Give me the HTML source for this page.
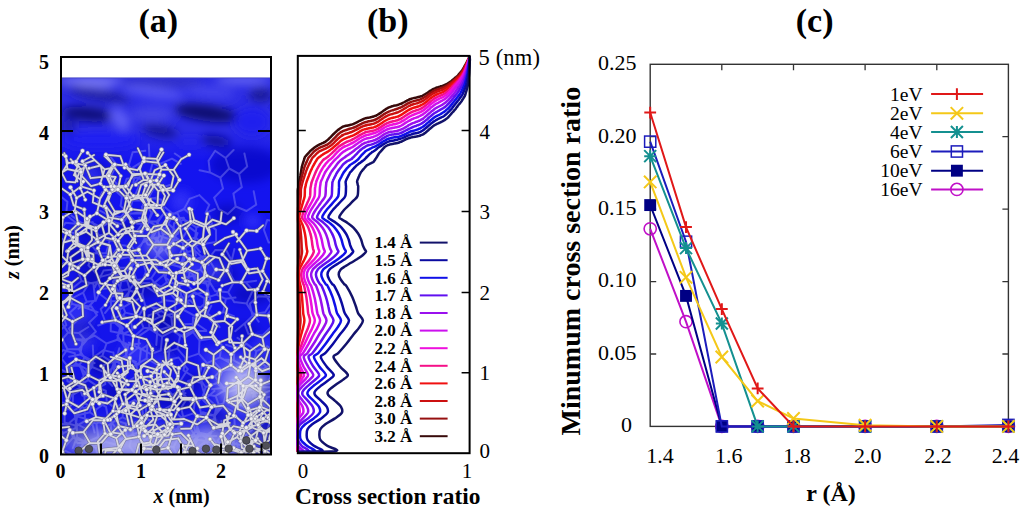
<!DOCTYPE html>
<html><head><meta charset="utf-8"><style>
html,body{margin:0;padding:0;background:#fff;}
svg{display:block;font-family:"Liberation Serif", serif;}
</style></head><body>
<svg width="1024" height="512" viewBox="0 0 1024 512" font-family='"Liberation Serif", serif'>
<rect width="1024" height="512" fill="#fff"/>
<text x="158.3" y="31.5" text-anchor="middle" font-size="34" font-weight="bold">(a)</text>
<text x="387.7" y="31.5" text-anchor="middle" font-size="34" font-weight="bold">(b)</text>
<text x="814.6" y="31.5" text-anchor="middle" font-size="34" font-weight="bold">(c)</text>
<path d="M650.2,354.0h6M1008.4,354.0h-6M650.2,281.6h6M1008.4,281.6h-6M650.2,209.1h6M1008.4,209.1h-6M650.2,136.7h6M1008.4,136.7h-6M721.8,426.4v-6M721.8,64.3v6M793.5,426.4v-6M793.5,64.3v6M865.1,426.4v-6M865.1,64.3v6M936.8,426.4v-6M936.8,64.3v6" stroke="#333" stroke-width="1.3" fill="none"/>
<text x="626.4" y="432.2" text-anchor="middle" font-size="22">0</text>
<text x="636.5" y="359.8" text-anchor="end" font-size="22">0.05</text>
<text x="636.5" y="287.4" text-anchor="end" font-size="22">0.10</text>
<text x="636.5" y="214.9" text-anchor="end" font-size="22">0.15</text>
<text x="636.5" y="142.5" text-anchor="end" font-size="22">0.20</text>
<text x="636.5" y="70.1" text-anchor="end" font-size="22">0.25</text>
<text x="660" y="462.5" text-anchor="middle" font-size="22">1.4</text>
<text x="728.7" y="462.5" text-anchor="middle" font-size="22">1.6</text>
<text x="797" y="462.5" text-anchor="middle" font-size="22">1.8</text>
<text x="867.8" y="462.5" text-anchor="middle" font-size="22">2.0</text>
<text x="938" y="462.5" text-anchor="middle" font-size="22">2.2</text>
<text x="1005.6" y="462.5" text-anchor="middle" font-size="22">2.4</text>
<text x="831" y="501" text-anchor="middle" font-size="24" font-weight="bold">r (&#197;)</text>
<text transform="translate(579.5,261.2) rotate(-90)" x="0" y="0" text-anchor="middle" font-size="28" font-weight="bold">Minumum cross section ratio</text>
<rect x="650.2" y="64.3" width="358.2" height="362.1" fill="none" stroke="#333" stroke-width="1.4"/>
<g>
<polyline points="650.2,228.8 686.0,321.7 721.8,426.4 757.7,426.4 793.5,426.4 865.1,426.4 936.8,426.4 1008.4,426.4" stroke="#c010c8" stroke-width="2" fill="none"/>
<circle cx="650.2" cy="228.83824" r="6.1" stroke="#c010c8" stroke-width="1.6" fill="none"/>
<circle cx="686.0200000000001" cy="321.68068" r="6.1" stroke="#c010c8" stroke-width="1.6" fill="none"/>
<circle cx="721.8400000000001" cy="426.4" r="6.1" stroke="#c010c8" stroke-width="1.6" fill="none"/>
<circle cx="757.6600000000001" cy="426.4" r="6.1" stroke="#c010c8" stroke-width="1.6" fill="none"/>
<circle cx="793.48" cy="426.4" r="6.1" stroke="#c010c8" stroke-width="1.6" fill="none"/>
<circle cx="865.12" cy="426.4" r="6.1" stroke="#c010c8" stroke-width="1.6" fill="none"/>
<circle cx="936.7600000000001" cy="426.4" r="6.1" stroke="#c010c8" stroke-width="1.6" fill="none"/>
<circle cx="1008.4" cy="426.4" r="6.1" stroke="#c010c8" stroke-width="1.6" fill="none"/>
<polyline points="650.2,205.1 686.0,295.9 721.8,426.4 757.7,426.4 793.5,426.4 865.1,426.4 936.8,426.4 1008.4,426.4" stroke="#000084" stroke-width="2" fill="none"/>
<rect x="644.25" y="199.13448000000002" width="11.9" height="11.9" fill="#000084"/>
<rect x="680.07" y="289.94916" width="11.9" height="11.9" fill="#000084"/>
<rect x="715.8900000000001" y="420.45" width="11.9" height="11.9" fill="#000084"/>
<rect x="751.71" y="420.45" width="11.9" height="11.9" fill="#000084"/>
<rect x="787.53" y="420.45" width="11.9" height="11.9" fill="#000084"/>
<rect x="859.17" y="420.45" width="11.9" height="11.9" fill="#000084"/>
<rect x="930.8100000000001" y="420.45" width="11.9" height="11.9" fill="#000084"/>
<rect x="1002.4499999999999" y="420.45" width="11.9" height="11.9" fill="#000084"/>
<polyline points="650.2,141.6 686.0,241.7 721.8,426.4 757.7,426.4 793.5,426.4 865.1,426.4 936.8,426.4 1008.4,425.0" stroke="#1c1cbc" stroke-width="2" fill="none"/>
<rect x="644.6" y="136.04456000000002" width="11.2" height="11.2" stroke="#1c1cbc" stroke-width="1.5" fill="none"/>
<rect x="680.4200000000001" y="236.129" width="11.2" height="11.2" stroke="#1c1cbc" stroke-width="1.5" fill="none"/>
<rect x="716.2400000000001" y="420.79999999999995" width="11.2" height="11.2" stroke="#1c1cbc" stroke-width="1.5" fill="none"/>
<rect x="752.0600000000001" y="420.79999999999995" width="11.2" height="11.2" stroke="#1c1cbc" stroke-width="1.5" fill="none"/>
<rect x="787.88" y="420.79999999999995" width="11.2" height="11.2" stroke="#1c1cbc" stroke-width="1.5" fill="none"/>
<rect x="859.52" y="420.79999999999995" width="11.2" height="11.2" stroke="#1c1cbc" stroke-width="1.5" fill="none"/>
<rect x="931.1600000000001" y="420.79999999999995" width="11.2" height="11.2" stroke="#1c1cbc" stroke-width="1.5" fill="none"/>
<rect x="1002.8" y="419.35159999999996" width="11.2" height="11.2" stroke="#1c1cbc" stroke-width="1.5" fill="none"/>
<polyline points="650.2,156.1 686.0,248.1 721.8,323.6 757.7,426.4 793.5,426.4 865.1,426.4 936.8,426.4 1008.4,426.4" stroke="#149090" stroke-width="2" fill="none"/>
<path d="M644.2,156.12856h12.0M650.2,150.12856v12.0M644.2,150.12856l12.0,12.0M644.2,162.12856l12.0,-12.0" stroke="#149090" stroke-width="2" fill="none"/>
<path d="M680.0200000000001,248.10196h12.0M686.0200000000001,242.10196v12.0M680.0200000000001,242.10196l12.0,12.0M680.0200000000001,254.10196l12.0,-12.0" stroke="#149090" stroke-width="2" fill="none"/>
<path d="M715.8400000000001,323.5636h12.0M721.8400000000001,317.5636v12.0M715.8400000000001,317.5636l12.0,12.0M715.8400000000001,329.5636l12.0,-12.0" stroke="#149090" stroke-width="2" fill="none"/>
<path d="M751.6600000000001,426.4h12.0M757.6600000000001,420.4v12.0M751.6600000000001,420.4l12.0,12.0M751.6600000000001,432.4l12.0,-12.0" stroke="#149090" stroke-width="2" fill="none"/>
<path d="M787.48,426.4h12.0M793.48,420.4v12.0M787.48,420.4l12.0,12.0M787.48,432.4l12.0,-12.0" stroke="#149090" stroke-width="2" fill="none"/>
<path d="M859.12,426.4h12.0M865.12,420.4v12.0M859.12,420.4l12.0,12.0M859.12,432.4l12.0,-12.0" stroke="#149090" stroke-width="2" fill="none"/>
<path d="M930.7600000000001,426.4h12.0M936.7600000000001,420.4v12.0M930.7600000000001,420.4l12.0,12.0M930.7600000000001,432.4l12.0,-12.0" stroke="#149090" stroke-width="2" fill="none"/>
<path d="M1002.4,426.4h12.0M1008.4,420.4v12.0M1002.4,420.4l12.0,12.0M1002.4,432.4l12.0,-12.0" stroke="#149090" stroke-width="2" fill="none"/>
<polyline points="650.2,181.9 686.0,277.4 721.8,357.0 757.7,401.1 793.5,418.4 865.1,425.2 936.8,426.4 1008.4,426.4" stroke="#f4c818" stroke-width="2" fill="none"/>
<path d="M644.0,175.71008l12.4,12.4M644.0,188.11007999999998l12.4,-12.4" stroke="#f4c818" stroke-width="2" fill="none"/>
<path d="M679.82,271.15964l12.4,12.4M679.82,283.55964l12.4,-12.4" stroke="#f4c818" stroke-width="2" fill="none"/>
<path d="M715.6400000000001,350.82164l12.4,12.4M715.6400000000001,363.22164l12.4,-12.4" stroke="#f4c818" stroke-width="2" fill="none"/>
<path d="M751.46,394.853l12.4,12.4M751.46,407.253l12.4,-12.4" stroke="#f4c818" stroke-width="2" fill="none"/>
<path d="M787.28,412.2338l12.4,12.4M787.28,424.63379999999995l12.4,-12.4" stroke="#f4c818" stroke-width="2" fill="none"/>
<path d="M858.92,419.04128l12.4,12.4M858.92,431.44127999999995l12.4,-12.4" stroke="#f4c818" stroke-width="2" fill="none"/>
<path d="M930.5600000000001,420.2l12.4,12.4M930.5600000000001,432.59999999999997l12.4,-12.4" stroke="#f4c818" stroke-width="2" fill="none"/>
<path d="M1002.1999999999999,420.2l12.4,12.4M1002.1999999999999,432.59999999999997l12.4,-12.4" stroke="#f4c818" stroke-width="2" fill="none"/>
<polyline points="650.2,112.5 686.0,227.1 721.8,309.1 757.7,388.5 793.5,426.4 865.1,426.4 936.8,426.4 1008.4,426.4" stroke="#e01818" stroke-width="2" fill="none"/>
<path d="M644.3000000000001,112.53172h11.8M650.2,106.63172v11.8" stroke="#e01818" stroke-width="2" fill="none"/>
<path d="M680.1200000000001,227.10016h11.8M686.0200000000001,221.20015999999998v11.8" stroke="#e01818" stroke-width="2" fill="none"/>
<path d="M715.9400000000002,309.07959999999997h11.8M721.8400000000001,303.1796v11.8" stroke="#e01818" stroke-width="2" fill="none"/>
<path d="M751.7600000000001,388.45192h11.8M757.6600000000001,382.55192v11.8" stroke="#e01818" stroke-width="2" fill="none"/>
<path d="M787.58,426.4h11.8M793.48,420.5v11.8" stroke="#e01818" stroke-width="2" fill="none"/>
<path d="M859.22,426.4h11.8M865.12,420.5v11.8" stroke="#e01818" stroke-width="2" fill="none"/>
<path d="M930.8600000000001,426.4h11.8M936.7600000000001,420.5v11.8" stroke="#e01818" stroke-width="2" fill="none"/>
<path d="M1002.5,426.4h11.8M1008.4,420.5v11.8" stroke="#e01818" stroke-width="2" fill="none"/>
</g>
<text x="922.5" y="100.8" text-anchor="end" font-size="19.5">1eV</text>
<path d="M931.1,94.1H983.1" stroke="#e01818" stroke-width="2"/>
<path d="M951.0,94.1h11.8M956.9,88.19999999999999v11.8" stroke="#e01818" stroke-width="2" fill="none"/>
<text x="922.5" y="120.0" text-anchor="end" font-size="19.5">2eV</text>
<path d="M931.1,113.3H983.1" stroke="#f4c818" stroke-width="2"/>
<path d="M950.6999999999999,107.1l12.4,12.4M950.6999999999999,119.5l12.4,-12.4" stroke="#f4c818" stroke-width="2" fill="none"/>
<text x="922.5" y="138.7" text-anchor="end" font-size="19.5">4eV</text>
<path d="M931.1,132.0H983.1" stroke="#149090" stroke-width="2"/>
<path d="M950.9,132.0h12.0M956.9,126.0v12.0M950.9,126.0l12.0,12.0M950.9,138.0l12.0,-12.0" stroke="#149090" stroke-width="2" fill="none"/>
<text x="922.5" y="158.2" text-anchor="end" font-size="19.5">6eV</text>
<path d="M931.1,151.5H983.1" stroke="#1c1cbc" stroke-width="2"/>
<rect x="951.3" y="145.9" width="11.2" height="11.2" stroke="#1c1cbc" stroke-width="1.5" fill="none"/>
<text x="922.5" y="177.4" text-anchor="end" font-size="19.5">10eV</text>
<path d="M931.1,170.7H983.1" stroke="#000084" stroke-width="2"/>
<rect x="950.9499999999999" y="164.75" width="11.9" height="11.9" fill="#000084"/>
<text x="922.5" y="196.1" text-anchor="end" font-size="19.5">16eV</text>
<path d="M931.1,189.4H983.1" stroke="#c010c8" stroke-width="2"/>
<circle cx="956.9" cy="189.4" r="6.1" stroke="#c010c8" stroke-width="1.6" fill="none"/>
<text x="479.5" y="458.3" font-size="21">0</text>
<text x="479.5" y="380.1" font-size="21">1</text>
<text x="479.5" y="299.8" font-size="21">2</text>
<text x="479.5" y="218.8" font-size="21">3</text>
<text x="479.5" y="139.3" font-size="21">4</text>
<text x="478.6" y="64.8" font-size="22.5" textLength="61.3" lengthAdjust="spacing">5 (nm)</text>
<text x="303" y="477.5" text-anchor="middle" font-size="21">0</text>
<text x="467" y="477.5" text-anchor="middle" font-size="21">1</text>
<text x="387.7" y="503.5" text-anchor="middle" font-size="23.4" font-weight="bold">Cross section ratio</text>
<text x="412.3" y="248.4" text-anchor="end" font-size="17" font-weight="bold">1.4 &#197;</text>
<path d="M419.8,242.6H447.6" stroke="#12126a" stroke-width="2"/>
<text x="412.3" y="266.0" text-anchor="end" font-size="17" font-weight="bold">1.5 &#197;</text>
<path d="M419.8,260.2H447.6" stroke="#0a0aa0" stroke-width="2"/>
<text x="412.3" y="283.6" text-anchor="end" font-size="17" font-weight="bold">1.6 &#197;</text>
<path d="M419.8,277.8H447.6" stroke="#1010e8" stroke-width="2"/>
<text x="412.3" y="301.2" text-anchor="end" font-size="17" font-weight="bold">1.7 &#197;</text>
<path d="M419.8,295.4H447.6" stroke="#6010f0" stroke-width="2"/>
<text x="412.3" y="318.8" text-anchor="end" font-size="17" font-weight="bold">1.8 &#197;</text>
<path d="M419.8,313.0H447.6" stroke="#9a10ee" stroke-width="2"/>
<text x="412.3" y="336.4" text-anchor="end" font-size="17" font-weight="bold">2.0 &#197;</text>
<path d="M419.8,330.6H447.6" stroke="#cc10ee" stroke-width="2"/>
<text x="412.3" y="354.0" text-anchor="end" font-size="17" font-weight="bold">2.2 &#197;</text>
<path d="M419.8,348.2H447.6" stroke="#ee10dd" stroke-width="2"/>
<text x="412.3" y="371.6" text-anchor="end" font-size="17" font-weight="bold">2.4 &#197;</text>
<path d="M419.8,365.8H447.6" stroke="#f51088" stroke-width="2"/>
<text x="412.3" y="389.2" text-anchor="end" font-size="17" font-weight="bold">2.6 &#197;</text>
<path d="M419.8,383.4H447.6" stroke="#f01010" stroke-width="2"/>
<text x="412.3" y="406.8" text-anchor="end" font-size="17" font-weight="bold">2.8 &#197;</text>
<path d="M419.8,401.0H447.6" stroke="#cc1010" stroke-width="2"/>
<text x="412.3" y="424.4" text-anchor="end" font-size="17" font-weight="bold">3.0 &#197;</text>
<path d="M419.8,418.6H447.6" stroke="#961010" stroke-width="2"/>
<text x="412.3" y="442.0" text-anchor="end" font-size="17" font-weight="bold">3.2 &#197;</text>
<path d="M419.8,436.2H447.6" stroke="#380a0a" stroke-width="2"/>
<g fill="none" stroke-width="2.5" stroke-linejoin="round">
<path d="M298.5,452.0C298.4,451.8 297.9,452.0 297.8,451.0C297.7,450.0 297.8,447.7 297.8,445.8C297.8,443.9 297.8,441.9 297.8,439.9C297.8,437.9 297.8,435.8 297.8,434.0C297.8,432.2 297.8,430.8 297.8,429.2C297.8,427.6 297.8,426.1 297.8,424.3C297.8,422.5 297.8,420.3 297.8,418.4C297.8,416.4 297.8,414.6 297.8,412.6C297.8,410.7 297.8,408.6 297.8,406.7C297.8,404.8 297.8,402.8 297.8,400.9C297.8,398.9 297.8,396.6 297.8,395.0C297.8,393.4 297.8,392.7 297.8,391.1C297.8,389.5 297.8,387.4 297.8,385.3C297.8,383.2 297.8,380.2 297.8,378.4C297.8,376.6 297.8,376.5 297.8,374.5C297.8,372.5 297.8,369.4 297.8,366.5C297.8,363.6 297.8,359.2 297.8,357.0C297.8,354.8 297.8,355.4 297.8,353.2C297.8,351.0 297.8,346.9 297.8,343.8C297.8,340.7 297.8,337.2 297.8,334.5C297.8,331.8 297.8,329.8 297.8,327.4C297.8,325.0 297.8,322.8 297.8,320.4C297.8,318.0 297.8,315.6 297.8,313.3C297.8,311.0 297.8,309.0 297.8,306.3C297.8,303.6 297.8,300.2 297.8,296.9C297.8,293.6 297.8,288.5 297.8,286.3C297.8,284.1 297.8,285.1 297.8,283.9C297.8,282.7 297.8,280.8 297.8,279.2C297.8,277.6 297.8,276.1 297.8,274.5C297.8,272.9 297.8,271.2 297.8,269.8C297.8,268.4 297.8,267.5 297.8,266.3C297.8,265.1 297.8,264.0 297.8,262.8C297.8,261.6 297.8,260.6 297.8,259.3C297.8,258.0 297.8,256.5 297.8,255.2C297.8,253.9 297.8,252.7 297.8,251.7C297.8,250.7 297.8,250.1 297.8,249.0C297.8,247.9 297.8,246.8 297.8,245.2C297.8,243.6 297.8,241.2 297.8,239.3C297.8,237.4 297.8,235.4 297.8,233.5C297.8,231.6 297.8,229.4 297.8,227.6C297.8,225.8 297.8,224.3 297.8,222.9C297.8,221.5 297.8,220.3 297.8,219.4C297.8,218.5 297.8,218.4 297.8,217.7C297.8,217.0 297.8,216.6 297.8,215.3C297.8,214.0 297.8,211.7 297.8,210.0C297.8,208.3 297.8,207.0 297.8,205.4C297.8,203.8 297.8,202.3 297.8,200.7C297.8,199.1 297.8,197.8 297.8,196.0C297.8,194.2 297.7,191.3 297.8,190.0C297.9,188.7 298.0,188.6 298.2,187.9C298.3,187.2 298.4,186.5 298.5,185.8C298.7,185.1 298.8,184.4 298.9,183.7C299.0,183.0 299.1,182.3 299.3,181.6C299.4,180.9 299.5,180.2 299.6,179.5C299.8,178.8 299.9,178.1 300.0,177.4C300.1,176.7 300.2,176.0 300.4,175.3C300.5,174.6 300.6,173.9 300.7,173.2C300.9,172.5 301.0,171.8 301.1,171.1C301.2,170.4 301.4,169.7 301.5,169.0C301.6,168.3 301.7,167.6 301.9,166.9C302.0,166.2 302.2,165.6 302.4,164.9C302.6,164.2 302.8,163.6 303.0,162.9C303.3,162.3 303.5,161.6 303.7,160.9C303.9,160.3 304.1,159.6 304.3,159.0C304.5,158.3 304.6,157.6 304.9,157.0C305.3,156.4 305.8,156.0 306.3,155.5C306.7,155.0 307.2,154.5 307.7,153.9C308.1,153.4 308.6,152.8 309.1,152.3C309.6,151.7 310.1,151.1 310.6,150.6C311.2,150.1 311.8,149.7 312.4,149.2C313.0,148.7 313.6,148.3 314.2,147.8C314.8,147.3 315.4,146.9 316.0,146.5C316.6,146.1 317.2,145.7 317.8,145.4C318.4,145.0 319.1,144.7 319.7,144.4C320.3,144.1 320.9,143.8 321.5,143.6C322.1,143.3 322.7,143.1 323.3,142.8C323.9,142.5 324.5,142.2 325.0,141.9C325.6,141.5 326.1,141.1 326.6,140.7C327.2,140.3 327.7,139.8 328.2,139.4C328.8,138.9 329.3,138.4 329.8,137.9C330.4,137.4 330.9,136.9 331.4,136.3C332.0,135.7 332.5,135.1 333.1,134.5C333.6,134.0 334.2,133.4 334.8,132.8C335.4,132.2 336.0,131.7 336.6,131.2C337.2,130.7 337.8,130.1 338.5,129.6C339.1,129.2 339.7,128.7 340.3,128.3C340.9,127.8 341.5,127.5 342.1,127.1C342.8,126.8 343.3,126.4 344.0,126.2C344.6,126.0 345.3,125.9 345.9,125.7C346.6,125.6 347.3,125.5 347.9,125.4C348.6,125.3 349.2,125.2 349.9,125.0C350.5,124.9 351.2,124.7 351.9,124.5C352.5,124.3 353.2,124.1 353.8,123.8C354.5,123.6 355.1,123.3 355.8,122.9C356.5,122.6 357.1,122.3 357.8,121.9C358.4,121.6 359.1,121.2 359.7,120.8C360.4,120.5 361.0,120.2 361.7,119.8C362.4,119.5 363.0,119.2 363.7,119.0C364.3,118.7 365.0,118.5 365.6,118.3C366.3,118.1 367.0,117.9 367.6,117.8C368.3,117.6 368.9,117.5 369.6,117.4C370.2,117.3 370.9,117.1 371.5,117.0C372.2,116.8 372.9,116.7 373.5,116.5C374.2,116.3 374.8,116.0 375.5,115.8C376.1,115.5 376.8,115.2 377.5,114.8C378.1,114.4 378.8,114.0 379.4,113.6C380.1,113.2 380.7,112.7 381.4,112.3C382.0,111.9 382.7,111.4 383.3,110.9C384.0,110.5 384.6,110.0 385.2,109.6C385.9,109.1 386.5,108.7 387.1,108.4C387.8,108.0 388.4,107.7 389.0,107.4C389.7,107.1 390.3,106.9 390.9,106.7C391.6,106.4 392.2,106.3 392.8,106.1C393.4,105.9 394.1,105.7 394.7,105.6C395.4,105.4 396.0,105.3 396.7,105.2C397.3,105.0 398.0,104.9 398.6,104.6C399.3,104.4 400.0,104.2 400.6,103.9C401.3,103.7 401.9,103.3 402.6,103.0C403.2,102.7 403.9,102.3 404.5,102.0C405.2,101.6 405.9,101.2 406.5,100.9C407.2,100.5 407.8,100.2 408.5,99.9C409.1,99.6 409.8,99.3 410.5,99.0C411.1,98.8 411.8,98.6 412.4,98.4C413.1,98.2 413.7,98.1 414.4,97.9C415.1,97.8 415.7,97.6 416.4,97.5C417.0,97.4 417.7,97.2 418.3,97.1C419.0,96.9 419.6,96.7 420.3,96.5C421.0,96.3 421.6,96.1 422.3,95.8C422.9,95.5 423.6,95.1 424.2,94.7C424.9,94.4 425.5,94.0 426.2,93.5C426.9,93.1 427.5,92.7 428.2,92.2C428.8,91.8 429.5,91.3 430.1,90.9C430.8,90.5 431.5,90.1 432.1,89.7C432.8,89.4 433.4,89.0 434.1,88.7C434.7,88.4 435.3,88.1 436.0,87.8C436.6,87.6 437.2,87.4 437.9,87.2C438.5,87.0 439.1,86.8 439.8,86.6C440.4,86.4 441.0,86.3 441.7,86.1C442.3,85.9 442.9,85.8 443.6,85.5C444.2,85.3 444.8,85.0 445.4,84.7C446.0,84.4 446.7,84.1 447.3,83.7C447.9,83.3 448.5,82.9 449.1,82.5C449.8,82.1 450.4,81.7 451.0,81.3C451.6,80.8 452.1,80.3 452.7,79.9C453.3,79.4 453.8,78.9 454.4,78.5C454.9,78.0 455.5,77.6 456.1,77.1C456.6,76.7 457.1,76.3 457.6,75.8C458.1,75.3 458.5,74.7 459.0,74.2C459.4,73.7 459.9,73.1 460.3,72.6C460.8,72.1 461.3,71.6 461.7,71.0C462.1,70.4 462.5,69.8 462.8,69.2C463.2,68.6 463.5,68.0 463.9,67.4C464.2,66.8 464.6,66.1 465.0,65.5C465.3,64.9 465.7,64.3 466.0,63.7C466.3,63.1 466.7,62.4 467.0,61.8C467.3,61.2 467.6,60.6 468.0,59.9C468.3,59.3 468.7,58.7 468.9,58.0C469.2,57.4 469.4,56.3 469.5,56.0" stroke="#380a0a"/>
<path d="M298.5,452.0C298.4,451.8 297.9,452.0 297.8,451.0C297.7,450.0 297.8,447.7 297.8,445.8C297.8,443.9 297.8,441.9 297.8,439.9C297.8,437.9 297.8,435.8 297.8,434.0C297.8,432.2 297.8,430.8 297.8,429.2C297.8,427.6 297.8,426.1 297.8,424.3C297.8,422.5 297.8,420.3 297.8,418.4C297.8,416.4 297.8,414.6 297.8,412.6C297.8,410.7 297.8,408.6 297.8,406.7C297.8,404.8 297.8,402.8 297.8,400.9C297.8,398.9 297.8,396.6 297.8,395.0C297.8,393.4 297.8,392.7 297.8,391.1C297.8,389.5 297.8,387.4 297.8,385.3C297.8,383.2 297.8,380.2 297.8,378.4C297.8,376.6 297.9,376.5 297.9,374.5C297.9,372.5 297.8,369.4 297.8,366.5C297.8,363.6 297.8,359.2 297.8,357.0C297.8,354.8 297.8,355.4 297.8,353.2C297.8,351.0 297.9,346.9 297.9,343.8C297.9,340.7 298.0,337.2 298.1,334.5C298.1,331.8 298.2,329.8 298.3,327.4C298.4,325.0 298.5,322.8 298.5,320.4C298.5,318.0 298.4,315.6 298.3,313.3C298.3,311.0 298.3,309.0 298.3,306.3C298.2,303.6 298.2,300.2 298.2,296.9C298.1,293.6 298.1,288.5 298.0,286.3C298.0,284.1 298.0,285.1 298.0,283.9C298.0,282.7 298.0,280.8 297.9,279.2C297.9,277.6 297.9,276.1 297.9,274.5C297.9,272.9 297.9,271.2 298.0,269.8C298.0,268.4 298.0,267.5 298.1,266.3C298.2,265.1 298.2,264.0 298.3,262.8C298.4,261.6 298.6,260.6 298.7,259.3C298.8,258.0 299.0,256.5 299.1,255.2C299.2,253.9 299.3,252.7 299.3,251.7C299.3,250.7 299.2,250.1 299.2,249.0C299.2,247.9 299.1,246.8 299.1,245.2C299.0,243.6 299.0,241.2 299.0,239.3C298.9,237.4 298.8,235.4 298.8,233.5C298.7,231.6 298.6,229.4 298.5,227.6C298.4,225.8 298.3,224.3 298.2,222.9C298.1,221.5 298.1,220.3 298.0,219.4C298.0,218.5 298.0,218.4 298.0,217.7C298.0,217.0 298.0,216.6 298.0,215.3C298.0,214.0 298.0,211.7 298.1,210.0C298.1,208.3 298.2,207.0 298.3,205.4C298.3,203.8 298.4,202.3 298.5,200.7C298.6,199.1 298.7,197.8 298.7,196.0C298.8,194.2 298.7,191.1 298.8,189.7C298.8,188.3 299.1,188.3 299.2,187.6C299.3,187.0 299.5,186.3 299.6,185.6C299.8,184.9 299.9,184.2 300.0,183.5C300.2,182.8 300.4,182.2 300.5,181.5C300.7,180.8 300.9,180.1 301.1,179.4C301.2,178.8 301.4,178.1 301.6,177.4C301.8,176.7 302.0,176.0 302.1,175.3C302.3,174.7 302.5,174.0 302.7,173.3C302.8,172.6 303.0,171.9 303.2,171.3C303.4,170.6 303.6,169.9 303.8,169.3C304.0,168.6 304.1,167.9 304.4,167.3C304.6,166.6 304.9,166.0 305.1,165.4C305.4,164.7 305.7,164.1 305.9,163.5C306.2,162.8 306.5,162.2 306.8,161.6C307.0,160.9 307.3,160.3 307.6,159.7C307.9,159.1 308.1,158.4 308.4,157.8C308.8,157.2 309.4,156.7 309.9,156.1C310.4,155.6 310.9,155.0 311.5,154.4C312.0,153.9 312.5,153.2 313.0,152.7C313.5,152.1 314.0,151.5 314.6,151.0C315.2,150.5 315.8,150.1 316.4,149.7C317.1,149.3 317.7,148.9 318.3,148.5C318.9,148.2 319.5,147.8 320.1,147.5C320.8,147.2 321.4,147.0 322.0,146.7C322.6,146.5 323.3,146.2 323.9,146.0C324.5,145.7 325.2,145.5 325.8,145.2C326.4,144.9 327.1,144.6 327.7,144.3C328.3,143.9 328.9,143.5 329.5,143.0C330.1,142.5 330.6,142.0 331.2,141.4C331.8,140.9 332.4,140.3 332.9,139.7C333.5,139.1 334.1,138.5 334.7,137.9C335.3,137.3 335.9,136.7 336.4,136.1C337.0,135.5 337.6,134.8 338.2,134.3C338.8,133.8 339.4,133.2 340.0,132.8C340.6,132.3 341.3,132.0 342.0,131.6C342.6,131.3 343.3,131.0 343.9,130.7C344.6,130.5 345.2,130.2 345.9,130.0C346.5,129.8 347.2,129.6 347.8,129.4C348.5,129.2 349.0,128.9 349.6,128.7C350.3,128.6 350.9,128.5 351.6,128.3C352.2,128.1 352.9,127.9 353.5,127.6C354.2,127.4 354.8,127.1 355.5,126.8C356.1,126.5 356.7,126.2 357.4,125.8C358.0,125.5 358.7,125.1 359.3,124.8C360.0,124.4 360.6,124.1 361.3,123.8C361.9,123.5 362.6,123.2 363.2,122.9C363.9,122.6 364.5,122.4 365.1,122.2C365.8,122.0 366.4,121.9 367.1,121.7C367.7,121.5 368.4,121.4 369.0,121.3C369.7,121.2 370.3,121.1 370.9,120.9C371.6,120.8 372.2,120.6 372.9,120.4C373.5,120.3 374.2,120.1 374.8,119.8C375.5,119.6 376.1,119.3 376.7,118.9C377.4,118.6 378.0,118.2 378.7,117.8C379.3,117.4 379.9,117.0 380.6,116.6C381.2,116.1 381.9,115.7 382.5,115.2C383.1,114.8 383.8,114.3 384.4,113.9C385.1,113.5 385.7,113.2 386.3,112.8C387.0,112.5 387.6,112.2 388.3,111.9C388.9,111.6 389.5,111.3 390.1,111.1C390.7,110.8 391.3,110.6 392.0,110.4C392.6,110.2 393.2,110.0 393.8,109.9C394.4,109.7 395.0,109.5 395.7,109.3C396.3,109.1 396.9,108.9 397.5,108.7C398.1,108.5 398.7,108.2 399.3,107.9C400.0,107.7 400.6,107.4 401.3,107.1C401.9,106.8 402.5,106.5 403.2,106.1C403.8,105.8 404.4,105.4 405.1,105.0C405.7,104.7 406.3,104.3 407.0,103.9C407.6,103.6 408.3,103.3 408.9,102.9C409.5,102.6 410.2,102.4 410.8,102.1C411.4,101.8 412.0,101.6 412.7,101.4C413.3,101.2 413.9,101.1 414.6,100.9C415.2,100.7 415.8,100.6 416.5,100.4C417.1,100.3 417.7,100.1 418.4,100.0C419.0,99.8 419.6,99.6 420.3,99.4C420.9,99.1 421.5,98.8 422.1,98.5C422.8,98.2 423.4,97.9 424.0,97.5C424.6,97.1 425.3,96.7 425.9,96.3C426.5,95.8 427.1,95.4 427.8,94.9C428.4,94.5 429.0,94.0 429.6,93.6C430.3,93.1 430.9,92.7 431.5,92.3C432.1,91.9 432.7,91.5 433.4,91.2C434.0,90.8 434.6,90.5 435.2,90.3C435.8,90.0 436.5,89.8 437.1,89.6C437.7,89.4 438.3,89.1 438.9,88.9C439.5,88.7 440.0,88.5 440.6,88.3C441.2,88.1 441.8,87.9 442.4,87.7C443.0,87.5 443.5,87.2 444.1,87.0C444.7,86.7 445.3,86.5 445.9,86.1C446.5,85.8 447.0,85.4 447.6,85.0C448.2,84.6 448.7,84.2 449.3,83.8C449.9,83.3 450.5,82.9 451.0,82.5C451.6,82.0 452.2,81.6 452.7,81.2C453.3,80.7 453.8,80.2 454.3,79.8C454.8,79.3 455.3,78.8 455.8,78.4C456.3,78.0 456.8,77.5 457.3,77.1C457.8,76.6 458.3,76.2 458.8,75.7C459.2,75.2 459.6,74.7 460.0,74.1C460.4,73.6 460.8,73.1 461.2,72.5C461.7,72.0 462.1,71.5 462.5,70.9C462.8,70.3 463.2,69.7 463.5,69.1C463.8,68.5 464.1,67.9 464.5,67.3C464.8,66.7 465.1,66.0 465.4,65.4C465.7,64.8 466.1,64.2 466.4,63.6C466.7,63.0 467.0,62.4 467.3,61.7C467.6,61.1 467.9,60.5 468.1,59.9C468.4,59.3 468.8,58.7 469.0,58.0C469.2,57.4 469.4,56.3 469.5,56.0" stroke="#961010"/>
<path d="M298.5,452.0C298.4,451.8 297.9,452.0 297.8,451.0C297.7,450.0 297.8,447.7 297.8,445.8C297.8,443.9 297.8,441.9 297.8,439.9C297.8,437.9 297.8,435.8 297.8,434.0C297.8,432.2 297.8,430.8 297.8,429.2C297.8,427.6 297.8,426.1 297.8,424.3C297.8,422.5 297.8,420.3 297.8,418.4C297.8,416.4 297.8,414.6 297.8,412.6C297.8,410.7 297.8,408.6 297.8,406.7C297.8,404.8 297.8,402.8 297.8,400.9C297.8,398.9 297.8,396.6 297.8,395.0C297.8,393.4 297.8,392.7 297.8,391.1C297.8,389.5 297.8,387.4 297.8,385.3C297.8,383.2 297.9,380.2 297.9,378.4C297.9,376.6 298.0,376.5 298.0,374.5C298.0,372.5 297.9,369.4 297.8,366.5C297.8,363.6 297.8,359.2 297.8,357.0C297.8,354.8 297.8,355.4 297.8,353.2C297.9,351.0 298.0,346.9 298.1,343.8C298.3,340.7 298.7,337.2 299.0,334.5C299.3,331.8 299.6,329.8 299.9,327.4C300.1,325.0 300.5,322.8 300.5,320.4C300.5,318.0 300.1,315.6 300.0,313.3C299.8,311.0 299.8,309.0 299.7,306.3C299.6,303.6 299.5,300.2 299.4,296.9C299.2,293.6 298.9,288.5 298.8,286.3C298.7,284.1 298.6,285.1 298.5,283.9C298.4,282.7 298.3,280.8 298.3,279.2C298.2,277.6 298.1,276.1 298.2,274.5C298.2,272.9 298.2,271.2 298.3,269.8C298.5,268.4 298.7,267.5 298.9,266.3C299.1,265.1 299.5,264.0 299.8,262.8C300.0,261.6 300.4,260.6 300.7,259.3C301.0,258.0 301.3,256.5 301.5,255.2C301.8,253.9 302.0,252.7 302.0,251.7C302.1,250.7 301.9,250.1 301.8,249.0C301.7,247.9 301.6,246.8 301.6,245.2C301.5,243.6 301.4,241.2 301.3,239.3C301.2,237.4 301.0,235.4 300.8,233.5C300.7,231.6 300.4,229.4 300.2,227.6C299.9,225.8 299.6,224.3 299.3,222.9C299.1,221.5 298.7,220.3 298.6,219.4C298.4,218.5 298.4,218.4 298.3,217.7C298.3,217.0 298.3,216.6 298.4,215.3C298.5,214.0 298.7,211.7 298.8,210.0C299.0,208.3 299.3,207.0 299.5,205.4C299.7,203.8 299.9,202.3 300.2,200.7C300.4,199.1 300.6,197.9 300.8,196.0C300.9,194.1 300.8,190.8 300.9,189.4C301.0,188.0 301.2,188.1 301.3,187.4C301.5,186.7 301.6,186.0 301.8,185.4C301.9,184.7 302.0,184.0 302.2,183.4C302.4,182.7 302.6,182.0 302.8,181.3C303.0,180.7 303.2,180.0 303.4,179.4C303.6,178.7 303.9,178.0 304.1,177.4C304.3,176.7 304.5,176.0 304.7,175.4C304.9,174.7 305.1,174.0 305.4,173.4C305.6,172.7 305.8,172.0 306.0,171.4C306.3,170.7 306.5,170.1 306.8,169.5C307.0,168.9 307.2,168.2 307.5,167.6C307.8,167.0 308.1,166.3 308.4,165.7C308.7,165.1 309.0,164.5 309.3,163.8C309.7,163.2 310.0,162.5 310.3,161.9C310.6,161.3 311.0,160.7 311.3,160.0C311.6,159.4 311.9,158.7 312.3,158.1C312.7,157.5 313.3,157.0 313.9,156.4C314.4,155.9 315.0,155.3 315.5,154.8C316.0,154.2 316.6,153.7 317.1,153.2C317.7,152.7 318.2,152.2 318.8,151.8C319.3,151.4 320.0,151.1 320.6,150.8C321.2,150.5 321.9,150.2 322.5,149.9C323.1,149.7 323.7,149.4 324.3,149.1C325.0,148.8 325.6,148.6 326.2,148.2C326.9,147.9 327.5,147.6 328.1,147.2C328.8,146.9 329.4,146.5 330.1,146.0C330.7,145.6 331.4,145.2 332.0,144.6C332.7,144.1 333.3,143.5 333.9,142.9C334.5,142.3 335.0,141.7 335.6,141.0C336.2,140.4 336.9,139.8 337.5,139.3C338.1,138.7 338.7,138.2 339.3,137.6C339.9,137.1 340.5,136.6 341.1,136.2C341.7,135.7 342.3,135.3 343.0,135.0C343.6,134.6 344.2,134.3 344.9,134.1C345.5,133.8 346.2,133.6 346.9,133.5C347.6,133.3 348.2,133.1 348.9,132.9C349.6,132.7 350.2,132.5 350.9,132.2C351.6,132.0 352.3,131.7 352.9,131.4C353.6,131.1 354.1,130.7 354.8,130.4C355.4,130.1 356.0,129.8 356.7,129.5C357.3,129.1 357.9,128.8 358.6,128.5C359.2,128.1 359.8,127.8 360.5,127.4C361.1,127.1 361.7,126.8 362.4,126.5C363.0,126.3 363.7,126.0 364.3,125.8C364.9,125.6 365.6,125.4 366.2,125.2C366.8,125.1 367.5,124.9 368.1,124.8C368.7,124.7 369.4,124.6 370.0,124.5C370.7,124.4 371.3,124.2 371.9,124.1C372.6,123.9 373.2,123.8 373.8,123.6C374.5,123.4 375.1,123.1 375.7,122.8C376.4,122.6 377.0,122.2 377.6,121.9C378.3,121.5 378.9,121.1 379.5,120.7C380.2,120.3 380.8,119.9 381.4,119.4C382.1,119.0 382.7,118.6 383.3,118.1C383.9,117.7 384.6,117.3 385.2,116.9C385.8,116.5 386.4,116.2 387.1,115.8C387.7,115.5 388.3,115.3 388.9,115.0C389.6,114.8 390.2,114.6 390.8,114.4C391.4,114.2 392.1,114.1 392.7,113.9C393.3,113.8 393.9,113.6 394.5,113.4C395.1,113.2 395.7,113.0 396.3,112.8C396.9,112.6 397.5,112.4 398.1,112.2C398.7,111.9 399.3,111.6 399.9,111.3C400.5,111.0 401.1,110.7 401.7,110.3C402.3,110.0 402.9,109.6 403.5,109.2C404.1,108.8 404.8,108.4 405.4,108.1C406.0,107.7 406.6,107.3 407.2,107.0C407.9,106.6 408.5,106.3 409.1,106.0C409.7,105.7 410.3,105.4 410.9,105.1C411.6,104.9 412.2,104.7 412.8,104.5C413.4,104.2 414.0,104.1 414.6,103.9C415.2,103.7 415.8,103.6 416.5,103.4C417.1,103.2 417.7,103.0 418.3,102.9C418.9,102.7 419.5,102.5 420.1,102.2C420.7,102.0 421.3,101.7 421.9,101.4C422.5,101.1 423.2,100.7 423.8,100.4C424.4,100.0 425.0,99.6 425.6,99.1C426.1,98.7 426.7,98.2 427.3,97.8C427.9,97.3 428.5,96.8 429.1,96.4C429.7,95.9 430.3,95.4 430.9,95.0C431.5,94.6 432.1,94.2 432.7,93.8C433.3,93.4 433.9,93.1 434.5,92.8C435.1,92.5 435.7,92.2 436.3,92.0C436.8,91.7 437.4,91.5 438.0,91.3C438.6,91.1 439.2,90.9 439.8,90.7C440.3,90.5 440.9,90.3 441.5,90.1C442.0,89.9 442.6,89.6 443.1,89.4C443.6,89.1 444.2,88.8 444.7,88.5C445.3,88.2 445.8,87.9 446.3,87.5C446.9,87.2 447.4,86.8 448.0,86.4C448.5,86.0 449.0,85.6 449.6,85.1C450.1,84.7 450.6,84.2 451.2,83.7C451.7,83.3 452.2,82.8 452.7,82.4C453.3,82.0 453.8,81.6 454.3,81.1C454.8,80.7 455.2,80.2 455.7,79.7C456.2,79.3 456.6,78.8 457.1,78.4C457.6,77.9 458.0,77.5 458.5,77.1C458.9,76.6 459.4,76.2 459.8,75.7C460.2,75.2 460.6,74.6 460.9,74.1C461.3,73.5 461.7,73.0 462.1,72.4C462.4,71.9 462.8,71.4 463.2,70.8C463.5,70.2 463.8,69.6 464.1,69.0C464.4,68.4 464.7,67.8 465.0,67.2C465.3,66.6 465.6,66.0 465.8,65.4C466.1,64.7 466.4,64.1 466.7,63.5C467.0,62.9 467.2,62.3 467.5,61.7C467.8,61.1 468.1,60.4 468.3,59.8C468.6,59.2 468.9,58.6 469.1,58.0C469.3,57.3 469.4,56.3 469.5,56.0" stroke="#cc1010"/>
<path d="M298.5,452.0C298.4,451.8 297.9,452.0 297.8,451.0C297.7,450.0 297.8,447.7 297.8,445.8C297.8,443.9 297.8,441.9 297.8,439.9C297.8,437.9 297.8,435.8 297.8,434.0C297.8,432.2 297.8,430.8 297.8,429.2C297.8,427.6 297.8,426.1 297.8,424.3C297.8,422.5 297.8,420.3 297.8,418.4C297.8,416.4 297.8,414.6 297.8,412.6C297.8,410.7 297.8,408.6 297.8,406.7C297.8,404.8 297.8,402.8 297.8,400.9C297.8,398.9 297.8,396.6 297.8,395.0C297.8,393.4 297.8,392.7 297.8,391.1C297.8,389.5 297.8,387.4 297.8,385.3C297.8,383.2 297.9,380.2 298.0,378.4C298.1,376.6 298.5,376.5 298.4,374.5C298.4,372.5 297.9,369.4 297.8,366.5C297.7,363.6 297.8,359.2 297.8,357.0C297.8,354.8 297.7,355.4 297.8,353.2C298.0,351.0 298.3,346.9 298.9,343.8C299.4,340.7 300.5,337.2 301.2,334.5C301.9,331.8 302.6,329.8 303.1,327.4C303.7,325.0 304.4,322.8 304.4,320.4C304.5,318.0 303.5,315.6 303.2,313.3C303.0,311.0 303.0,309.0 302.7,306.3C302.5,303.6 302.3,300.2 302.0,296.9C301.6,293.6 301.0,288.5 300.6,286.3C300.3,284.1 300.2,285.1 299.9,283.9C299.7,282.7 299.3,280.8 299.1,279.2C298.9,277.6 298.7,276.1 298.8,274.5C298.8,272.9 299.0,271.2 299.3,269.8C299.7,268.4 300.3,267.5 300.8,266.3C301.4,265.1 302.1,264.0 302.7,262.8C303.3,261.6 303.9,260.6 304.5,259.3C305.1,258.0 305.8,256.5 306.3,255.2C306.7,253.9 307.2,252.7 307.3,251.7C307.4,250.7 307.0,250.1 306.8,249.0C306.7,247.9 306.5,246.8 306.3,245.2C306.1,243.6 306.0,241.2 305.8,239.3C305.5,237.4 305.3,235.4 304.9,233.5C304.5,231.6 304.0,229.4 303.5,227.6C303.0,225.8 302.3,224.3 301.7,222.9C301.2,221.5 300.4,220.3 300.0,219.4C299.6,218.5 299.4,218.4 299.3,217.7C299.2,217.0 299.3,216.6 299.5,215.3C299.7,214.0 300.2,211.7 300.7,210.0C301.1,208.3 301.6,207.0 302.1,205.4C302.5,203.8 303.0,202.3 303.5,200.7C303.9,199.1 304.5,197.9 304.7,196.0C304.9,194.1 304.8,190.6 304.9,189.1C305.0,187.6 305.2,187.8 305.4,187.1C305.5,186.5 305.6,185.8 305.8,185.1C305.9,184.5 306.0,183.8 306.2,183.2C306.4,182.5 306.6,181.9 306.8,181.2C307.0,180.6 307.3,179.9 307.5,179.3C307.8,178.6 308.0,178.0 308.3,177.3C308.5,176.7 308.8,176.0 309.0,175.4C309.2,174.7 309.5,174.1 309.7,173.4C310.0,172.8 310.2,172.1 310.5,171.5C310.8,170.9 311.1,170.3 311.4,169.6C311.7,169.0 311.9,168.4 312.2,167.8C312.5,167.1 312.9,166.5 313.2,165.9C313.6,165.2 313.9,164.6 314.3,164.0C314.6,163.3 315.0,162.7 315.3,162.1C315.7,161.5 316.1,160.9 316.5,160.3C316.8,159.7 317.1,159.1 317.6,158.5C318.1,158.0 318.7,157.6 319.2,157.1C319.8,156.7 320.4,156.3 320.9,155.9C321.5,155.5 322.0,155.1 322.6,154.7C323.1,154.4 323.6,154.0 324.2,153.6C324.8,153.3 325.4,153.0 326.0,152.7C326.6,152.4 327.3,152.0 327.9,151.6C328.5,151.3 329.1,150.8 329.7,150.4C330.3,149.9 330.9,149.4 331.5,148.9C332.2,148.4 332.8,147.9 333.4,147.3C334.1,146.8 334.7,146.2 335.4,145.7C336.0,145.1 336.7,144.5 337.3,144.0C338.0,143.5 338.6,142.9 339.2,142.4C339.8,141.8 340.4,141.3 341.0,140.8C341.6,140.4 342.2,140.0 342.8,139.6C343.5,139.3 344.1,139.0 344.7,138.7C345.4,138.4 346.0,138.1 346.6,137.9C347.2,137.6 347.8,137.3 348.5,137.1C349.1,136.9 349.8,136.6 350.4,136.4C351.1,136.1 351.8,135.9 352.5,135.7C353.2,135.4 353.9,135.1 354.5,134.7C355.2,134.4 355.9,134.0 356.6,133.6C357.3,133.2 358.0,132.7 358.6,132.3C359.3,131.9 359.8,131.5 360.4,131.1C361.0,130.8 361.7,130.5 362.3,130.2C362.9,129.9 363.5,129.6 364.2,129.4C364.8,129.2 365.4,129.0 366.0,128.9C366.7,128.7 367.3,128.6 367.9,128.5C368.5,128.3 369.2,128.3 369.8,128.1C370.4,128.0 371.1,127.9 371.7,127.8C372.3,127.7 372.9,127.5 373.6,127.4C374.2,127.2 374.8,127.0 375.4,126.7C376.1,126.5 376.7,126.2 377.3,125.8C377.9,125.5 378.5,125.1 379.2,124.7C379.8,124.3 380.4,123.9 381.0,123.5C381.7,123.1 382.3,122.6 382.9,122.2C383.5,121.8 384.1,121.4 384.8,121.0C385.4,120.7 386.0,120.3 386.6,120.0C387.2,119.7 387.8,119.4 388.5,119.1C389.1,118.9 389.7,118.6 390.3,118.4C390.9,118.2 391.5,118.1 392.1,117.9C392.7,117.8 393.3,117.7 393.9,117.5C394.5,117.4 395.1,117.3 395.8,117.1C396.4,117.0 397.0,116.8 397.6,116.6C398.2,116.4 398.7,116.1 399.3,115.8C399.9,115.5 400.5,115.2 401.1,114.9C401.7,114.5 402.3,114.2 402.9,113.8C403.5,113.4 404.1,113.0 404.6,112.6C405.2,112.2 405.8,111.8 406.4,111.4C407.0,111.0 407.6,110.6 408.2,110.2C408.8,109.9 409.4,109.5 410.0,109.3C410.6,109.0 411.2,108.7 411.8,108.5C412.4,108.2 413.0,108.0 413.6,107.8C414.2,107.6 414.8,107.5 415.4,107.3C416.0,107.1 416.5,107.0 417.1,106.8C417.7,106.6 418.3,106.4 418.9,106.2C419.5,105.9 420.1,105.7 420.6,105.4C421.2,105.1 421.8,104.8 422.4,104.5C423.0,104.2 423.6,103.8 424.2,103.4C424.7,103.0 425.3,102.6 425.9,102.1C426.5,101.7 427.1,101.2 427.7,100.7C428.2,100.3 428.8,99.8 429.4,99.3C429.9,98.8 430.5,98.4 431.0,97.9C431.6,97.5 432.2,97.1 432.7,96.7C433.3,96.3 433.9,95.9 434.4,95.6C435.0,95.3 435.6,95.0 436.1,94.7C436.7,94.5 437.3,94.2 437.8,94.0C438.4,93.8 438.9,93.6 439.5,93.4C440.0,93.1 440.6,93.0 441.1,92.7C441.7,92.5 442.2,92.3 442.7,92.1C443.3,91.8 443.8,91.6 444.3,91.2C444.9,90.9 445.3,90.6 445.8,90.2C446.3,89.9 446.8,89.5 447.3,89.1C447.8,88.7 448.3,88.3 448.8,87.9C449.3,87.4 449.8,87.0 450.3,86.5C450.8,86.1 451.3,85.6 451.7,85.1C452.2,84.6 452.7,84.1 453.2,83.7C453.7,83.2 454.2,82.8 454.6,82.4C455.1,81.9 455.6,81.5 456.0,81.1C456.4,80.7 456.9,80.2 457.3,79.7C457.7,79.3 458.1,78.8 458.5,78.4C458.9,77.9 459.4,77.5 459.8,77.1C460.2,76.6 460.6,76.1 460.9,75.6C461.3,75.1 461.6,74.6 462.0,74.0C462.3,73.5 462.6,72.9 463.0,72.4C463.3,71.8 463.6,71.2 463.9,70.7C464.2,70.1 464.5,69.5 464.8,68.9C465.0,68.3 465.3,67.7 465.5,67.1C465.8,66.5 466.1,65.9 466.3,65.3C466.6,64.7 466.8,64.1 467.1,63.5C467.3,62.8 467.6,62.2 467.8,61.6C468.0,61.0 468.3,60.4 468.5,59.8C468.7,59.2 469.0,58.6 469.2,57.9C469.3,57.3 469.4,56.3 469.5,56.0" stroke="#f01010"/>
<path d="M298.5,452.0C298.4,451.8 297.9,452.0 297.8,451.0C297.7,450.0 297.8,447.7 297.8,445.8C297.8,443.9 297.8,441.9 297.8,439.9C297.8,437.9 297.8,435.8 297.8,434.0C297.8,432.2 297.8,430.8 297.8,429.2C297.8,427.6 297.8,426.1 297.8,424.3C297.8,422.5 297.7,420.3 297.8,418.4C297.9,416.4 298.1,414.6 298.1,412.6C298.2,410.7 298.0,408.6 298.0,406.7C297.9,404.8 297.8,402.8 297.8,400.9C297.8,398.9 297.8,396.6 297.8,395.0C297.8,393.4 297.8,392.7 297.8,391.1C297.8,389.5 297.5,387.4 297.8,385.3C298.1,383.2 299.2,380.2 299.8,378.4C300.3,376.6 301.4,376.5 301.2,374.5C300.9,372.5 298.9,369.4 298.4,366.5C297.8,363.6 297.8,359.2 297.8,357.0C297.8,354.8 297.6,355.4 298.2,353.2C298.9,351.0 300.7,346.9 301.8,343.8C303.0,340.7 304.3,337.2 305.3,334.5C306.4,331.8 307.4,329.8 308.2,327.4C308.9,325.0 310.0,322.8 310.0,320.4C310.0,318.0 308.7,315.6 308.2,313.3C307.8,311.0 307.8,309.0 307.5,306.3C307.1,303.6 306.8,300.2 306.3,296.9C305.8,293.6 304.7,288.5 304.2,286.3C303.7,284.1 303.6,285.1 303.2,283.9C302.8,282.7 302.1,280.8 301.8,279.2C301.5,277.6 301.2,276.1 301.2,274.5C301.3,272.9 301.7,271.2 302.2,269.8C302.7,268.4 303.6,267.5 304.4,266.3C305.2,265.1 306.2,264.0 307.1,262.8C308.0,261.6 308.9,260.6 309.8,259.3C310.7,258.0 311.7,256.5 312.4,255.2C313.0,253.9 313.7,252.7 313.8,251.7C313.9,250.7 313.4,250.1 313.1,249.0C312.9,247.9 312.7,246.8 312.4,245.2C312.1,243.6 312.0,241.2 311.6,239.3C311.3,237.4 310.9,235.4 310.3,233.5C309.8,231.6 309.0,229.4 308.3,227.6C307.5,225.8 306.6,224.3 305.7,222.9C304.9,221.5 303.7,220.3 303.1,219.4C302.5,218.5 302.2,218.4 302.1,217.7C302.0,217.0 302.0,216.6 302.4,215.3C302.7,214.0 303.5,211.7 304.1,210.0C304.8,208.3 305.5,207.0 306.2,205.4C306.9,203.8 307.6,202.3 308.3,200.7C308.9,199.1 309.7,198.0 310.1,196.0C310.4,194.0 310.3,190.3 310.4,188.8C310.5,187.3 310.6,187.5 310.7,186.9C310.9,186.2 311.0,185.6 311.1,184.9C311.2,184.3 311.3,183.6 311.5,183.0C311.6,182.4 311.8,181.7 312.1,181.1C312.3,180.4 312.6,179.8 312.8,179.2C313.1,178.5 313.3,177.9 313.6,177.3C313.8,176.6 314.1,176.0 314.3,175.4C314.6,174.7 314.8,174.1 315.1,173.5C315.3,172.8 315.6,172.2 315.9,171.6C316.2,171.0 316.5,170.4 316.8,169.7C317.1,169.1 317.4,168.5 317.8,167.9C318.1,167.3 318.4,166.7 318.8,166.1C319.2,165.5 319.5,164.9 319.9,164.4C320.3,163.8 320.6,163.2 321.0,162.7C321.4,162.2 321.8,161.7 322.2,161.2C322.6,160.7 322.9,160.2 323.4,159.8C323.9,159.3 324.5,159.0 325.0,158.7C325.6,158.3 326.2,157.9 326.7,157.6C327.3,157.2 327.8,156.8 328.4,156.4C328.9,155.9 329.4,155.4 330.0,154.9C330.5,154.4 331.1,153.9 331.7,153.4C332.3,152.9 332.9,152.3 333.5,151.7C334.1,151.1 334.6,150.5 335.2,150.0C335.8,149.4 336.4,148.8 337.0,148.2C337.6,147.7 338.2,147.1 338.8,146.6C339.4,146.1 340.1,145.7 340.7,145.3C341.4,144.8 342.0,144.5 342.6,144.1C343.2,143.8 343.8,143.4 344.4,143.1C345.0,142.8 345.6,142.4 346.2,142.1C346.8,141.8 347.5,141.6 348.1,141.4C348.7,141.1 349.3,140.9 350.0,140.6C350.6,140.4 351.2,140.1 351.8,139.8C352.5,139.5 353.1,139.1 353.7,138.8C354.4,138.4 355.0,138.0 355.7,137.6C356.3,137.3 357.0,136.9 357.7,136.5C358.4,136.1 359.0,135.6 359.7,135.2C360.4,134.8 361.1,134.4 361.7,134.1C362.4,133.7 363.1,133.4 363.8,133.1C364.4,132.8 364.9,132.5 365.5,132.3C366.1,132.1 366.8,131.9 367.4,131.8C368.0,131.7 368.6,131.5 369.2,131.4C369.8,131.3 370.4,131.2 371.1,131.1C371.7,131.0 372.3,130.9 372.9,130.7C373.5,130.6 374.1,130.4 374.8,130.2C375.4,130.0 376.0,129.7 376.6,129.4C377.2,129.2 377.8,128.8 378.5,128.5C379.1,128.1 379.7,127.8 380.3,127.4C380.9,127.0 381.5,126.5 382.1,126.1C382.8,125.7 383.4,125.3 384.0,124.9C384.6,124.5 385.2,124.2 385.8,123.8C386.4,123.5 387.0,123.2 387.6,122.9C388.2,122.7 388.9,122.4 389.5,122.2C390.1,122.0 390.7,121.9 391.3,121.7C391.9,121.6 392.5,121.5 393.1,121.3C393.7,121.2 394.3,121.0 394.9,120.9C395.5,120.7 396.1,120.6 396.7,120.4C397.2,120.3 397.8,120.1 398.4,119.8C399.0,119.6 399.6,119.4 400.2,119.1C400.8,118.8 401.4,118.5 402.0,118.2C402.6,117.8 403.1,117.4 403.7,117.0C404.3,116.6 404.9,116.2 405.4,115.8C406.0,115.4 406.6,115.0 407.2,114.7C407.7,114.3 408.3,113.9 408.9,113.6C409.5,113.2 410.1,112.9 410.6,112.6C411.2,112.3 411.8,112.0 412.3,111.7C412.9,111.5 413.5,111.3 414.1,111.1C414.7,110.9 415.2,110.7 415.8,110.5C416.4,110.4 417.0,110.2 417.6,110.0C418.2,109.8 418.7,109.6 419.3,109.4C419.9,109.2 420.5,108.9 421.0,108.6C421.6,108.3 422.2,108.0 422.7,107.6C423.3,107.3 423.9,106.9 424.4,106.4C425.0,106.0 425.5,105.6 426.1,105.1C426.7,104.7 427.2,104.2 427.8,103.7C428.4,103.3 428.9,102.8 429.5,102.3C430.0,101.8 430.6,101.4 431.2,100.9C431.7,100.5 432.2,100.1 432.8,99.7C433.3,99.3 433.8,98.9 434.4,98.5C434.9,98.2 435.5,97.9 436.0,97.6C436.5,97.3 437.1,97.0 437.6,96.8C438.1,96.6 438.7,96.3 439.2,96.1C439.8,95.9 440.3,95.7 440.8,95.5C441.3,95.2 441.8,95.0 442.4,94.8C442.9,94.5 443.4,94.3 443.9,94.0C444.4,93.7 444.9,93.4 445.4,93.1C445.9,92.7 446.5,92.4 446.9,92.0C447.4,91.6 447.9,91.1 448.3,90.7C448.8,90.3 449.2,89.8 449.7,89.3C450.1,88.9 450.6,88.4 451.0,87.9C451.5,87.5 451.9,87.0 452.4,86.5C452.8,86.0 453.3,85.5 453.7,85.1C454.2,84.6 454.6,84.1 455.0,83.7C455.5,83.3 455.9,82.8 456.3,82.4C456.7,82.0 457.2,81.6 457.6,81.2C457.9,80.7 458.3,80.3 458.7,79.8C459.1,79.4 459.4,78.9 459.8,78.5C460.2,78.0 460.6,77.6 460.9,77.1C461.3,76.6 461.6,76.1 462.0,75.6C462.3,75.1 462.6,74.5 462.9,74.0C463.2,73.4 463.5,72.8 463.8,72.3C464.1,71.7 464.4,71.1 464.6,70.6C464.9,70.0 465.1,69.4 465.4,68.8C465.6,68.2 465.8,67.6 466.1,67.0C466.3,66.4 466.5,65.8 466.7,65.2C467.0,64.6 467.2,64.0 467.4,63.4C467.6,62.8 467.8,62.2 468.1,61.6C468.3,61.0 468.5,60.3 468.7,59.7C468.9,59.1 469.1,58.5 469.2,57.9C469.4,57.3 469.5,56.3 469.5,56.0" stroke="#f51088"/>
<path d="M298.5,452.0C298.4,451.8 298.0,452.0 297.9,451.0C297.7,450.0 297.8,447.7 297.8,445.8C297.8,443.9 297.8,441.9 297.8,439.9C297.8,437.9 297.8,435.8 297.8,434.0C297.8,432.2 297.8,430.8 297.8,429.2C297.8,427.6 297.8,426.1 297.8,424.3C297.8,422.5 297.5,420.3 297.8,418.4C298.1,416.4 299.5,414.6 299.7,412.6C299.9,410.7 299.5,408.6 299.2,406.7C298.9,404.8 298.1,402.8 297.8,400.9C297.6,398.9 297.8,396.6 297.8,395.0C297.8,393.4 297.8,392.7 297.8,391.1C297.8,389.5 297.1,387.4 297.9,385.3C298.6,383.2 301.2,380.2 302.2,378.4C303.3,376.6 304.4,376.5 304.0,374.5C303.7,372.5 301.2,369.4 300.2,366.5C299.1,363.6 298.0,359.2 297.9,357.0C297.9,354.8 298.7,355.4 299.8,353.2C300.9,351.0 303.2,346.9 304.7,343.8C306.2,340.7 307.7,337.2 309.0,334.5C310.3,331.8 311.6,329.8 312.5,327.4C313.5,325.0 314.8,322.8 314.8,320.4C314.9,318.0 313.1,315.6 312.6,313.3C312.0,311.0 312.0,309.0 311.6,306.3C311.2,303.6 310.8,300.2 310.1,296.9C309.4,293.6 308.1,288.5 307.4,286.3C306.8,284.1 306.6,285.1 306.1,283.9C305.6,282.7 304.8,280.8 304.4,279.2C304.0,277.6 303.6,276.1 303.6,274.5C303.7,272.9 304.2,271.2 304.8,269.8C305.5,268.4 306.6,267.5 307.6,266.3C308.6,265.1 309.8,264.0 310.9,262.8C312.1,261.6 313.2,260.6 314.3,259.3C315.4,258.0 316.7,256.5 317.5,255.2C318.3,253.9 319.1,252.7 319.3,251.7C319.5,250.7 318.8,250.1 318.5,249.0C318.2,247.9 317.9,246.8 317.6,245.2C317.2,243.6 317.0,241.2 316.6,239.3C316.1,237.4 315.7,235.4 315.0,233.5C314.3,231.6 313.3,229.4 312.4,227.6C311.4,225.8 310.3,224.3 309.2,222.9C308.1,221.5 306.7,220.3 305.9,219.4C305.2,218.5 304.8,218.4 304.7,217.7C304.5,217.0 304.6,216.6 305.0,215.3C305.4,214.0 306.4,211.7 307.2,210.0C308.0,208.3 308.9,207.0 309.8,205.4C310.7,203.8 311.6,202.3 312.4,200.7C313.2,199.1 314.2,198.0 314.6,196.0C315.1,194.0 314.9,190.1 315.0,188.6C315.1,187.0 315.2,187.3 315.3,186.7C315.4,186.0 315.5,185.4 315.6,184.8C315.8,184.1 315.8,183.5 316.0,182.8C316.1,182.2 316.3,181.6 316.5,181.0C316.8,180.3 317.1,179.7 317.3,179.1C317.6,178.5 317.8,177.9 318.1,177.2C318.4,176.6 318.6,176.0 318.9,175.4C319.2,174.7 319.4,174.1 319.7,173.5C320.0,172.9 320.2,172.3 320.5,171.7C320.9,171.1 321.2,170.5 321.5,170.0C321.9,169.4 322.2,168.8 322.5,168.3C322.9,167.7 323.2,167.2 323.6,166.6C324.0,166.1 324.4,165.6 324.8,165.1C325.1,164.6 325.5,164.0 325.9,163.5C326.3,163.1 326.7,162.6 327.2,162.2C327.6,161.7 328.0,161.2 328.5,160.8C328.9,160.3 329.5,159.9 330.1,159.5C330.7,159.0 331.2,158.6 331.8,158.1C332.4,157.5 332.9,157.0 333.5,156.4C334.0,155.8 334.5,155.2 335.0,154.6C335.5,154.0 336.1,153.4 336.7,152.8C337.3,152.2 337.8,151.6 338.4,151.1C338.9,150.6 339.5,150.0 340.1,149.5C340.6,149.1 341.2,148.6 341.8,148.2C342.4,147.8 342.9,147.4 343.5,147.1C344.1,146.7 344.8,146.5 345.4,146.2C346.0,146.0 346.7,145.8 347.3,145.5C347.9,145.3 348.5,145.0 349.1,144.7C349.7,144.4 350.2,144.0 350.8,143.7C351.4,143.4 352.1,143.1 352.7,142.8C353.3,142.5 353.9,142.1 354.6,141.8C355.2,141.4 355.8,141.0 356.5,140.5C357.1,140.1 357.7,139.7 358.3,139.2C359.0,138.8 359.6,138.4 360.3,138.0C360.9,137.6 361.6,137.2 362.3,136.9C363.0,136.6 363.6,136.2 364.3,136.0C365.0,135.7 365.6,135.5 366.3,135.3C367.0,135.0 367.7,134.9 368.3,134.7C368.9,134.5 369.5,134.3 370.1,134.2C370.7,134.0 371.3,134.0 371.9,133.8C372.5,133.7 373.1,133.5 373.7,133.3C374.3,133.1 374.9,132.9 375.5,132.7C376.1,132.5 376.7,132.2 377.3,131.9C377.9,131.6 378.6,131.2 379.2,130.9C379.8,130.5 380.4,130.1 381.0,129.8C381.6,129.4 382.2,129.0 382.8,128.6C383.4,128.2 384.0,127.9 384.6,127.5C385.2,127.2 385.9,126.8 386.5,126.5C387.1,126.2 387.7,125.9 388.3,125.7C388.9,125.5 389.5,125.3 390.1,125.1C390.7,124.9 391.3,124.8 391.9,124.7C392.5,124.5 393.1,124.4 393.7,124.3C394.3,124.2 394.9,124.2 395.5,124.0C396.0,123.9 396.6,123.7 397.2,123.5C397.8,123.4 398.4,123.1 399.0,122.9C399.5,122.7 400.1,122.4 400.7,122.1C401.3,121.8 401.9,121.5 402.4,121.1C403.0,120.8 403.6,120.4 404.2,120.1C404.8,119.7 405.3,119.3 405.9,119.0C406.5,118.6 407.0,118.2 407.6,117.8C408.2,117.4 408.7,117.1 409.3,116.7C409.9,116.4 410.4,116.1 411.0,115.8C411.6,115.5 412.1,115.3 412.7,115.0C413.3,114.8 413.8,114.6 414.4,114.3C414.9,114.1 415.5,113.9 416.0,113.7C416.6,113.5 417.2,113.3 417.7,113.1C418.3,112.9 418.9,112.7 419.4,112.4C420.0,112.2 420.6,112.0 421.1,111.7C421.7,111.4 422.3,111.1 422.8,110.7C423.4,110.4 424.0,110.0 424.5,109.5C425.1,109.1 425.6,108.7 426.1,108.2C426.7,107.7 427.2,107.3 427.8,106.8C428.3,106.3 428.9,105.8 429.4,105.3C429.9,104.9 430.5,104.4 431.0,104.0C431.6,103.5 432.1,103.1 432.7,102.7C433.2,102.3 433.7,101.9 434.3,101.6C434.8,101.2 435.3,100.9 435.8,100.6C436.3,100.3 436.8,100.0 437.4,99.7C437.9,99.4 438.4,99.2 438.9,98.9C439.4,98.7 439.9,98.5 440.4,98.2C440.9,98.0 441.5,97.8 442.0,97.5C442.5,97.3 443.0,97.0 443.5,96.7C444.0,96.5 444.4,96.1 444.9,95.8C445.4,95.5 445.9,95.2 446.4,94.8C446.9,94.4 447.4,94.1 447.8,93.6C448.3,93.2 448.8,92.8 449.2,92.3C449.7,91.9 450.1,91.4 450.5,90.9C450.9,90.4 451.3,89.9 451.8,89.4C452.2,88.9 452.6,88.5 453.0,88.0C453.4,87.5 453.8,87.0 454.2,86.5C454.6,86.1 455.1,85.6 455.5,85.1C455.9,84.7 456.3,84.2 456.7,83.8C457.1,83.4 457.5,83.0 457.8,82.5C458.2,82.1 458.6,81.7 458.9,81.3C459.3,80.9 459.6,80.4 459.9,79.9C460.3,79.5 460.6,79.0 460.9,78.5C461.3,78.1 461.6,77.6 461.9,77.1C462.3,76.6 462.6,76.1 462.9,75.6C463.2,75.1 463.4,74.5 463.7,73.9C464.0,73.4 464.2,72.8 464.5,72.2C464.7,71.6 465.0,71.1 465.2,70.5C465.5,69.9 465.7,69.3 465.9,68.7C466.1,68.1 466.3,67.5 466.5,66.9C466.7,66.3 466.9,65.7 467.1,65.1C467.3,64.5 467.5,63.9 467.7,63.3C467.9,62.7 468.1,62.1 468.3,61.5C468.5,60.9 468.7,60.3 468.8,59.7C469.0,59.1 469.2,58.5 469.3,57.9C469.4,57.3 469.5,56.3 469.5,56.0" stroke="#ee10dd"/>
<path d="M298.5,452.0C298.7,451.8 299.6,452.0 299.5,451.0C299.4,450.0 298.1,447.7 297.8,445.8C297.5,443.9 297.8,441.9 297.8,439.9C297.8,437.9 297.8,435.8 297.8,434.0C297.8,432.2 297.8,430.8 297.8,429.2C297.8,427.6 297.6,426.1 297.8,424.3C298.0,422.5 298.0,420.3 298.9,418.4C299.8,416.4 302.6,414.6 303.2,412.6C303.8,410.7 303.3,408.6 302.6,406.7C301.8,404.8 299.7,402.8 298.9,400.9C298.1,398.9 298.0,396.6 297.8,395.0C297.6,393.4 297.5,392.7 297.8,391.1C298.1,389.5 298.2,387.4 299.5,385.3C300.9,383.2 304.6,380.2 306.0,378.4C307.4,376.6 308.4,376.5 308.0,374.5C307.6,372.5 304.9,369.4 303.5,366.5C302.2,363.6 300.0,359.2 299.9,357.0C299.8,354.8 301.5,355.4 303.0,353.2C304.4,351.0 306.8,346.9 308.6,343.8C310.3,340.7 312.0,337.2 313.5,334.5C315.0,331.8 316.4,329.8 317.5,327.4C318.6,325.0 320.1,322.8 320.1,320.4C320.0,318.0 318.1,315.6 317.4,313.3C316.8,311.0 316.7,309.0 316.2,306.3C315.7,303.6 315.3,300.2 314.4,296.9C313.6,293.6 312.1,288.5 311.3,286.3C310.6,284.1 310.4,285.1 309.8,283.9C309.2,282.7 308.3,280.8 307.8,279.2C307.3,277.6 306.8,276.1 306.9,274.5C307.0,272.9 307.5,271.2 308.3,269.8C309.0,268.4 310.2,267.5 311.4,266.3C312.5,265.1 313.9,264.0 315.2,262.8C316.5,261.6 317.8,260.6 319.0,259.3C320.3,258.0 321.7,256.5 322.7,255.2C323.6,253.9 324.6,252.7 324.8,251.7C325.0,250.7 324.2,250.1 323.8,249.0C323.5,247.9 323.1,246.8 322.8,245.2C322.4,243.6 322.1,241.2 321.6,239.3C321.1,237.4 320.6,235.4 319.8,233.5C319.0,231.6 317.9,229.4 316.8,227.6C315.7,225.8 314.4,224.3 313.2,222.9C311.9,221.5 310.3,220.3 309.5,219.4C308.6,218.5 308.2,218.4 308.0,217.7C307.8,217.0 307.9,216.6 308.4,215.3C308.9,214.0 310.0,211.7 310.9,210.0C311.8,208.3 312.9,207.0 313.9,205.4C314.9,203.8 315.9,202.3 316.8,200.7C317.8,199.1 318.9,198.1 319.4,196.0C319.9,193.9 319.7,189.9 319.9,188.3C320.0,186.7 320.0,187.0 320.1,186.4C320.2,185.8 320.3,185.2 320.4,184.5C320.5,183.9 320.5,183.3 320.6,182.7C320.8,182.1 321.0,181.4 321.2,180.8C321.5,180.2 321.8,179.6 322.1,179.0C322.3,178.4 322.6,177.8 322.9,177.2C323.2,176.6 323.4,176.0 323.7,175.4C324.0,174.8 324.3,174.2 324.5,173.6C324.8,173.0 325.1,172.4 325.5,171.8C325.8,171.3 326.2,170.8 326.5,170.2C326.9,169.7 327.2,169.2 327.6,168.7C328.0,168.2 328.4,167.7 328.8,167.1C329.2,166.6 329.6,166.1 330.0,165.6C330.4,165.1 330.7,164.5 331.2,164.0C331.6,163.5 332.1,163.0 332.5,162.5C333.0,162.0 333.4,161.4 333.9,160.9C334.4,160.3 335.0,159.8 335.6,159.3C336.1,158.7 336.7,158.2 337.3,157.6C337.9,157.0 338.4,156.5 339.0,155.9C339.5,155.3 339.9,154.7 340.5,154.2C341.0,153.7 341.6,153.3 342.1,152.8C342.6,152.4 343.2,152.0 343.7,151.6C344.3,151.3 344.8,150.9 345.4,150.6C345.9,150.2 346.4,149.9 347.0,149.6C347.6,149.3 348.1,149.0 348.7,148.8C349.3,148.5 349.9,148.3 350.6,148.0C351.2,147.7 351.8,147.4 352.4,147.1C353.0,146.7 353.6,146.3 354.2,145.9C354.8,145.5 355.3,145.0 355.9,144.6C356.5,144.1 357.1,143.7 357.8,143.3C358.4,142.9 359.0,142.4 359.7,142.0C360.3,141.6 360.9,141.2 361.6,140.8C362.2,140.4 362.8,140.0 363.5,139.7C364.1,139.4 364.8,139.1 365.4,138.9C366.1,138.7 366.8,138.5 367.4,138.3C368.1,138.2 368.8,138.0 369.4,137.9C370.1,137.7 370.8,137.6 371.4,137.4C372.1,137.2 372.8,137.1 373.4,136.8C374.1,136.6 374.6,136.3 375.2,136.1C375.8,135.8 376.4,135.6 377.0,135.3C377.6,135.0 378.1,134.6 378.7,134.3C379.3,133.9 379.9,133.5 380.5,133.2C381.1,132.8 381.7,132.4 382.3,132.0C382.9,131.7 383.5,131.3 384.1,130.9C384.7,130.6 385.3,130.3 385.9,130.0C386.5,129.7 387.1,129.4 387.7,129.2C388.3,129.0 388.9,128.8 389.5,128.6C390.1,128.5 390.7,128.3 391.3,128.2C391.9,128.1 392.5,127.9 393.1,127.8C393.7,127.7 394.2,127.6 394.8,127.5C395.4,127.4 396.0,127.3 396.6,127.2C397.2,127.1 397.8,126.9 398.4,126.7C399.0,126.6 399.6,126.4 400.1,126.1C400.7,125.9 401.3,125.6 401.9,125.2C402.4,124.9 403.0,124.6 403.5,124.2C404.1,123.9 404.7,123.5 405.2,123.1C405.8,122.7 406.4,122.4 406.9,122.0C407.5,121.7 408.1,121.3 408.6,121.0C409.2,120.7 409.8,120.4 410.3,120.1C410.9,119.8 411.4,119.5 412.0,119.2C412.5,119.0 413.1,118.7 413.6,118.5C414.2,118.3 414.7,118.1 415.3,117.9C415.8,117.7 416.4,117.5 416.9,117.3C417.5,117.1 418.1,116.9 418.6,116.6C419.1,116.4 419.7,116.1 420.2,115.8C420.8,115.5 421.3,115.2 421.9,114.9C422.4,114.6 423.0,114.3 423.5,113.9C424.1,113.5 424.6,113.1 425.2,112.7C425.7,112.2 426.3,111.8 426.8,111.3C427.4,110.9 427.9,110.4 428.4,109.9C429.0,109.5 429.5,108.9 430.0,108.5C430.5,108.0 431.0,107.5 431.5,107.1C432.1,106.7 432.6,106.3 433.1,105.9C433.6,105.5 434.1,105.1 434.7,104.8C435.2,104.4 435.7,104.1 436.2,103.8C436.7,103.5 437.3,103.3 437.8,103.0C438.3,102.8 438.7,102.5 439.2,102.2C439.7,102.0 440.2,101.7 440.7,101.4C441.2,101.2 441.7,100.9 442.1,100.7C442.6,100.4 443.1,100.1 443.6,99.8C444.1,99.5 444.6,99.2 445.0,98.9C445.5,98.6 446.0,98.2 446.5,97.8C446.9,97.4 447.4,97.0 447.8,96.6C448.3,96.2 448.7,95.8 449.2,95.3C449.6,94.9 450.1,94.4 450.5,94.0C451.0,93.5 451.4,93.0 451.8,92.5C452.3,92.0 452.6,91.5 453.0,91.0C453.4,90.5 453.7,90.0 454.1,89.5C454.5,89.1 454.8,88.6 455.2,88.1C455.6,87.6 456.0,87.2 456.3,86.7C456.7,86.3 457.1,85.8 457.4,85.4C457.8,84.9 458.2,84.5 458.5,84.1C458.9,83.6 459.2,83.2 459.5,82.8C459.9,82.4 460.2,82.0 460.5,81.5C460.8,81.1 461.1,80.6 461.4,80.1C461.7,79.6 461.9,79.1 462.2,78.6C462.5,78.1 462.8,77.7 463.1,77.1C463.4,76.6 463.6,76.1 463.9,75.6C464.2,75.0 464.4,74.4 464.6,73.9C464.8,73.3 465.1,72.7 465.3,72.1C465.5,71.5 465.7,71.0 465.9,70.4C466.1,69.8 466.3,69.2 466.5,68.6C466.7,68.0 466.8,67.4 467.0,66.8C467.2,66.2 467.4,65.6 467.5,65.0C467.7,64.4 467.9,63.8 468.0,63.2C468.2,62.7 468.4,62.0 468.5,61.4C468.7,60.8 468.9,60.2 469.0,59.7C469.2,59.1 469.3,58.5 469.4,57.9C469.5,57.3 469.5,56.3 469.5,56.0" stroke="#cc10ee"/>
<path d="M298.5,452.0C299.4,451.8 303.7,452.0 303.6,451.0C303.5,450.0 299.0,447.7 298.0,445.8C297.0,443.9 297.8,441.9 297.8,439.9C297.8,437.9 297.8,435.8 297.8,434.0C297.8,432.2 297.8,430.8 297.8,429.2C297.8,427.6 297.0,426.1 297.8,424.3C298.7,422.5 301.2,420.3 302.9,418.4C304.6,416.4 307.1,414.6 307.9,412.6C308.6,410.7 308.0,408.6 307.1,406.7C306.3,404.8 304.3,402.8 302.9,400.9C301.4,398.9 299.2,396.6 298.5,395.0C297.7,393.4 297.7,392.7 298.6,391.1C299.4,389.5 301.5,387.4 303.5,385.3C305.6,383.2 309.3,380.2 310.9,378.4C312.5,376.6 313.6,376.5 313.2,374.5C312.7,372.5 309.5,369.4 308.0,366.5C306.4,363.6 303.8,359.2 303.7,357.0C303.6,354.8 305.6,355.4 307.3,353.2C308.9,351.0 311.6,346.9 313.6,343.8C315.6,340.7 317.4,337.2 319.1,334.5C320.8,331.8 322.4,329.8 323.6,327.4C324.8,325.0 326.5,322.8 326.5,320.4C326.5,318.0 324.2,315.6 323.4,313.3C322.7,311.0 322.6,309.0 322.0,306.3C321.4,303.6 320.9,300.2 319.9,296.9C318.9,293.6 317.2,288.5 316.3,286.3C315.4,284.1 315.2,285.1 314.5,283.9C313.8,282.7 312.8,280.8 312.2,279.2C311.6,277.6 311.0,276.1 311.1,274.5C311.2,272.9 311.8,271.2 312.6,269.8C313.5,268.4 314.8,267.5 316.1,266.3C317.5,265.1 319.0,264.0 320.5,262.8C321.9,261.6 323.4,260.6 324.9,259.3C326.3,258.0 327.9,256.5 329.0,255.2C330.1,253.9 331.2,252.7 331.4,251.7C331.6,250.7 330.7,250.1 330.3,249.0C329.9,247.9 329.5,246.8 329.1,245.2C328.7,243.6 328.4,241.2 327.8,239.3C327.2,237.4 326.6,235.4 325.7,233.5C324.8,231.6 323.6,229.4 322.3,227.6C321.1,225.8 319.6,224.3 318.2,222.9C316.8,221.5 314.9,220.3 313.9,219.4C312.9,218.5 312.5,218.4 312.3,217.7C312.0,217.0 312.1,216.6 312.7,215.3C313.2,214.0 314.5,211.7 315.6,210.0C316.6,208.3 317.8,207.0 318.9,205.4C320.1,203.8 321.3,202.3 322.3,200.7C323.4,199.1 324.7,198.1 325.3,196.0C325.9,193.9 325.7,189.6 325.8,188.0C325.9,186.3 325.9,186.8 326.0,186.2C326.0,185.5 326.1,184.9 326.2,184.3C326.2,183.7 326.2,183.1 326.4,182.5C326.5,181.9 326.7,181.3 327.0,180.7C327.2,180.1 327.5,179.5 327.8,178.9C328.1,178.3 328.4,177.7 328.7,177.2C329.0,176.6 329.2,176.0 329.5,175.4C329.8,174.8 330.1,174.2 330.4,173.6C330.7,173.0 331.0,172.5 331.4,171.9C331.7,171.4 332.1,170.9 332.5,170.4C332.9,169.9 333.3,169.3 333.7,168.8C334.1,168.3 334.5,167.7 334.9,167.2C335.3,166.6 335.7,166.0 336.1,165.5C336.5,164.9 336.9,164.3 337.4,163.7C337.8,163.2 338.3,162.7 338.8,162.1C339.3,161.6 339.8,161.1 340.3,160.6C340.8,160.1 341.4,159.7 342.0,159.2C342.5,158.8 343.1,158.4 343.7,158.0C344.3,157.6 344.8,157.3 345.4,156.9C345.9,156.5 346.3,156.1 346.8,155.7C347.3,155.4 347.8,155.1 348.4,154.7C348.9,154.4 349.4,154.1 349.9,153.7C350.4,153.4 350.9,153.0 351.5,152.6C352.0,152.2 352.5,151.8 353.0,151.4C353.5,151.0 354.1,150.5 354.7,150.1C355.2,149.7 355.8,149.3 356.4,148.8C357.0,148.4 357.6,148.0 358.2,147.5C358.8,147.0 359.4,146.5 360.0,146.0C360.6,145.6 361.1,145.0 361.7,144.6C362.3,144.2 362.9,143.9 363.6,143.6C364.2,143.3 364.8,143.0 365.5,142.8C366.1,142.5 366.7,142.3 367.4,142.1C368.0,141.9 368.6,141.7 369.3,141.6C369.9,141.4 370.6,141.3 371.2,141.1C371.9,140.9 372.5,140.8 373.2,140.6C373.9,140.4 374.5,140.2 375.2,139.9C375.8,139.6 376.5,139.3 377.2,139.0C377.8,138.6 378.5,138.2 379.1,137.8C379.8,137.4 380.3,136.9 380.9,136.5C381.5,136.1 382.0,135.7 382.6,135.4C383.2,135.0 383.8,134.6 384.3,134.2C384.9,133.9 385.5,133.6 386.1,133.3C386.7,133.0 387.3,132.8 387.9,132.5C388.5,132.3 389.0,132.2 389.6,132.0C390.2,131.9 390.8,131.8 391.4,131.7C392.0,131.6 392.6,131.5 393.2,131.5C393.8,131.4 394.3,131.4 394.9,131.3C395.5,131.2 396.1,131.1 396.7,131.0C397.3,130.8 397.8,130.7 398.4,130.5C399.0,130.3 399.6,130.1 400.1,129.9C400.7,129.7 401.3,129.4 401.9,129.1C402.4,128.9 403.0,128.6 403.6,128.3C404.2,128.0 404.8,127.6 405.3,127.3C405.9,127.0 406.5,126.6 407.0,126.3C407.6,125.9 408.1,125.6 408.6,125.2C409.2,124.9 409.7,124.6 410.3,124.3C410.8,124.0 411.4,123.8 411.9,123.5C412.5,123.3 413.0,123.1 413.6,122.9C414.1,122.7 414.7,122.5 415.2,122.3C415.8,122.1 416.3,121.9 416.8,121.7C417.4,121.5 417.9,121.3 418.4,121.0C419.0,120.8 419.5,120.6 420.1,120.3C420.6,120.0 421.1,119.8 421.7,119.4C422.2,119.1 422.8,118.8 423.3,118.4C423.8,118.0 424.3,117.6 424.9,117.1C425.4,116.7 425.9,116.3 426.4,115.8C427.0,115.4 427.5,114.9 428.0,114.4C428.6,114.0 429.1,113.5 429.6,113.1C430.2,112.6 430.7,112.2 431.2,111.7C431.7,111.3 432.3,110.9 432.8,110.5C433.3,110.1 433.8,109.7 434.3,109.3C434.7,109.0 435.2,108.6 435.7,108.3C436.2,108.0 436.7,107.7 437.2,107.4C437.7,107.1 438.2,106.9 438.7,106.6C439.2,106.4 439.7,106.1 440.2,105.9C440.7,105.6 441.2,105.4 441.7,105.2C442.1,104.9 442.6,104.6 443.0,104.3C443.5,104.0 443.9,103.6 444.4,103.3C444.8,103.0 445.3,102.6 445.8,102.2C446.2,101.9 446.7,101.5 447.1,101.1C447.6,100.7 448.0,100.3 448.5,99.9C448.9,99.4 449.4,99.0 449.8,98.5C450.2,98.0 450.6,97.6 451.0,97.1C451.4,96.6 451.9,96.1 452.3,95.6C452.7,95.2 453.1,94.7 453.5,94.2C453.9,93.7 454.4,93.2 454.7,92.8C455.1,92.3 455.4,91.8 455.7,91.3C456.1,90.8 456.4,90.3 456.7,89.9C457.0,89.4 457.4,88.9 457.7,88.5C458.0,88.0 458.3,87.6 458.6,87.1C459.0,86.7 459.3,86.3 459.6,85.8C459.9,85.4 460.2,85.0 460.6,84.5C460.9,84.1 461.2,83.6 461.4,83.2C461.7,82.7 462.0,82.3 462.2,81.8C462.5,81.3 462.7,80.8 462.9,80.3C463.2,79.8 463.4,79.3 463.7,78.8C463.9,78.2 464.1,77.7 464.4,77.2C464.6,76.6 464.8,76.1 465.0,75.5C465.3,75.0 465.4,74.4 465.6,73.8C465.8,73.2 466.0,72.6 466.2,72.0C466.4,71.4 466.6,70.8 466.7,70.2C466.9,69.7 467.0,69.1 467.2,68.5C467.3,67.9 467.4,67.3 467.6,66.7C467.7,66.1 467.9,65.5 468.0,64.9C468.1,64.3 468.3,63.8 468.4,63.2C468.6,62.6 468.7,62.0 468.8,61.4C468.9,60.8 469.1,60.2 469.2,59.6C469.3,59.0 469.4,58.4 469.5,57.8C469.5,57.2 469.5,56.3 469.5,56.0" stroke="#9a10ee"/>
<path d="M298.5,452.0C300.2,451.8 308.2,452.0 308.8,451.0C309.3,450.0 303.5,447.7 301.7,445.8C299.9,443.9 298.5,441.9 297.8,439.9C297.2,437.9 297.8,435.8 297.8,434.0C297.8,432.2 297.4,430.8 297.8,429.2C298.2,427.6 298.5,426.1 300.2,424.3C301.9,422.5 305.7,420.3 308.0,418.4C310.2,416.4 312.7,414.6 313.5,412.6C314.3,410.7 313.6,408.6 312.7,406.7C311.8,404.8 309.6,402.8 308.0,400.9C306.3,398.9 303.6,396.6 302.7,395.0C301.9,393.4 301.9,392.7 302.9,391.1C303.8,389.5 306.3,387.4 308.5,385.3C310.8,383.2 314.9,380.2 316.7,378.4C318.4,376.6 319.7,376.5 319.1,374.5C318.6,372.5 315.1,369.4 313.3,366.5C311.5,363.6 308.6,359.2 308.5,357.0C308.3,354.8 310.6,355.4 312.4,353.2C314.2,351.0 317.2,346.9 319.3,343.8C321.5,340.7 323.6,337.2 325.4,334.5C327.2,331.8 329.0,329.8 330.3,327.4C331.7,325.0 333.5,322.8 333.5,320.4C333.4,318.0 330.8,315.6 330.0,313.3C329.1,311.0 329.0,309.0 328.3,306.3C327.7,303.6 327.0,300.2 325.9,296.9C324.8,293.6 322.8,288.5 321.8,286.3C320.8,284.1 320.6,285.1 319.8,283.9C319.0,282.7 317.8,280.8 317.2,279.2C316.5,277.6 315.9,276.1 315.9,274.5C316.0,272.9 316.6,271.2 317.6,269.8C318.5,268.4 320.0,267.5 321.5,266.3C322.9,265.1 324.6,264.0 326.2,262.8C327.9,261.6 329.5,260.6 331.1,259.3C332.7,258.0 334.5,256.5 335.7,255.2C336.9,253.9 338.1,252.7 338.4,251.7C338.6,250.7 337.6,250.1 337.2,249.0C336.7,247.9 336.3,246.8 335.8,245.2C335.3,243.6 335.0,241.2 334.4,239.3C333.7,237.4 333.1,235.4 332.0,233.5C331.0,231.6 329.7,229.4 328.3,227.6C326.9,225.8 325.2,224.3 323.6,222.9C322.1,221.5 320.0,220.3 318.9,219.4C317.8,218.5 317.3,218.4 317.1,217.7C316.9,217.0 316.9,216.6 317.6,215.3C318.2,214.0 319.6,211.7 320.8,210.0C321.9,208.3 323.3,207.0 324.5,205.4C325.8,203.8 327.1,202.3 328.3,200.7C329.5,199.1 330.9,198.2 331.6,196.0C332.2,193.8 332.0,189.4 332.1,187.7C332.2,186.0 332.2,186.5 332.2,185.9C332.3,185.3 332.3,184.7 332.3,184.1C332.4,183.5 332.3,182.9 332.4,182.3C332.6,181.7 332.8,181.1 333.0,180.6C333.2,180.0 333.6,179.4 333.9,178.8C334.1,178.3 334.4,177.7 334.7,177.1C335.0,176.5 335.3,176.0 335.6,175.4C335.9,174.8 336.1,174.2 336.4,173.7C336.8,173.1 337.1,172.5 337.4,172.0C337.8,171.5 338.2,170.9 338.6,170.4C339.0,169.8 339.4,169.3 339.8,168.7C340.2,168.2 340.6,167.6 341.1,167.1C341.5,166.6 341.9,166.0 342.3,165.5C342.7,165.0 343.1,164.4 343.6,163.9C344.1,163.5 344.6,163.1 345.1,162.7C345.6,162.3 346.1,161.9 346.6,161.6C347.1,161.3 347.7,161.0 348.3,160.7C348.8,160.4 349.4,160.1 350.0,159.8C350.5,159.5 351.1,159.3 351.6,158.9C352.1,158.5 352.5,158.0 353.0,157.6C353.5,157.1 354.0,156.7 354.4,156.2C354.9,155.7 355.4,155.2 355.9,154.7C356.4,154.2 356.9,153.7 357.3,153.2C357.8,152.7 358.3,152.1 358.8,151.6C359.3,151.1 359.8,150.6 360.3,150.1C360.9,149.7 361.5,149.2 362.1,148.8C362.6,148.4 363.2,148.0 363.8,147.7C364.4,147.3 364.9,146.9 365.5,146.6C366.0,146.2 366.6,145.9 367.1,145.6C367.7,145.4 368.4,145.2 369.0,145.0C369.6,144.9 370.2,144.8 370.9,144.6C371.5,144.4 372.1,144.3 372.7,144.1C373.4,143.9 374.0,143.6 374.6,143.4C375.2,143.1 375.9,142.8 376.5,142.5C377.2,142.2 377.8,141.8 378.5,141.4C379.1,141.1 379.8,140.6 380.4,140.2C381.0,139.8 381.7,139.3 382.3,138.9C383.0,138.5 383.7,138.0 384.3,137.6C384.9,137.3 385.4,136.9 386.0,136.6C386.6,136.3 387.1,136.0 387.7,135.7C388.3,135.5 388.8,135.3 389.4,135.1C390.0,134.9 390.5,134.8 391.1,134.7C391.7,134.6 392.3,134.6 392.8,134.5C393.4,134.4 394.0,134.4 394.6,134.3C395.2,134.3 395.7,134.2 396.3,134.1C396.9,134.1 397.5,134.0 398.1,133.8C398.6,133.7 399.2,133.6 399.8,133.4C400.4,133.2 400.9,133.0 401.5,132.7C402.1,132.5 402.6,132.2 403.2,131.9C403.8,131.6 404.3,131.3 404.9,131.0C405.5,130.6 406.0,130.3 406.6,130.0C407.2,129.7 407.7,129.4 408.3,129.2C408.9,128.9 409.5,128.6 410.0,128.4C410.6,128.1 411.1,127.9 411.6,127.6C412.2,127.4 412.7,127.2 413.2,126.9C413.8,126.7 414.3,126.5 414.8,126.3C415.4,126.1 415.9,126.0 416.4,125.8C417.0,125.6 417.5,125.4 418.0,125.2C418.6,125.0 419.1,124.8 419.6,124.5C420.2,124.3 420.7,124.0 421.2,123.7C421.7,123.4 422.3,123.1 422.8,122.7C423.3,122.4 423.8,122.0 424.4,121.6C424.9,121.2 425.4,120.8 425.9,120.3C426.5,119.9 427.0,119.4 427.5,119.0C428.0,118.5 428.5,118.0 429.0,117.5C429.5,117.1 430.1,116.6 430.6,116.2C431.1,115.7 431.6,115.3 432.1,114.9C432.6,114.5 433.1,114.1 433.6,113.8C434.2,113.4 434.7,113.1 435.2,112.8C435.7,112.5 436.2,112.2 436.7,111.9C437.2,111.6 437.6,111.3 438.1,111.0C438.6,110.7 439.0,110.5 439.5,110.2C440.0,110.0 440.5,109.7 440.9,109.4C441.4,109.2 441.9,108.9 442.3,108.7C442.8,108.4 443.3,108.1 443.8,107.8C444.2,107.5 444.7,107.2 445.2,106.9C445.6,106.5 446.0,106.1 446.5,105.7C446.9,105.3 447.3,104.9 447.7,104.5C448.2,104.0 448.6,103.6 449.0,103.1C449.4,102.7 449.9,102.2 450.3,101.7C450.7,101.3 451.1,100.8 451.6,100.3C452.0,99.8 452.4,99.4 452.8,98.9C453.2,98.4 453.5,97.9 453.9,97.4C454.3,96.9 454.7,96.4 455.1,96.0C455.4,95.5 455.8,95.1 456.2,94.6C456.6,94.1 457.0,93.7 457.3,93.2C457.7,92.8 457.9,92.3 458.2,91.8C458.5,91.4 458.8,90.9 459.1,90.4C459.3,90.0 459.6,89.5 459.9,89.1C460.2,88.6 460.5,88.2 460.7,87.7C461.0,87.3 461.3,86.8 461.6,86.4C461.8,85.9 462.1,85.5 462.4,85.0C462.7,84.5 462.9,84.1 463.1,83.6C463.4,83.1 463.6,82.6 463.8,82.1C464.0,81.5 464.2,81.0 464.4,80.5C464.6,79.9 464.7,79.4 464.9,78.8C465.1,78.3 465.3,77.8 465.5,77.2C465.7,76.6 465.9,76.1 466.1,75.5C466.2,74.9 466.4,74.3 466.6,73.7C466.7,73.1 466.9,72.5 467.0,71.9C467.1,71.3 467.3,70.7 467.4,70.1C467.5,69.5 467.7,69.0 467.8,68.4C467.9,67.8 468.0,67.2 468.1,66.6C468.2,66.0 468.3,65.4 468.4,64.9C468.5,64.3 468.6,63.7 468.8,63.1C468.9,62.5 469.0,61.9 469.1,61.3C469.2,60.7 469.3,60.1 469.4,59.6C469.5,59.0 469.5,58.4 469.5,57.8C469.6,57.2 469.5,56.3 469.5,56.0" stroke="#6010f0"/>
<path d="M298.5,452.0C301.2,451.8 313.2,452.0 314.6,451.0C316.0,450.0 309.2,447.7 306.9,445.8C304.6,443.9 302.0,441.9 300.9,439.9C299.7,437.9 300.0,435.8 300.0,434.0C300.0,432.2 300.0,430.8 300.9,429.2C301.8,427.6 303.1,426.1 305.2,424.3C307.3,422.5 311.3,420.3 313.7,418.4C316.2,416.4 318.9,414.6 319.8,412.6C320.7,410.7 319.9,408.6 318.9,406.7C317.9,404.8 315.6,402.8 313.7,400.9C311.9,398.9 308.9,396.6 307.9,395.0C307.0,393.4 307.0,392.7 308.1,391.1C309.1,389.5 311.7,387.4 314.2,385.3C316.7,383.2 321.2,380.2 323.1,378.4C325.0,376.6 326.4,376.5 325.8,374.5C325.2,372.5 321.3,369.4 319.3,366.5C317.3,363.6 314.1,359.2 313.9,357.0C313.7,354.8 316.2,355.4 318.2,353.2C320.1,351.0 323.3,346.9 325.7,343.8C328.0,340.7 330.3,337.2 332.3,334.5C334.2,331.8 336.1,329.8 337.6,327.4C339.1,325.0 341.1,322.8 341.0,320.4C340.9,318.0 338.1,315.6 337.1,313.3C336.2,311.0 336.0,309.0 335.3,306.3C334.5,303.6 333.7,300.2 332.5,296.9C331.3,293.6 329.0,288.5 327.8,286.3C326.7,284.1 326.5,285.1 325.6,283.9C324.8,282.7 323.4,280.8 322.7,279.2C322.0,277.6 321.2,276.1 321.3,274.5C321.3,272.9 322.0,271.2 323.0,269.8C324.0,268.4 325.7,267.5 327.3,266.3C328.9,265.1 330.8,264.0 332.5,262.8C334.3,261.6 336.1,260.6 337.8,259.3C339.5,258.0 341.6,256.5 342.9,255.2C344.2,253.9 345.6,252.7 345.8,251.7C346.1,250.7 345.0,250.1 344.5,249.0C344.0,247.9 343.5,246.8 343.0,245.2C342.5,243.6 342.1,241.2 341.4,239.3C340.7,237.4 340.0,235.4 338.9,233.5C337.7,231.6 336.3,229.4 334.7,227.6C333.2,225.8 331.3,224.3 329.6,222.9C327.9,221.5 325.6,220.3 324.4,219.4C323.2,218.5 322.7,218.4 322.4,217.7C322.2,217.0 322.3,216.6 322.9,215.3C323.6,214.0 325.2,211.7 326.5,210.0C327.7,208.3 329.2,207.0 330.6,205.4C332.0,203.8 333.4,202.3 334.7,200.7C336.0,199.1 337.6,198.2 338.3,196.0C339.0,193.8 338.8,189.1 339.0,187.4C339.1,185.7 339.0,186.3 339.0,185.7C339.0,185.1 339.0,184.5 339.0,183.9C339.0,183.3 338.9,182.7 339.0,182.1C339.1,181.6 339.2,181.0 339.5,180.4C339.7,179.9 340.0,179.3 340.3,178.7C340.6,178.2 340.9,177.6 341.2,177.1C341.5,176.5 341.7,176.0 342.0,175.4C342.3,174.8 342.6,174.3 342.9,173.7C343.2,173.2 343.5,172.6 343.9,172.1C344.3,171.6 344.7,171.1 345.1,170.6C345.5,170.1 345.9,169.6 346.3,169.1C346.7,168.6 347.2,168.1 347.6,167.7C348.0,167.2 348.4,166.7 348.9,166.3C349.3,165.9 349.7,165.4 350.1,165.0C350.6,164.6 351.2,164.3 351.7,164.0C352.2,163.7 352.7,163.3 353.2,163.0C353.7,162.6 354.3,162.3 354.9,161.9C355.4,161.5 356.0,161.2 356.5,160.7C357.1,160.3 357.6,159.9 358.1,159.4C358.6,158.9 359.0,158.3 359.4,157.8C359.8,157.3 360.3,156.7 360.7,156.2C361.2,155.7 361.6,155.2 362.1,154.7C362.5,154.2 363.0,153.7 363.4,153.3C363.9,152.8 364.3,152.3 364.8,151.9C365.2,151.5 365.7,151.1 366.2,150.8C366.7,150.4 367.3,150.2 367.9,149.9C368.4,149.6 368.9,149.4 369.5,149.1C370.0,148.8 370.6,148.6 371.1,148.3C371.6,148.0 372.1,147.6 372.7,147.4C373.3,147.1 373.9,146.9 374.5,146.7C375.1,146.4 375.7,146.2 376.3,145.9C377.0,145.6 377.6,145.2 378.2,144.8C378.8,144.5 379.4,144.1 380.0,143.6C380.6,143.2 381.3,142.8 381.9,142.4C382.5,142.0 383.1,141.5 383.8,141.2C384.4,140.8 385.0,140.4 385.7,140.1C386.3,139.7 386.9,139.4 387.5,139.1C388.2,138.9 388.8,138.7 389.4,138.5C390.0,138.3 390.5,138.1 391.1,138.0C391.7,137.8 392.2,137.7 392.8,137.6C393.3,137.5 393.9,137.4 394.4,137.3C395.0,137.3 395.6,137.2 396.1,137.1C396.7,137.0 397.3,137.0 397.8,136.9C398.4,136.8 399.0,136.6 399.5,136.5C400.1,136.3 400.7,136.1 401.3,135.9C401.8,135.7 402.4,135.5 403.0,135.2C403.5,135.0 404.1,134.7 404.7,134.5C405.2,134.2 405.8,133.9 406.4,133.6C406.9,133.3 407.5,133.0 408.0,132.7C408.6,132.4 409.1,132.2 409.7,131.9C410.2,131.7 410.8,131.5 411.4,131.3C411.9,131.1 412.5,131.0 413.0,130.8C413.6,130.7 414.1,130.6 414.7,130.4C415.2,130.3 415.8,130.1 416.3,129.9C416.8,129.7 417.3,129.5 417.8,129.3C418.3,129.1 418.9,128.9 419.4,128.7C419.9,128.4 420.4,128.2 420.9,127.9C421.5,127.6 422.0,127.3 422.5,127.0C423.0,126.6 423.5,126.3 424.0,125.9C424.6,125.5 425.1,125.1 425.6,124.7C426.1,124.2 426.6,123.8 427.1,123.3C427.6,122.9 428.1,122.4 428.7,122.0C429.2,121.5 429.7,121.1 430.2,120.7C430.7,120.2 431.2,119.8 431.7,119.4C432.2,119.0 432.7,118.6 433.2,118.2C433.7,117.8 434.2,117.5 434.7,117.1C435.2,116.8 435.7,116.5 436.2,116.2C436.7,116.0 437.2,115.7 437.7,115.5C438.2,115.2 438.7,115.0 439.2,114.8C439.6,114.5 440.1,114.3 440.6,114.1C441.0,113.8 441.5,113.5 441.9,113.2C442.4,112.9 442.8,112.6 443.3,112.3C443.7,112.0 444.2,111.7 444.6,111.4C445.1,111.1 445.5,110.7 446.0,110.3C446.4,110.0 446.9,109.6 447.3,109.2C447.8,108.8 448.3,108.4 448.7,108.0C449.1,107.5 449.5,107.0 449.9,106.6C450.3,106.1 450.7,105.6 451.1,105.1C451.5,104.6 451.9,104.1 452.3,103.6C452.7,103.2 453.1,102.7 453.4,102.2C453.8,101.7 454.3,101.2 454.6,100.8C455.0,100.3 455.4,99.8 455.8,99.4C456.1,98.9 456.5,98.4 456.8,98.0C457.2,97.5 457.5,97.1 457.9,96.6C458.2,96.2 458.6,95.8 458.9,95.3C459.2,94.9 459.6,94.5 459.9,94.0C460.2,93.6 460.5,93.1 460.7,92.6C460.9,92.2 461.2,91.7 461.4,91.2C461.6,90.8 461.9,90.3 462.1,89.8C462.4,89.4 462.6,88.9 462.8,88.4C463.1,87.9 463.3,87.5 463.5,87.0C463.8,86.5 464.0,86.0 464.2,85.5C464.5,85.0 464.7,84.5 464.9,83.9C465.0,83.4 465.2,82.8 465.3,82.3C465.5,81.7 465.6,81.2 465.8,80.6C465.9,80.0 466.1,79.5 466.2,78.9C466.4,78.3 466.5,77.8 466.7,77.2C466.8,76.6 467.0,76.0 467.1,75.4C467.2,74.8 467.4,74.2 467.5,73.6C467.6,73.0 467.7,72.4 467.8,71.8C467.9,71.2 468.0,70.6 468.1,70.0C468.2,69.4 468.3,68.8 468.4,68.3C468.4,67.7 468.5,67.1 468.6,66.5C468.7,65.9 468.8,65.4 468.8,64.8C468.9,64.2 469.0,63.6 469.1,63.0C469.2,62.4 469.2,61.9 469.3,61.3C469.4,60.7 469.5,60.1 469.5,59.5C469.6,58.9 469.6,58.4 469.6,57.8C469.6,57.2 469.5,56.3 469.5,56.0" stroke="#1010e8"/>
<path d="M298.5,452.0C302.4,451.8 319.6,452.0 322.1,451.0C324.7,450.0 316.4,447.7 313.9,445.8C311.5,443.9 308.8,441.9 307.6,439.9C306.4,437.9 306.7,435.8 306.7,434.0C306.7,432.2 306.7,430.8 307.6,429.2C308.5,427.6 309.9,426.1 312.2,424.3C314.4,422.5 318.6,420.3 321.2,418.4C323.8,416.4 326.7,414.6 327.6,412.6C328.5,410.7 327.8,408.6 326.7,406.7C325.6,404.8 323.1,402.8 321.2,400.9C319.2,398.9 316.0,396.6 315.0,395.0C314.0,393.4 314.0,392.7 315.1,391.1C316.2,389.5 318.9,387.4 321.5,385.3C324.2,383.2 328.8,380.2 330.8,378.4C332.8,376.6 334.3,376.5 333.6,374.5C332.9,372.5 328.7,369.4 326.6,366.5C324.5,363.6 321.0,359.2 320.8,357.0C320.6,354.8 323.2,355.4 325.2,353.2C327.3,351.0 330.6,346.9 333.1,343.8C335.5,340.7 337.8,337.2 339.9,334.5C342.0,331.8 343.9,329.8 345.5,327.4C347.0,325.0 349.1,322.8 349.0,320.4C348.8,318.0 345.8,315.6 344.8,313.3C343.7,311.0 343.5,309.0 342.7,306.3C341.8,303.6 341.0,300.2 339.6,296.9C338.3,293.6 335.8,288.5 334.6,286.3C333.3,284.1 333.1,285.1 332.2,283.9C331.3,282.7 329.9,280.8 329.1,279.2C328.3,277.6 327.5,276.1 327.5,274.5C327.5,272.9 328.2,271.2 329.3,269.8C330.3,268.4 332.1,267.5 333.7,266.3C335.4,265.1 337.4,264.0 339.2,262.8C341.0,261.6 342.9,260.6 344.8,259.3C346.6,258.0 348.7,256.5 350.2,255.2C351.6,253.9 352.9,252.7 353.2,251.7C353.5,250.7 352.3,250.1 351.8,249.0C351.3,247.9 350.8,246.8 350.2,245.2C349.7,243.6 349.3,241.2 348.6,239.3C347.8,237.4 347.1,235.4 345.9,233.5C344.7,231.6 343.1,229.4 341.5,227.6C339.9,225.8 337.9,224.3 336.1,222.9C334.3,221.5 331.9,220.3 330.6,219.4C329.4,218.5 328.8,218.4 328.5,217.7C328.2,217.0 328.3,216.6 329.0,215.3C329.8,214.0 331.4,211.7 332.8,210.0C334.1,208.3 335.7,207.0 337.1,205.4C338.6,203.8 340.1,202.3 341.5,200.7C342.9,199.1 344.6,198.3 345.3,196.0C346.1,193.7 345.9,188.9 346.0,187.2C346.1,185.4 345.9,186.0 345.9,185.4C345.8,184.9 345.8,184.3 345.8,183.7C345.7,183.1 345.6,182.6 345.6,182.0C345.7,181.4 345.9,180.9 346.1,180.3C346.3,179.8 346.6,179.2 346.9,178.7C347.2,178.1 347.4,177.6 347.7,177.0C348.0,176.5 348.3,175.9 348.5,175.4C348.8,174.9 349.1,174.3 349.4,173.8C349.7,173.2 350.0,172.7 350.3,172.2C350.7,171.7 351.2,171.3 351.6,170.9C352.0,170.4 352.4,170.0 352.8,169.5C353.2,169.1 353.6,168.6 354.0,168.2C354.4,167.7 354.9,167.3 355.3,166.8C355.7,166.4 356.1,165.9 356.6,165.5C357.0,165.0 357.6,164.7 358.1,164.3C358.6,163.9 359.1,163.5 359.6,163.1C360.2,162.7 360.7,162.3 361.2,161.9C361.8,161.5 362.3,161.2 362.8,160.8C363.4,160.4 363.9,160.1 364.4,159.6C364.8,159.2 365.2,158.7 365.6,158.3C366.0,157.8 366.4,157.4 366.8,157.0C367.2,156.6 367.6,156.2 368.0,155.8C368.4,155.4 368.8,155.0 369.2,154.6C369.6,154.2 370.0,153.8 370.4,153.5C370.8,153.1 371.3,152.7 371.7,152.4C372.2,152.1 372.8,151.8 373.3,151.5C373.8,151.2 374.3,150.8 374.8,150.5C375.3,150.1 375.9,149.7 376.4,149.3C376.9,148.9 377.3,148.4 377.9,147.9C378.4,147.5 379.0,147.2 379.6,146.8C380.2,146.4 380.8,146.0 381.4,145.6C382.0,145.2 382.6,144.8 383.2,144.4C383.8,144.0 384.4,143.6 385.0,143.3C385.6,142.9 386.2,142.6 386.8,142.3C387.4,142.0 388.0,141.8 388.6,141.6C389.2,141.4 389.8,141.2 390.4,141.0C391.0,140.9 391.6,140.8 392.2,140.7C392.8,140.6 393.4,140.5 394.0,140.4C394.6,140.3 395.1,140.2 395.6,140.1C396.2,140.0 396.7,139.9 397.3,139.7C397.8,139.6 398.4,139.4 398.9,139.2C399.5,139.1 400.0,138.9 400.6,138.7C401.1,138.5 401.7,138.3 402.3,138.1C402.8,137.9 403.4,137.6 404.0,137.4C404.5,137.1 405.1,136.9 405.6,136.6C406.2,136.4 406.8,136.1 407.3,135.9C407.9,135.6 408.5,135.4 409.0,135.2C409.6,135.0 410.1,134.8 410.7,134.6C411.2,134.4 411.8,134.2 412.3,134.0C412.8,133.9 413.4,133.7 413.9,133.6C414.5,133.5 415.0,133.4 415.6,133.3C416.1,133.1 416.7,133.0 417.2,132.9C417.8,132.8 418.3,132.7 418.8,132.5C419.4,132.4 419.9,132.1 420.4,131.9C420.9,131.6 421.4,131.3 421.9,131.0C422.4,130.7 422.9,130.4 423.4,130.0C423.9,129.6 424.4,129.2 424.9,128.8C425.4,128.4 426.0,128.0 426.5,127.6C427.0,127.2 427.5,126.7 428.0,126.3C428.5,125.8 429.0,125.4 429.5,124.9C430.0,124.5 430.5,124.1 431.0,123.6C431.5,123.2 432.0,122.8 432.5,122.5C433.0,122.1 433.5,121.7 434.0,121.4C434.5,121.1 435.0,120.8 435.5,120.5C436.0,120.2 436.4,119.9 436.9,119.6C437.4,119.3 437.9,119.1 438.4,118.9C438.8,118.6 439.3,118.4 439.8,118.2C440.3,117.9 440.8,117.7 441.2,117.5C441.7,117.3 442.2,117.1 442.7,116.8C443.1,116.6 443.6,116.3 444.1,116.0C444.5,115.7 444.9,115.3 445.3,114.9C445.8,114.6 446.2,114.2 446.6,113.8C447.1,113.4 447.5,113.0 447.9,112.6C448.4,112.2 448.8,111.7 449.2,111.3C449.6,110.9 450.1,110.4 450.5,110.0C450.9,109.5 451.4,109.1 451.8,108.6C452.2,108.1 452.5,107.6 452.9,107.1C453.3,106.6 453.7,106.1 454.0,105.6C454.4,105.1 454.8,104.6 455.1,104.2C455.5,103.7 455.9,103.2 456.3,102.8C456.6,102.3 457.0,101.9 457.4,101.5C457.7,101.0 458.1,100.6 458.4,100.1C458.8,99.7 459.1,99.2 459.4,98.8C459.7,98.4 460.0,97.9 460.3,97.5C460.7,97.1 461.0,96.6 461.3,96.2C461.6,95.8 462.0,95.4 462.2,94.9C462.5,94.5 462.7,94.0 462.9,93.5C463.1,93.0 463.3,92.5 463.5,92.0C463.7,91.5 463.9,91.0 464.1,90.5C464.3,90.0 464.5,89.5 464.7,89.0C464.9,88.5 465.1,88.0 465.3,87.5C465.5,86.9 465.7,86.4 465.9,85.8C466.1,85.3 466.2,84.7 466.4,84.2C466.5,83.6 466.6,83.0 466.7,82.5C466.8,81.9 466.9,81.3 467.0,80.7C467.1,80.1 467.3,79.5 467.4,78.9C467.5,78.3 467.6,77.7 467.7,77.2C467.8,76.6 467.9,76.0 468.0,75.4C468.1,74.8 468.2,74.2 468.3,73.6C468.4,73.0 468.5,72.4 468.5,71.8C468.6,71.1 468.7,70.5 468.7,69.9C468.8,69.3 468.8,68.8 468.9,68.2C469.0,67.6 469.0,67.0 469.1,66.4C469.1,65.9 469.2,65.3 469.2,64.7C469.3,64.1 469.3,63.5 469.4,63.0C469.4,62.4 469.5,61.8 469.5,61.2C469.6,60.6 469.7,60.1 469.7,59.5C469.7,58.9 469.7,58.3 469.7,57.7C469.6,57.2 469.5,56.3 469.5,56.0" stroke="#0a0aa0"/>
<path d="M298.5,452.0C304.8,451.8 331.2,452.0 336.0,451.0C340.8,450.0 329.8,447.7 327.2,445.8C324.6,443.9 321.7,441.9 320.4,439.9C319.1,437.9 319.4,435.8 319.4,434.0C319.4,432.2 319.4,430.8 320.4,429.2C321.4,427.6 322.9,426.1 325.3,424.3C327.7,422.5 332.2,420.3 335.0,418.4C337.8,416.4 340.9,414.6 341.9,412.6C342.9,410.7 342.0,408.6 340.9,406.7C339.8,404.8 337.1,402.8 335.0,400.9C332.9,398.9 329.3,396.6 328.2,395.0C327.1,393.4 327.1,392.7 328.2,391.1C329.3,389.5 332.2,387.4 335.0,385.3C337.8,383.2 342.7,380.2 344.8,378.4C346.9,376.6 348.5,376.5 347.7,374.5C346.9,372.5 342.4,369.4 340.0,366.5C337.6,363.6 333.8,359.2 333.5,357.0C333.2,354.8 336.1,355.4 338.2,353.2C340.3,351.0 343.8,346.9 346.4,343.8C348.9,340.7 351.4,337.2 353.5,334.5C355.6,331.8 357.7,329.8 359.3,327.4C360.9,325.0 363.1,322.8 362.9,320.4C362.7,318.0 359.4,315.6 358.2,313.3C357.0,311.0 356.8,309.0 355.8,306.3C354.8,303.6 353.8,300.2 352.3,296.9C350.8,293.6 348.0,288.5 346.6,286.3C345.2,284.1 345.0,285.1 344.0,283.9C343.0,282.7 341.4,280.8 340.5,279.2C339.6,277.6 338.7,276.1 338.7,274.5C338.7,272.9 339.4,271.2 340.5,269.8C341.6,268.4 343.4,267.5 345.2,266.3C346.9,265.1 349.1,264.0 351.0,262.8C352.9,261.6 354.9,260.6 356.9,259.3C358.8,258.0 361.2,256.5 362.7,255.2C364.2,253.9 365.7,252.7 366.0,251.7C366.3,250.7 365.0,250.1 364.5,249.0C364.0,247.9 363.4,246.8 362.8,245.2C362.2,243.6 361.8,241.2 361.0,239.3C360.2,237.4 359.4,235.4 358.1,233.5C356.8,231.6 355.1,229.4 353.4,227.6C351.6,225.8 349.6,224.3 347.6,222.9C345.7,221.5 343.1,220.3 341.7,219.4C340.3,218.5 339.7,218.4 339.4,217.7C339.1,217.0 339.2,216.6 340.0,215.3C340.8,214.0 342.6,211.7 344.0,210.0C345.4,208.3 347.1,207.0 348.7,205.4C350.3,203.8 351.9,202.3 353.4,200.7C354.9,199.1 356.7,198.3 357.5,196.0C358.3,193.7 358.1,188.7 358.2,186.9C358.3,185.1 358.0,185.8 357.8,185.2C357.7,184.6 357.6,184.1 357.5,183.5C357.4,182.9 357.2,182.4 357.1,181.8C357.1,181.3 357.2,180.7 357.4,180.2C357.5,179.6 357.8,179.1 358.1,178.6C358.3,178.1 358.5,177.5 358.7,177.0C359.0,176.5 359.2,175.9 359.4,175.4C359.6,174.9 359.8,174.3 360.1,173.8C360.3,173.3 360.6,172.8 360.9,172.3C361.2,171.8 361.7,171.4 362.0,171.0C362.4,170.5 362.8,170.0 363.1,169.6C363.5,169.1 363.9,168.7 364.3,168.2C364.6,167.8 365.0,167.3 365.4,166.9C365.7,166.5 366.1,166.0 366.5,165.6C366.9,165.3 367.5,165.1 367.9,164.8C368.4,164.5 368.9,164.3 369.4,164.0C369.9,163.8 370.3,163.6 370.8,163.3C371.3,163.1 371.8,162.9 372.2,162.6C372.7,162.4 373.2,162.2 373.6,161.8C374.0,161.4 374.2,160.9 374.5,160.5C374.9,160.0 375.2,159.5 375.5,159.0C375.8,158.6 376.1,158.1 376.5,157.5C376.8,157.0 377.1,156.5 377.4,156.0C377.7,155.5 378.0,154.9 378.4,154.4C378.7,153.9 379.1,153.3 379.5,152.8C379.9,152.3 380.4,151.8 380.8,151.4C381.2,150.9 381.7,150.4 382.1,149.9C382.5,149.4 383.0,148.9 383.4,148.4C383.9,147.9 384.3,147.4 384.7,147.0C385.2,146.6 385.8,146.3 386.3,146.0C386.8,145.7 387.4,145.4 387.9,145.2C388.4,145.0 389.0,144.8 389.5,144.6C390.0,144.5 390.6,144.3 391.1,144.2C391.6,144.1 392.2,144.0 392.7,143.9C393.3,143.8 393.8,143.7 394.3,143.6C394.9,143.5 395.4,143.4 395.9,143.3C396.5,143.2 397.0,143.1 397.5,143.0C398.1,142.8 398.6,142.7 399.1,142.5C399.7,142.3 400.2,142.1 400.7,141.9C401.3,141.6 401.8,141.4 402.4,141.1C402.9,140.9 403.4,140.6 404.0,140.3C404.5,140.0 405.0,139.7 405.6,139.5C406.1,139.2 406.7,139.0 407.3,138.8C407.8,138.6 408.4,138.3 408.9,138.1C409.5,138.0 410.0,137.8 410.6,137.6C411.1,137.5 411.7,137.3 412.2,137.2C412.8,137.1 413.3,137.1 413.9,137.0C414.4,136.9 415.0,136.8 415.5,136.7C416.0,136.6 416.6,136.5 417.1,136.4C417.6,136.2 418.2,136.1 418.7,136.0C419.2,135.8 419.8,135.7 420.3,135.5C420.9,135.3 421.4,135.1 421.9,134.9C422.5,134.7 423.0,134.4 423.5,134.1C424.0,133.8 424.5,133.4 425.0,133.0C425.5,132.7 426.0,132.2 426.5,131.8C427.0,131.4 427.5,130.9 428.0,130.5C428.5,130.0 429.0,129.6 429.4,129.2C429.9,128.7 430.4,128.3 430.9,127.9C431.4,127.5 431.9,127.1 432.4,126.7C432.9,126.3 433.4,126.0 433.8,125.6C434.3,125.3 434.8,125.0 435.3,124.7C435.8,124.4 436.3,124.2 436.8,123.9C437.3,123.7 437.8,123.5 438.2,123.3C438.7,123.1 439.2,122.9 439.7,122.7C440.2,122.5 440.6,122.2 441.1,122.0C441.6,121.7 442.0,121.5 442.5,121.3C442.9,121.0 443.4,120.8 443.9,120.5C444.3,120.2 444.8,119.9 445.3,119.6C445.7,119.3 446.2,119.0 446.6,118.6C447.1,118.3 447.5,117.9 448.0,117.5C448.4,117.1 448.8,116.6 449.2,116.2C449.6,115.7 450.0,115.3 450.4,114.8C450.8,114.3 451.2,113.9 451.6,113.4C452.0,112.9 452.5,112.5 452.9,112.0C453.3,111.5 453.7,111.1 454.1,110.6C454.5,110.2 454.9,109.7 455.3,109.3C455.7,108.8 456.0,108.3 456.3,107.9C456.7,107.4 457.0,106.9 457.4,106.5C457.7,106.0 458.1,105.6 458.4,105.1C458.7,104.7 459.1,104.3 459.4,103.9C459.8,103.4 460.1,103.0 460.5,102.6C460.8,102.2 461.1,101.8 461.4,101.4C461.7,100.9 462.0,100.5 462.3,100.0C462.6,99.6 462.8,99.1 463.1,98.7C463.4,98.2 463.7,97.8 464.0,97.3C464.3,96.9 464.6,96.5 464.8,96.0C465.1,95.5 465.2,95.0 465.4,94.4C465.5,93.9 465.7,93.4 465.8,92.8C466.0,92.3 466.2,91.7 466.3,91.2C466.5,90.7 466.6,90.1 466.8,89.6C466.9,89.0 467.1,88.5 467.2,87.9C467.4,87.3 467.6,86.7 467.7,86.1C467.8,85.6 468.0,85.0 468.1,84.4C468.2,83.8 468.2,83.1 468.3,82.5C468.3,81.9 468.4,81.3 468.5,80.7C468.5,80.1 468.6,79.5 468.6,78.9C468.7,78.3 468.8,77.7 468.8,77.1C468.9,76.5 469.0,75.9 469.0,75.3C469.1,74.7 469.2,74.1 469.2,73.5C469.3,72.9 469.3,72.3 469.3,71.6C469.4,71.0 469.4,70.4 469.4,69.8C469.4,69.2 469.5,68.6 469.5,68.1C469.5,67.5 469.5,66.9 469.6,66.3C469.6,65.8 469.6,65.2 469.6,64.6C469.7,64.0 469.7,63.5 469.7,62.9C469.7,62.3 469.8,61.7 469.8,61.2C469.8,60.6 469.9,60.0 469.9,59.4C469.9,58.9 469.8,58.3 469.7,57.7C469.7,57.1 469.5,56.3 469.5,56.0" stroke="#12126a"/>
</g>
<rect x="297.8" y="55.9" width="171.8" height="397.3" fill="none" stroke="#000" stroke-width="2"/>
<path d="M297.8,372.8h8M469.6,372.8h-8M297.8,292.5h8M469.6,292.5h-8M297.8,211.5h8M469.6,211.5h-8M297.8,130.5h8M469.6,130.5h-8" stroke="#000" stroke-width="1.6"/>
<defs><clipPath id="ca"><rect x="62" y="77.7" width="208" height="376"/></clipPath><filter id="bl" x="-50%" y="-50%" width="200%" height="200%"><feGaussianBlur stdDeviation="5"/></filter><filter id="bl2" x="-50%" y="-50%" width="200%" height="200%"><feGaussianBlur stdDeviation="9"/></filter><filter id="gb" x="-5%" y="-5%" width="110%" height="110%"><feGaussianBlur stdDeviation="0.7"/></filter></defs>
<g clip-path="url(#ca)">
<linearGradient id="tg" x1="0" y1="77.7" x2="0" y2="457" gradientUnits="userSpaceOnUse"><stop offset="0" stop-color="#2c2ce4"/><stop offset="0.14" stop-color="#2c2ce4"/><stop offset="0.22" stop-color="#1414f0"/><stop offset="1" stop-color="#1414e8"/></linearGradient><rect x="55" y="77.7" width="225" height="380" fill="url(#tg)"/>
<g filter="url(#bl)">
<ellipse cx="90" cy="81" rx="34" ry="4" fill="#8080f4" fill-opacity="1" transform="rotate(0 90 81)"/>
<ellipse cx="162" cy="82" rx="42" ry="4.5" fill="#3434c0" fill-opacity="0.9" transform="rotate(0 162 82)"/>
<ellipse cx="243" cy="80" rx="28" ry="4" fill="#6a6af4" fill-opacity="1" transform="rotate(0 243 80)"/>
<ellipse cx="96" cy="87" rx="18" ry="3" fill="#6060f0" fill-opacity="0.9" transform="rotate(0 96 87)"/>
<ellipse cx="99" cy="95" rx="32" ry="5" fill="#1e1e9c" fill-opacity="1" transform="rotate(10 99 95)"/>
<ellipse cx="153" cy="92" rx="32" ry="6" fill="#5454f2" fill-opacity="0.95" transform="rotate(8 153 92)"/>
<ellipse cx="210" cy="92" rx="26" ry="5" fill="#4848ee" fill-opacity="0.9" transform="rotate(5 210 92)"/>
<ellipse cx="261" cy="95" rx="12" ry="7" fill="#1a1a98" fill-opacity="1" transform="rotate(0 261 95)"/>
<ellipse cx="88" cy="114" rx="26" ry="7" fill="#101078" fill-opacity="1" transform="rotate(6 88 114)"/>
<ellipse cx="120" cy="119" rx="8" ry="13" fill="#5c5cf4" fill-opacity="1" transform="rotate(-35 120 119)"/>
<ellipse cx="152" cy="114" rx="22" ry="8" fill="#4646e6" fill-opacity="0.9" transform="rotate(0 152 114)"/>
<ellipse cx="206" cy="113" rx="32" ry="8" fill="#0c0c70" fill-opacity="1" transform="rotate(8 206 113)"/>
<ellipse cx="160" cy="131" rx="18" ry="5.5" fill="#161694" fill-opacity="1" transform="rotate(12 160 131)"/>
<ellipse cx="216" cy="141" rx="15" ry="5" fill="#10108e" fill-opacity="1" transform="rotate(10 216 141)"/>
<ellipse cx="252" cy="122" rx="18" ry="14" fill="#2020f0" fill-opacity="0.9" transform="rotate(0 252 122)"/>
<ellipse cx="100" cy="140" rx="40" ry="8" fill="#1c1cf4" fill-opacity="0.9" transform="rotate(0 100 140)"/>
<ellipse cx="68" cy="126" rx="8" ry="9" fill="#1c1ca8" fill-opacity="0.8" transform="rotate(0 68 126)"/>
<ellipse cx="190" cy="142" rx="14" ry="4" fill="#2a2af0" fill-opacity="0.6" transform="rotate(0 190 142)"/>
<ellipse cx="245" cy="165" rx="35" ry="18" fill="#0606b0" fill-opacity="0.5" transform="rotate(0 245 165)"/>
</g>
<g filter="url(#bl)">
<ellipse cx="156.1" cy="318.9" rx="19.1" ry="9.7" fill="#00008a" fill-opacity="0.38"/>
<ellipse cx="167.6" cy="326.5" rx="10.2" ry="10.1" fill="#00008a" fill-opacity="0.38"/>
<ellipse cx="193.0" cy="383.1" rx="9.1" ry="8.4" fill="#00008a" fill-opacity="0.38"/>
<ellipse cx="80.9" cy="387.7" rx="16.3" ry="6.3" fill="#00008a" fill-opacity="0.38"/>
<ellipse cx="266.3" cy="430.3" rx="15.8" ry="10.9" fill="#00008a" fill-opacity="0.38"/>
<ellipse cx="94.8" cy="169.1" rx="14.3" ry="6.5" fill="#00008a" fill-opacity="0.38"/>
<ellipse cx="101.6" cy="231.5" rx="8.4" ry="9.7" fill="#00008a" fill-opacity="0.38"/>
<ellipse cx="153.6" cy="396.7" rx="14.2" ry="11.1" fill="#00008a" fill-opacity="0.38"/>
<ellipse cx="166.0" cy="347.2" rx="13.5" ry="8.2" fill="#00008a" fill-opacity="0.38"/>
<ellipse cx="269.5" cy="438.8" rx="18.1" ry="11.7" fill="#00008a" fill-opacity="0.38"/>
<ellipse cx="127.6" cy="228.2" rx="11.5" ry="6.6" fill="#00008a" fill-opacity="0.38"/>
<ellipse cx="221.4" cy="275.1" rx="18.2" ry="9.1" fill="#00008a" fill-opacity="0.38"/>
<ellipse cx="261.3" cy="398.0" rx="8.0" ry="7.7" fill="#00008a" fill-opacity="0.38"/>
<ellipse cx="251.3" cy="294.2" rx="19.8" ry="9.2" fill="#00008a" fill-opacity="0.38"/>
<ellipse cx="77.2" cy="338.1" rx="17.3" ry="8.2" fill="#00008a" fill-opacity="0.38"/>
<ellipse cx="80.1" cy="256.5" rx="19.6" ry="12.1" fill="#00008a" fill-opacity="0.38"/>
<ellipse cx="86.5" cy="232.8" rx="9.2" ry="6.5" fill="#00008a" fill-opacity="0.38"/>
<ellipse cx="227.8" cy="213.9" rx="14.7" ry="9.6" fill="#00008a" fill-opacity="0.38"/>
<ellipse cx="101.7" cy="366.3" rx="9.6" ry="11.1" fill="#00008a" fill-opacity="0.38"/>
<ellipse cx="86.2" cy="280.7" rx="10.6" ry="8.2" fill="#00008a" fill-opacity="0.38"/>
<ellipse cx="264.0" cy="385.9" rx="11.6" ry="13.1" fill="#00008a" fill-opacity="0.38"/>
<ellipse cx="105.8" cy="273.4" rx="18.3" ry="11.1" fill="#00008a" fill-opacity="0.38"/>
<ellipse cx="82.9" cy="437.1" rx="10.6" ry="8.1" fill="#00008a" fill-opacity="0.38"/>
<ellipse cx="222.7" cy="255.5" rx="11.6" ry="6.6" fill="#00008a" fill-opacity="0.38"/>
<ellipse cx="80.7" cy="325.3" rx="10.9" ry="10.8" fill="#00008a" fill-opacity="0.38"/>
<ellipse cx="139.3" cy="289.6" rx="19.5" ry="9.9" fill="#00008a" fill-opacity="0.38"/>
<ellipse cx="181.5" cy="403.3" rx="10.2" ry="7.2" fill="#00008a" fill-opacity="0.38"/>
<ellipse cx="251.0" cy="389.9" rx="11.0" ry="7.5" fill="#00008a" fill-opacity="0.38"/>
<ellipse cx="215.8" cy="423.6" rx="10.4" ry="13.6" fill="#00008a" fill-opacity="0.38"/>
<ellipse cx="245.5" cy="331.0" rx="13.1" ry="6.8" fill="#00008a" fill-opacity="0.38"/>
<ellipse cx="70.0" cy="429.7" rx="10.9" ry="11.6" fill="#00008a" fill-opacity="0.38"/>
<ellipse cx="115.5" cy="391.5" rx="15.2" ry="8.3" fill="#00008a" fill-opacity="0.38"/>
<ellipse cx="98.5" cy="363.1" rx="8.8" ry="7.8" fill="#00008a" fill-opacity="0.38"/>
<ellipse cx="178.3" cy="399.4" rx="15.4" ry="8.2" fill="#00008a" fill-opacity="0.38"/>
<ellipse cx="252.8" cy="221.1" rx="8.1" ry="7.6" fill="#4848ff" fill-opacity="0.5"/>
<ellipse cx="154.7" cy="181.6" rx="9.4" ry="8.2" fill="#4848ff" fill-opacity="0.5"/>
<ellipse cx="181.0" cy="201.2" rx="10.9" ry="11.3" fill="#4848ff" fill-opacity="0.5"/>
<ellipse cx="265.9" cy="345.7" rx="13.5" ry="9.5" fill="#4848ff" fill-opacity="0.5"/>
<ellipse cx="91.2" cy="174.6" rx="8.1" ry="11.5" fill="#4848ff" fill-opacity="0.5"/>
<ellipse cx="207.8" cy="429.8" rx="8.2" ry="9.8" fill="#4848ff" fill-opacity="0.5"/>
<ellipse cx="162.3" cy="365.9" rx="10.6" ry="12.0" fill="#4848ff" fill-opacity="0.5"/>
<ellipse cx="77.7" cy="315.2" rx="13.9" ry="11.4" fill="#4848ff" fill-opacity="0.5"/>
<ellipse cx="215.3" cy="358.5" rx="14.3" ry="11.5" fill="#4848ff" fill-opacity="0.5"/>
<ellipse cx="135.2" cy="353.4" rx="15.2" ry="11.2" fill="#4848ff" fill-opacity="0.5"/>
<ellipse cx="148.8" cy="382.4" rx="14.9" ry="9.4" fill="#4848ff" fill-opacity="0.5"/>
<ellipse cx="192.0" cy="270.1" rx="12.7" ry="9.7" fill="#4848ff" fill-opacity="0.5"/>
<ellipse cx="78.7" cy="340.8" rx="15.9" ry="11.3" fill="#4848ff" fill-opacity="0.5"/>
<ellipse cx="213.5" cy="271.8" rx="13.9" ry="9.5" fill="#4848ff" fill-opacity="0.5"/>
</g>
<g filter="url(#bl2)">
<ellipse cx="245" cy="388" rx="22" ry="20" fill="#d8d8f4" fill-opacity="0.6"/>
<ellipse cx="160" cy="244" rx="12" ry="8" fill="#c8c8f0" fill-opacity="0.5"/>
<ellipse cx="120" cy="440" rx="60" ry="12" fill="#d8d8ea" fill-opacity="0.5"/>
<ellipse cx="220" cy="440" rx="50" ry="12" fill="#d8d8ea" fill-opacity="0.5"/>
<ellipse cx="150" cy="450" rx="70" ry="7" fill="#eeeef4" fill-opacity="0.6"/>
</g>
<path d="M240.0,448.8L243.6,436.2M200.1,471.0L209.5,479.8M217.5,441.0L226.4,449.6M209.5,479.8L221.6,479.9M240.0,448.8L246.5,456.0M228.0,467.6L242.1,466.0M200.1,471.0L204.9,462.6M220.2,460.5L228.0,467.6M221.6,479.9L228.0,467.6M217.5,441.0L223.7,431.8M223.7,431.8L237.5,429.0M220.2,460.5L226.4,449.6M237.5,429.0L243.6,436.2M242.1,466.0L246.5,456.0M226.4,449.6L240.0,448.8M243.6,436.2L252.4,429.7M221.6,479.9L221.0,489.0M204.9,462.6L194.5,465.4M246.5,456.0L259.2,456.9M223.7,431.8L221.4,420.9M133.1,279.0L143.9,286.9M129.6,303.6L141.6,297.4M162.2,301.8L165.2,289.5M119.0,293.1L129.6,303.6M150.4,305.7L162.2,301.8M143.9,286.9L154.7,282.8M154.7,282.8L165.2,289.5M119.0,293.1L121.3,281.3M141.6,297.4L143.9,286.9M121.3,281.3L133.1,279.0M129.6,303.6L119.6,309.6M154.7,282.8L164.0,274.8M55.5,221.7L55.0,233.9M75.9,222.7L66.1,215.0M55.5,221.7L47.4,214.3M58.9,195.0L46.9,198.9M67.4,201.8L58.9,195.0M75.9,222.7L74.5,236.7M74.5,236.7L65.7,241.4M67.4,201.8L66.1,215.0M65.7,241.4L55.0,233.9M66.1,215.0L55.5,221.7M75.9,222.7L86.1,225.2M47.4,214.3L36.7,210.2M286.4,348.6L276.0,352.3M256.4,351.1L253.9,363.3M267.1,346.3L256.4,351.1M253.9,363.3L242.9,365.3M305.4,352.1L294.5,355.1M280.8,371.8L271.9,363.4M276.0,352.3L267.1,346.3M271.9,363.4L261.6,370.5M261.6,370.5L253.9,363.3M311.2,368.7L302.1,374.8M313.0,357.4L305.4,352.1M292.1,366.6L280.8,371.8M234.7,347.6L233.7,360.3M294.5,355.1L286.4,348.6M294.5,355.1L292.1,366.6M313.0,357.4L311.2,368.7M247.0,344.1L234.7,347.6M242.9,365.3L233.7,360.3M256.4,351.1L247.0,344.1M242.9,365.3L232.8,369.1M305.4,352.1L314.9,348.4M313.0,357.4L324.0,358.0M234.7,347.6L226.0,344.7M233.7,360.3L223.7,359.5M247.0,344.1L237.5,337.9M275.9,464.8L268.9,454.8M285.8,419.4L269.8,420.7M263.3,410.5L249.4,413.7M311.3,413.4L304.6,402.7M288.6,440.1L274.1,443.4M288.9,464.0L295.9,451.9M249.4,413.7L241.6,404.6M263.3,410.5L266.9,397.3M285.8,419.4L291.0,405.5M291.0,405.5L281.6,395.0M274.1,443.4L266.7,434.4M266.7,434.4L269.8,420.7M295.9,451.9L288.6,440.1M307.8,448.3L313.7,437.1M293.4,428.3L285.8,419.4M268.9,454.8L274.1,443.4M259.8,389.2L245.8,389.9M305.7,425.6L311.3,413.4M305.7,425.6L293.4,428.3M307.8,448.3L295.9,451.9M288.9,464.0L275.9,464.8M288.6,440.1L293.4,428.3M281.6,395.0L266.9,397.3M269.8,420.7L263.3,410.5M241.6,404.6L245.8,389.9M304.6,402.7L291.0,405.5M268.9,454.8L264.1,467.3M241.6,404.6L231.0,398.3M196.7,323.7L201.2,311.2M201.2,311.2L190.0,300.2M156.8,293.4L168.8,291.9M178.9,303.2L190.0,300.2M160.1,316.7L172.7,313.7M183.7,324.2L172.7,313.7M160.1,316.7L150.4,305.1M183.7,324.2L196.7,323.7M178.9,303.2L168.8,291.9M196.7,323.7L206.1,330.2M156.8,293.4L145.4,286.1M160.1,316.7L150.0,321.8M102.0,192.4L97.5,201.6M102.0,192.4L113.2,188.7M120.6,205.9L129.0,214.1M97.5,201.6L106.5,211.3M113.2,188.7L121.9,196.5M129.0,214.1L141.9,212.1M135.1,195.1L143.6,200.2M160.4,188.1L157.3,197.4M143.6,200.2L141.9,212.1M139.8,184.5L135.1,195.1M121.9,196.5L135.1,195.1M139.8,184.5L151.1,181.2M121.9,196.5L120.6,205.9M143.6,200.2L157.3,197.4M151.1,181.2L160.4,188.1M141.9,212.1L147.2,219.2M160.4,188.1L170.6,184.7M181.5,262.3L184.4,252.7M194.4,250.2L204.3,259.1M200.4,269.6L204.3,259.1M181.5,262.3L189.7,272.4M175.1,285.0L187.3,284.7M184.4,252.7L194.4,250.2M206.8,291.5L210.1,280.2M187.3,284.7L195.7,294.2M165.4,277.5L175.1,285.0M195.7,294.2L206.8,291.5M189.7,272.4L200.4,269.6M200.4,269.6L210.1,280.2M165.4,277.5L169.0,264.3M187.3,284.7L189.7,272.4M169.0,264.3L181.5,262.3M175.1,285.0L167.3,292.7M169.0,264.3L158.6,260.6M58.4,232.2L65.6,222.8M65.6,222.8L78.4,223.9M78.4,223.9L89.8,221.7M89.8,221.7L101.0,227.1M101.0,227.1L111.5,221.3M111.5,221.3L123.1,224.9M134.2,422.9L122.6,417.3M145.8,417.7L134.2,422.9M153.8,435.1L154.9,425.0M141.9,441.3L132.3,435.0M110.4,433.7L111.5,422.8M122.6,417.3L123.8,405.6M162.7,444.1L153.8,435.1M140.5,453.1L141.9,441.3M121.5,439.4L110.4,433.7M154.9,425.0L145.8,417.7M134.7,400.0L123.8,405.6M132.3,435.0L134.2,422.9M132.3,435.0L121.5,439.4M145.8,417.7L146.0,407.3M146.0,407.3L134.7,400.0M161.7,453.4L162.7,444.1M153.8,435.1L141.9,441.3M161.7,453.4L151.4,457.9M122.6,417.3L111.5,422.8M151.4,457.9L155.5,468.1M140.5,453.1L142.2,462.5M162.7,444.1L174.0,447.5M274.5,413.4L262.8,404.6M296.8,380.1L285.2,372.1M264.3,393.1L273.0,389.3M285.2,408.7L284.5,394.9M273.1,374.8L285.2,372.1M296.4,392.7L296.8,380.1M284.5,394.9L296.4,392.7M284.5,394.9L273.0,389.3M262.8,404.6L264.3,393.1M274.5,413.4L285.2,408.7M273.0,389.3L273.1,374.8M262.8,404.6L254.3,410.8M296.8,380.1L304.2,373.2M264.3,393.1L251.9,393.0M149.5,328.8L139.2,335.8M194.7,330.8L193.0,317.5M160.8,350.4L162.1,336.6M184.6,337.7L172.7,331.1M149.5,328.8L148.5,315.4M171.4,317.4L161.3,311.0M194.7,330.8L184.6,337.7M172.7,331.1L171.4,317.4M181.9,310.3L171.4,317.4M160.8,350.4L150.9,354.1M150.9,354.1L138.4,347.4M172.7,331.1L162.1,336.6M138.4,347.4L139.2,335.8M161.3,311.0L148.5,315.4M162.1,336.6L149.5,328.8M194.7,330.8L206.3,331.0M138.4,347.4L129.5,354.8M232.6,379.9L239.3,385.2M239.3,385.2L236.5,393.3M236.5,393.3L245.2,399.3M245.2,399.3L240.8,405.4M209.6,216.0L212.2,224.6M212.2,224.6L203.4,229.1M203.4,229.1L203.4,240.0M203.4,240.0L194.3,247.6M194.3,247.6L195.8,255.6M214.9,415.7L222.6,406.2M234.1,412.1L234.7,424.6M227.6,432.0L234.7,424.6M214.9,415.7L216.4,428.5M197.5,432.2L207.5,434.4M222.6,406.2L234.1,412.1M195.3,418.5L197.5,432.2M216.4,428.5L227.6,432.0M195.3,418.5L202.8,412.3M207.5,434.4L216.4,428.5M202.8,412.3L214.9,415.7M227.6,432.0L235.5,439.0M207.5,434.4L204.0,445.4M247.8,447.3L235.5,443.8M268.1,458.3L267.6,445.8M277.4,427.2L265.9,420.9M280.1,464.7L268.1,458.3M277.8,438.4L277.4,427.2M238.7,468.8L227.4,461.7M261.9,476.3L259.4,465.6M247.8,447.3L257.2,440.0M267.6,445.8L277.8,438.4M257.2,440.0L256.4,428.2M256.4,428.2L265.9,420.9M227.4,461.7L227.4,451.3M227.4,451.3L235.5,443.8M239.0,479.5L238.7,468.8M252.2,485.5L261.9,476.3M247.8,460.0L247.8,447.3M259.4,465.6L268.1,458.3M259.4,465.6L247.8,460.0M280.1,464.7L291.5,456.3M252.2,485.5L239.0,479.5M291.5,456.3L288.4,444.6M238.7,468.8L247.8,460.0M235.5,443.8L226.0,438.7M145.3,150.7L132.7,152.2M149.4,174.7L152.7,162.6M134.9,174.4L128.8,165.3M120.1,187.9L110.7,176.4M132.7,186.1L134.9,174.4M116.7,164.9L109.0,154.8M128.8,165.3L132.7,152.2M128.8,165.3L116.7,164.9M132.7,186.1L120.1,187.9M110.7,176.4L116.7,164.9M149.4,174.7L134.9,174.4M149.4,174.7L153.9,183.7M152.7,162.6L162.7,168.0M149.5,158.1L139.4,163.3M141.1,175.0L139.4,163.3M161.9,176.7L159.9,163.8M161.9,176.7L153.0,181.7M153.0,181.7L141.1,175.0M159.9,163.8L149.5,158.1M172.0,158.7L159.9,163.8M149.5,158.1L148.8,144.6M172.0,158.7L180.7,163.9M139.4,163.3L130.8,168.9M141.1,175.0L134.3,184.2M153.0,181.7L149.1,192.8M172.4,425.3L173.7,436.7M195.5,431.6L186.0,442.0M199.8,455.3L189.6,451.6M186.0,442.0L173.7,436.7M205.7,436.2L195.5,431.6M192.7,422.2L195.5,431.6M205.7,436.2L207.8,446.6M192.7,422.2L180.8,417.5M186.0,442.0L189.6,451.6M207.8,446.6L199.8,455.3M199.8,455.3L204.8,464.9M205.7,436.2L216.4,435.9M207.8,446.6L217.7,453.0M272.7,369.6L278.6,380.1M235.7,386.0L241.8,396.0M221.0,370.1L214.9,376.4M273.7,387.4L260.0,386.9M214.9,376.4L223.7,387.7M242.1,379.9L235.7,386.0M259.1,369.3L255.1,379.0M235.7,386.0L223.7,387.7M255.1,379.0L242.1,379.9M233.6,369.3L242.1,379.9M255.1,379.0L260.0,386.9M233.6,369.3L221.0,370.1M278.6,380.1L273.7,387.4M272.7,369.6L259.1,369.3M260.0,386.9L254.1,396.1M241.8,396.0L239.6,405.1M273.7,387.4L284.9,391.6M223.7,387.7L212.2,389.3M85.1,403.4L95.9,409.8M94.9,386.8L105.8,390.7M107.9,435.9L116.9,442.0M96.1,445.1L107.9,435.9M105.8,390.7L106.8,401.6M84.0,392.9L94.9,386.8M86.1,429.0L85.4,440.1M95.6,420.7L107.4,426.1M125.8,423.6L126.3,435.5M76.0,423.4L86.1,429.0M106.8,401.6L115.2,408.4M95.9,409.8L95.6,420.7M115.8,420.3L125.8,423.6M85.4,440.1L96.1,445.1M107.4,426.1L107.9,435.9M107.4,426.1L115.8,420.3M95.9,409.8L106.8,401.6M115.2,408.4L115.8,420.3M74.2,410.4L76.0,423.4M86.1,429.0L95.6,420.7M74.2,410.4L85.1,403.4M84.0,392.9L85.1,403.4M116.9,442.0L126.3,435.5M116.9,442.0L122.7,450.5M85.4,440.1L80.4,448.2M115.2,408.4L124.9,401.4M157.3,330.5L156.3,344.9M192.5,331.4L199.5,340.5M207.0,363.2L219.8,357.3M180.1,336.3L192.5,331.4M198.9,353.6L207.0,363.2M157.3,330.5L170.0,326.6M214.3,324.8L212.1,338.4M199.5,340.5L198.9,353.6M212.1,338.4L221.6,344.7M221.6,344.7L219.8,357.3M185.6,358.1L183.5,370.5M206.1,315.8L214.3,324.8M170.0,326.6L180.1,336.3M185.6,358.1L198.9,353.6M193.0,318.8L192.5,331.4M193.0,318.8L206.1,315.8M180.1,336.3L177.4,348.6M183.5,370.5L193.4,376.7M177.4,348.6L185.6,358.1M199.5,340.5L212.1,338.4M164.3,352.6L177.4,348.6M207.0,363.2L203.4,373.7M219.8,357.3L229.6,362.7M170.0,326.6L161.2,320.5M206.1,315.8L211.3,305.9M193.4,376.7L192.5,389.5M283.5,232.6L296.7,234.2M285.1,210.2L279.7,222.1M283.5,232.6L280.9,242.1M263.9,229.8L268.6,242.5M267.2,220.1L263.9,229.8M285.1,210.2L294.0,211.3M294.0,211.3L301.9,222.2M267.2,220.1L279.7,222.1M301.9,222.2L296.7,234.2M268.6,242.5L280.9,242.1M285.1,210.2L285.3,201.1M204.4,394.5L201.1,382.7M177.0,429.1L184.0,420.7M213.5,415.6L219.5,406.7M185.7,400.6L182.9,391.1M195.6,421.2L201.2,414.1M204.4,394.5L215.6,395.9M182.9,391.1L190.7,380.6M193.2,442.3L199.1,431.9M190.7,380.6L201.1,382.7M181.2,407.7L185.7,400.6M184.0,420.7L195.6,421.2M198.3,401.6L204.4,394.5M201.2,414.1L213.5,415.6M201.2,414.1L198.3,401.6M184.0,420.7L181.2,407.7M182.0,440.0L193.2,442.3M199.1,431.9L195.6,421.2M182.0,440.0L177.0,429.1M219.5,406.7L215.6,395.9M201.1,382.7L203.6,373.0M215.6,395.9L225.2,390.1M114.5,319.3L123.2,328.3M123.2,328.3L117.4,335.7M117.4,335.7L124.4,347.0M155.7,247.6L150.7,238.8M171.2,260.0L183.2,262.5M188.5,228.6L183.8,217.8M155.7,228.0L165.8,228.4M183.2,262.5L186.9,251.1M165.2,250.3L172.7,240.3M171.3,218.3L183.8,217.8M181.4,239.9L188.5,228.6M171.2,260.0L165.2,250.3M172.7,240.3L181.4,239.9M186.9,251.1L181.4,239.9M172.7,240.3L165.8,228.4M150.7,238.8L155.7,228.0M165.8,228.4L171.3,218.3M183.2,262.5L187.0,271.5M138.9,315.8L125.3,312.6M121.0,301.3L109.0,301.0M134.6,336.3L123.7,334.1M121.0,301.3L130.1,290.8M138.9,315.8L145.2,305.9M145.2,305.9L142.4,294.7M123.7,334.1L117.7,322.9M117.7,322.9L125.3,312.6M143.6,328.0L138.9,315.8M100.7,309.1L109.0,301.0M117.7,322.9L105.3,322.0M155.8,328.1L161.9,320.2M155.8,328.1L143.6,328.0M105.3,322.0L100.7,309.1M142.4,294.7L130.1,290.8M134.6,336.3L143.6,328.0M125.3,312.6L121.0,301.3M158.3,308.6L145.2,305.9M109.0,301.0L99.7,294.0M130.1,290.8L127.2,280.8M110.7,331.2L110.9,321.4M130.5,319.0L120.4,314.8M132.4,329.9L130.5,319.0M132.4,329.9L123.3,333.7M120.4,314.8L110.9,321.4M123.3,333.7L110.7,331.2M120.4,314.8L119.0,304.5M123.3,333.7L123.7,344.6M197.7,439.7L190.7,428.9M230.7,474.9L239.0,465.0M239.0,465.0L230.2,452.4M210.7,463.2L217.0,452.0M197.7,439.7L211.4,442.2M217.0,452.0L230.2,452.4M198.2,459.9L210.7,463.2M218.3,473.6L210.7,463.2M170.3,438.9L177.9,428.5M218.3,473.6L230.7,474.9M177.9,428.5L190.7,428.9M217.0,452.0L211.4,442.2M198.2,459.9L191.4,450.1M191.4,450.1L197.7,439.7M230.7,474.9L239.7,482.3M230.2,452.4L243.7,454.6M198.2,459.9L190.6,469.8M222.3,371.1L232.6,367.9M198.8,377.3L205.6,387.2M210.3,407.2L223.4,403.5M188.2,381.0L198.8,377.3M201.9,398.8L210.3,407.2M222.3,371.1L217.1,383.0M205.6,387.2L201.9,398.8M217.1,383.0L226.7,392.5M226.7,392.5L223.4,403.5M213.4,360.8L222.3,371.1M191.2,402.7L201.9,398.8M202.0,364.7L198.8,377.3M188.2,381.0L182.8,393.2M182.8,393.2L191.2,402.7M226.7,392.5L236.8,389.3M232.6,367.9L241.9,376.1M205.6,387.2L217.1,383.0M241.9,376.1L250.8,371.9M236.8,389.3L247.6,389.3M63.3,350.1L54.4,356.5M54.4,356.5L55.2,366.4M75.7,363.5L66.7,372.3M79.3,385.7L67.5,381.3M66.7,372.3L55.2,366.4M86.2,368.9L75.7,363.5M74.8,353.3L75.7,363.5M86.2,368.9L88.3,380.1M74.8,353.3L63.3,350.1M66.7,372.3L67.5,381.3M88.3,380.1L79.3,385.7M54.4,356.5L45.3,349.8M88.3,380.1L95.9,385.1M139.0,177.5L126.7,178.8M126.7,178.8L123.0,189.8M143.5,200.6L132.7,200.2M137.0,223.7L128.5,214.3M132.7,200.2L123.0,189.8M151.5,212.5L143.5,200.6M146.6,187.5L143.5,200.6M151.5,212.5L148.1,223.6M146.6,187.5L139.0,177.5M132.7,200.2L128.5,214.3M148.1,223.6L137.0,223.7M128.5,214.3L121.9,221.2M228.0,269.8L231.7,260.6M215.2,291.1L228.1,292.2M246.6,303.6L252.8,290.3M234.2,302.1L246.6,303.6M208.4,258.8L215.3,250.0M252.8,290.3L264.1,292.9M228.0,269.8L234.3,281.2M198.4,280.9L209.2,281.4M228.1,292.2L234.2,302.1M234.3,281.2L245.7,282.2M245.7,282.2L252.8,290.3M215.3,250.0L226.2,250.3M226.2,250.3L231.7,260.6M197.5,259.7L208.4,258.8M189.8,271.0L198.4,280.9M215.4,270.0L228.0,269.8M265.1,312.2L271.0,303.0M209.2,281.4L215.2,291.1M209.2,281.4L215.4,270.0M253.2,313.9L265.1,312.2M208.4,258.8L215.4,270.0M264.1,292.9L271.0,303.0M228.1,292.2L234.3,281.2M246.6,303.6L253.2,313.9M231.7,260.6L234.4,249.1M245.7,282.2L256.2,280.7M197.5,259.7L187.5,254.0M189.8,271.0L180.4,267.7M253.2,313.9L258.7,321.8M133.0,269.8L136.7,279.9M123.6,251.1L115.9,261.6M154.9,258.1L157.0,269.9M129.7,289.1L117.8,291.1M144.4,239.3L137.9,250.8M133.0,269.8L121.1,270.9M121.1,270.9L112.9,281.7M157.0,269.9L151.3,278.2M151.3,278.2L136.7,279.9M162.7,249.8L154.9,258.1M156.5,237.8L144.4,239.3M142.6,260.3L133.0,269.8M137.9,250.8L123.6,251.1M137.9,250.8L142.6,260.3M156.5,237.8L162.7,249.8M112.9,281.7L117.8,291.1M136.7,279.9L129.7,289.1M115.9,261.6L121.1,270.9M123.6,251.1L117.8,242.7M157.0,269.9L168.7,271.1M129.7,289.1L126.5,301.0M151.3,278.2L156.7,286.8M220.3,177.7L209.9,172.4M241.8,187.1L239.1,173.9M247.2,166.5L244.4,153.5M246.6,211.0L256.2,204.6M208.6,160.8L215.1,150.7M220.3,177.7L229.2,168.5M235.7,206.5L233.4,193.5M239.1,173.9L247.2,166.5M229.2,168.5L225.6,158.0M225.6,158.0L233.6,150.0M218.9,209.1L214.1,197.7M227.8,214.1L235.7,206.5M223.0,188.6L220.3,177.7M256.2,204.6L253.7,191.3M233.4,193.5L241.8,187.1M227.8,214.1L218.9,209.1M225.6,158.0L215.1,150.7M214.1,197.7L223.0,188.6M246.6,211.0L235.7,206.5M209.9,172.4L208.6,160.8M239.1,173.9L229.2,168.5M209.9,172.4L199.6,170.3M178.6,357.5L187.8,369.2M167.8,380.2L179.9,381.8M162.1,368.9L167.8,380.2M179.9,381.8L187.8,369.2M166.8,360.2L178.6,357.5M204.1,311.3L194.3,315.6M182.1,309.0L185.4,298.6M194.8,292.4L185.4,298.6M204.1,311.3L204.4,298.2M225.9,298.8L216.3,294.6M194.3,315.6L182.1,309.0M223.2,312.0L225.9,298.8M204.4,298.2L194.8,292.4M223.2,312.0L212.5,317.0M216.3,294.6L204.4,298.2M212.5,317.0L204.1,311.3M225.9,298.8L235.5,297.6M216.3,294.6L223.1,285.2M223.2,312.0L233.9,316.3M212.5,317.0L219.5,327.1M269.6,467.1L258.0,466.3M258.0,466.3L252.7,457.9M252.7,457.9L239.6,455.4M239.6,455.4L236.8,443.2M209.2,204.8L205.6,213.1M177.3,232.1L172.8,242.2M156.8,254.3L166.3,263.1M167.8,223.3L177.3,232.1M162.2,245.8L156.8,254.3M165.4,207.4L173.1,214.2M184.1,209.0L173.1,214.2M154.3,209.3L148.2,221.2M192.1,215.9L188.1,226.4M193.5,243.8L182.2,249.0M172.8,242.2L162.2,245.8M182.2,249.0L177.6,258.3M177.6,258.3L166.3,263.1M189.5,198.9L184.1,209.0M197.5,233.3L193.5,243.8M173.1,214.2L167.8,223.3M153.0,237.0L162.2,245.8M188.1,226.4L177.3,232.1M188.1,226.4L197.5,233.3M167.8,223.3L158.4,227.2M158.4,227.2L153.0,237.0M199.4,195.1L189.5,198.9M184.1,209.0L192.1,215.9M199.4,195.1L209.2,204.8M172.8,242.2L182.2,249.0M148.2,221.2L158.4,227.2M205.6,213.1L214.8,209.0M166.3,263.1L162.9,271.4M148.2,221.2L139.0,217.7M193.5,243.8L200.0,251.9M153.0,237.0L143.3,242.1M174.1,223.2L172.8,235.2M184.1,253.3L192.1,260.6M172.8,235.2L182.8,242.7M184.4,219.5L196.4,227.5M192.1,260.6L205.2,255.8M195.2,237.3L203.5,244.1M174.1,223.2L184.4,219.5M216.0,229.9L216.1,242.0M196.4,227.5L195.2,237.3M203.5,244.1L205.2,255.8M182.8,242.7L195.2,237.3M196.4,227.5L206.9,222.5M182.8,242.7L184.1,253.3M203.5,244.1L216.1,242.0M206.9,222.5L216.0,229.9M172.8,235.2L162.3,233.2M205.2,255.8L208.7,264.9M92.3,464.4L101.2,475.3M96.2,485.5L82.9,488.1M75.4,478.1L82.9,488.1M92.3,464.4L81.5,465.6M101.2,475.3L96.2,485.5M89.5,442.9L77.3,443.1M81.5,465.6L75.4,478.1M89.5,442.9L99.5,451.2M73.5,454.8L81.5,465.6M99.5,451.2L92.3,464.4M77.3,443.1L72.6,432.9M73.5,454.8L62.5,449.4M141.9,206.8L148.7,197.8M124.7,230.3L136.3,232.4M152.8,247.3L159.3,235.8M117.9,241.8L124.7,230.3M102.6,227.0L104.8,238.9M161.1,199.5L164.4,213.0M110.1,216.1L121.0,217.0M141.9,206.8L144.5,221.2M144.5,221.2L156.9,221.4M156.9,221.4L159.3,235.8M104.8,238.9L117.9,241.8M130.9,255.0L140.7,244.9M121.0,217.0L124.7,230.3M121.0,217.0L130.6,205.9M117.9,241.8L120.3,253.3M120.3,253.3L130.9,255.0M156.9,221.4L164.4,213.0M102.6,227.0L110.1,216.1M148.7,197.8L161.1,199.5M136.3,232.4L144.5,221.2M148.7,197.8L154.8,186.0M152.8,247.3L158.5,255.0M159.3,235.8L169.6,239.2M104.8,238.9L94.6,242.9M110.1,216.1L100.0,210.7M130.9,255.0L130.3,267.7M120.3,253.3L114.0,264.3M111.6,273.9L99.6,277.1M92.3,253.2L88.4,265.4M106.3,252.9L92.3,253.2M106.3,252.9L116.1,262.3M88.4,265.4L99.6,277.1M116.1,262.3L111.6,273.9M111.6,273.9L118.8,282.0M99.6,277.1L94.8,287.2M106.3,252.9L109.6,240.7M24.2,300.1L26.9,312.0M41.1,329.4L53.8,335.2M53.8,335.2L66.3,325.2M58.3,285.5L71.6,289.0M87.0,308.4L95.2,299.8M46.5,295.7L58.3,285.5M71.8,303.7L87.0,308.4M40.2,318.0L41.1,329.4M24.2,300.1L35.2,289.4M32.1,276.8L35.2,289.4M40.8,267.6L53.5,271.6M76.9,267.4L81.6,281.0M71.6,289.0L71.8,303.7M81.6,281.0L93.4,283.8M93.4,283.8L95.2,299.8M62.2,311.9L66.3,325.2M63.8,263.0L76.9,267.4M35.2,289.4L46.5,295.7M62.2,311.9L71.8,303.7M53.5,271.6L58.3,285.5M53.5,271.6L63.8,263.0M46.5,295.7L48.9,308.8M48.9,308.8L62.2,311.9M32.1,276.8L40.8,267.6M71.6,289.0L81.6,281.0M40.2,318.0L48.9,308.8M24.2,300.1L11.2,300.2M87.0,308.4L97.6,312.2M76.9,267.4L85.3,257.3M261.1,362.2L272.5,372.2M255.0,386.1L267.7,383.2M246.3,376.3L255.0,386.1M246.3,376.3L249.2,364.5M267.7,383.2L272.5,372.2M249.2,364.5L261.1,362.2M255.0,386.1L253.0,397.0M62.4,339.0L50.6,341.1M45.2,331.7L32.1,330.9M85.9,341.0L79.0,332.9M61.4,358.4L49.6,356.0M84.5,357.9L78.9,349.2M62.4,339.0L68.1,332.6M68.1,332.6L61.1,321.9M49.6,356.0L46.1,349.7M46.1,349.7L50.6,341.1M67.5,366.2L61.4,358.4M78.9,365.5L84.5,357.9M67.4,349.3L62.4,339.0M28.2,339.4L32.1,330.9M78.9,349.2L85.9,341.0M78.9,349.2L67.4,349.3M33.3,349.4L28.2,339.4M78.9,365.5L67.5,366.2M61.4,358.4L67.4,349.3M61.1,321.9L49.9,321.7M50.6,341.1L45.2,331.7M79.0,332.9L68.1,332.6M79.0,332.9L88.3,327.0M49.6,356.0L45.6,364.7M84.5,357.9L94.6,363.1M67.5,366.2L71.4,374.9M78.9,365.5L86.2,373.9M126.0,355.6L125.8,343.3M115.2,362.2L126.0,355.6M168.4,360.3L169.7,347.2M113.3,373.9L125.0,383.1M136.6,364.4L146.6,358.7M157.6,364.6L168.4,360.3M137.1,375.9L136.6,364.4M113.3,373.9L115.2,362.2M146.6,358.7L157.6,364.6M146.6,358.7L147.4,344.8M125.0,383.1L137.1,375.9M126.0,355.6L136.6,364.4M137.1,375.9L133.0,387.1M113.8,363.1L102.4,355.8M94.7,335.6L82.6,341.0M125.7,357.9L113.8,363.1M106.5,343.5L94.7,335.6M88.6,374.7L91.5,360.4M102.4,355.8L106.5,343.5M91.5,360.4L80.3,354.5M80.3,354.5L82.6,341.0M117.2,339.8L120.0,327.6M97.4,380.2L88.6,374.7M117.2,339.8L106.5,343.5M109.5,375.6L113.8,363.1M112.1,320.2L98.1,325.5M109.5,375.6L97.4,380.2M125.7,357.9L128.5,345.0M128.5,345.0L117.2,339.8M102.4,355.8L91.5,360.4M120.0,327.6L112.1,320.2M82.6,341.0L73.1,338.3M125.7,357.9L136.0,362.0M80.3,354.5L69.1,356.8M112.1,320.2L113.6,308.1M128.5,345.0L140.0,343.4M141.9,282.9L145.8,271.6M97.6,281.9L89.0,283.5M117.1,278.4L113.5,269.4M128.3,274.7L117.1,278.4M95.6,300.8L86.8,301.8M141.9,282.9L131.4,282.7M145.8,271.6L143.2,262.2M97.6,281.9L103.6,270.6M113.5,269.4L118.4,259.0M86.8,301.8L83.1,292.7M83.1,292.7L89.0,283.5M100.8,289.2L97.6,281.9M131.4,282.7L128.3,274.7M129.1,257.0L118.4,259.0M112.8,287.5L117.1,278.4M112.8,287.5L100.8,289.2M128.3,274.7L133.4,263.8M133.4,263.8L129.1,257.0M95.6,300.8L100.8,289.2M113.5,269.4L103.6,270.6M143.2,262.2L133.4,263.8M141.9,282.9L149.3,282.9M86.8,301.8L78.5,308.7M118.4,259.0L120.9,248.4M83.1,292.7L73.6,297.7M61.3,391.7L71.1,382.7M82.2,395.4L79.3,385.8M72.3,402.5L61.3,402.8M79.3,385.8L71.1,382.7M61.3,402.8L61.3,391.7M71.1,382.7L69.7,373.7M82.2,395.4L89.9,397.1M103.5,376.5L112.2,385.9M104.0,364.9L115.8,360.8M128.9,342.6L140.9,349.5M126.6,367.9L139.3,364.3M103.5,376.5L104.0,364.9M115.8,360.8L126.6,367.9M124.7,380.6L126.6,367.9M115.8,360.8L119.3,348.3M139.3,364.3L140.9,349.5M124.7,380.6L126.4,391.0M140.9,349.5L149.5,344.1M77.0,437.1L86.5,442.5M98.3,436.8L96.4,423.6M82.7,386.6L83.5,375.1M92.3,367.0L93.4,357.2M84.8,408.2L96.4,401.5M85.0,420.9L84.8,408.2M77.0,437.1L76.8,425.9M93.4,357.2L103.7,350.1M92.3,367.0L104.7,372.3M64.6,422.5L76.8,425.9M86.5,442.5L98.3,436.8M64.6,411.4L72.7,403.7M82.7,386.6L93.7,390.5M96.4,401.5L106.0,406.8M93.7,390.5L105.2,384.1M73.2,391.1L82.7,386.6M76.8,425.9L85.0,420.9M107.9,416.8L106.0,406.8M115.5,366.8L113.4,352.6M72.7,403.7L84.8,408.2M72.7,403.7L73.2,391.1M85.0,420.9L96.4,423.6M96.4,423.6L107.9,416.8M105.2,384.1L104.7,372.3M64.6,422.5L64.6,411.4M83.5,375.1L92.3,367.0M103.7,350.1L113.4,352.6M96.4,401.5L93.7,390.5M104.7,372.3L115.5,366.8M77.0,437.1L72.8,448.1M98.3,436.8L100.0,446.4M83.5,375.1L79.5,364.2M93.4,357.2L92.8,345.5M107.9,416.8L114.5,426.2M177.7,213.5L182.1,225.2M141.9,233.6L147.8,244.5M130.1,213.3L122.4,223.4M177.6,234.0L163.4,233.8M122.4,223.4L129.8,234.1M145.9,224.5L141.9,233.6M163.9,213.3L157.5,222.7M159.6,245.4L147.8,244.5M141.9,233.6L129.8,234.1M142.1,213.5L145.9,224.5M157.5,222.7L163.4,233.8M142.1,213.5L130.1,213.3M182.1,225.2L177.6,234.0M177.7,213.5L163.9,213.3M163.4,233.8L159.6,245.4M81.1,222.5L74.4,233.2M91.8,245.5L81.1,245.8M118.8,267.6L111.5,256.6M131.8,246.2L119.4,245.1M98.7,235.6L91.8,245.5M119.4,245.1L111.2,233.9M81.1,245.8L74.4,233.2M111.2,233.9L98.7,235.6M138.0,258.0L131.8,246.2M111.5,256.6L100.2,255.9M100.2,255.9L91.8,245.5M138.0,258.0L129.7,267.7M119.4,245.1L111.5,256.6M129.7,267.7L118.8,267.6M98.7,235.6L92.7,222.1M81.1,222.5L71.5,215.6M74.4,233.2L62.6,230.5M138.0,258.0L148.5,261.2M248.4,333.8L262.6,335.5M262.6,335.5L271.2,326.8M244.5,323.6L252.5,315.9M258.3,296.2L271.1,297.1M267.5,314.5L275.3,305.2M248.4,333.8L244.5,323.6M252.5,315.9L267.5,314.5M271.2,326.8L267.5,314.5M252.5,315.9L249.8,303.7M275.3,305.2L271.1,297.1M249.8,303.7L258.3,296.2M244.5,323.6L235.2,331.2M156.6,441.1L153.0,453.5M129.4,446.3L137.8,457.0M132.4,434.2L129.4,446.3M132.4,434.2L147.2,430.1M137.8,457.0L153.0,453.5M118.6,284.4L122.7,293.8M122.7,293.8L110.7,296.7M110.7,296.7L111.0,305.6M111.0,305.6L105.1,312.9M188.6,305.2L183.6,292.5M206.6,283.7L195.0,280.7M210.2,299.3L206.6,283.7M210.2,299.3L200.5,307.3M200.5,307.3L188.6,305.2M183.6,292.5L173.3,288.3M195.0,280.7L190.7,269.8M166.9,282.3L162.9,271.3M171.0,264.5L182.1,267.5M185.5,277.6L182.1,267.5M166.9,282.3L178.9,284.4M174.8,301.5L181.3,295.8M162.9,271.3L171.0,264.5M163.0,299.9L174.8,301.5M178.9,284.4L185.5,277.6M163.0,299.9L157.7,289.2M181.3,295.8L178.9,284.4M157.7,289.2L166.9,282.3M185.5,277.6L195.3,275.2M174.8,301.5L175.6,312.2M181.3,295.8L189.1,304.0M191.1,439.2L177.9,438.2M177.9,438.2L173.2,447.6M194.5,450.6L187.8,459.8M185.2,477.9L175.2,478.0M191.1,439.2L194.5,450.6M151.1,475.3L156.4,486.8M170.5,468.2L157.8,464.8M187.8,459.8L178.0,456.3M157.8,464.8L151.1,475.3M173.2,447.6L178.0,456.3M175.2,478.0L167.0,488.2M167.0,488.2L156.4,486.8M170.5,468.2L175.2,478.0M193.3,468.4L185.2,477.9M177.9,438.2L180.3,427.1M194.5,450.6L203.7,442.8M151.1,475.3L141.8,480.2M167.0,488.2L164.2,497.3M174.0,454.8L165.7,445.5M172.3,409.3L160.1,412.5M206.7,397.5L194.9,400.7M171.3,466.4L160.9,468.5M177.6,428.8L167.1,431.6M184.9,450.1L187.3,438.9M214.0,419.1L216.4,406.2M152.5,402.5L152.6,392.1M202.4,422.2L193.3,413.4M172.3,409.3L173.3,395.6M173.3,395.6L166.3,388.5M187.3,438.9L177.6,428.8M181.4,417.4L172.3,409.3M216.4,406.2L206.7,397.5M151.2,462.1L153.9,448.0M165.7,445.5L167.1,431.6M160.9,468.5L151.2,462.1M193.3,413.4L194.9,400.7M193.3,413.4L181.4,417.4M200.0,434.1L187.3,438.9M184.9,450.1L174.0,454.8M166.3,388.5L152.6,392.1M177.6,428.8L181.4,417.4M214.0,419.1L202.4,422.2M160.1,412.5L152.5,402.5M185.5,393.2L173.3,395.6M160.1,412.5L151.1,406.1M206.7,397.5L214.5,390.9M167.1,431.6L158.6,439.7M184.9,450.1L188.2,461.2M152.5,402.5L142.4,396.8M200.0,434.1L209.2,439.7M129.8,491.9L125.1,480.9M119.7,501.4L107.1,495.6M98.3,460.9L90.6,468.9M105.3,441.7L96.0,448.3M115.1,477.5L109.6,463.6M107.1,495.6L105.2,483.8M98.3,460.9L96.0,448.3M118.0,445.2L105.3,441.7M118.7,455.9L118.0,445.2M105.2,483.8L94.1,479.4M118.7,455.9L109.6,463.6M115.1,477.5L105.2,483.8M109.6,463.6L98.3,460.9M94.1,479.4L90.6,468.9M125.1,480.9L135.3,485.9M105.3,441.7L103.5,430.2M118.0,445.2L119.8,434.5M89.9,412.2L101.7,420.8M104.4,393.3L92.5,399.3M89.9,412.2L77.2,415.5M71.2,395.5L66.5,407.2M53.8,424.6L63.4,433.0M82.5,389.3L71.2,395.5M54.9,413.2L53.8,424.6M77.2,415.5L75.3,428.4M75.3,428.4L63.4,433.0M104.4,393.3L115.3,401.2M115.3,401.2L114.7,416.0M114.7,416.0L101.7,420.8M66.5,407.2L77.2,415.5M82.5,389.3L92.5,399.3M92.5,399.3L89.9,412.2M63.4,433.0L55.4,442.8M82.5,389.3L82.1,377.9M91.4,306.4L78.0,305.2M78.0,305.2L69.7,312.8M96.9,315.1L89.0,322.7M87.0,339.7L75.0,339.1M76.4,321.1L68.8,328.6M91.4,306.4L96.9,315.1M69.7,312.8L76.4,321.1M89.0,322.7L95.9,331.5M68.8,328.6L75.0,339.1M95.9,331.5L87.0,339.7M182.9,159.0L174.8,153.5M141.9,406.1L151.6,402.7M162.7,418.1L162.7,410.2M172.3,395.4L160.1,388.1M162.7,410.2L172.8,404.5M152.4,421.3L162.7,418.1M172.8,404.5L172.3,395.4M151.6,402.7L150.1,392.2M150.1,392.2L160.1,388.1M152.4,421.3L143.3,416.8M162.7,410.2L151.6,402.7M143.3,416.8L141.9,406.1M172.3,395.4L179.1,390.5M150.1,392.2L146.2,383.8M94.5,432.4L91.5,420.2M91.5,420.2L76.7,416.4M85.9,442.4L73.1,437.7M49.3,445.4L46.0,432.3M67.5,424.6L55.9,423.4M73.1,437.7L67.5,424.6M76.7,416.4L67.5,424.6M73.1,437.7L62.9,449.0M55.9,423.4L46.0,432.3M62.9,449.0L49.3,445.4M76.7,416.4L82.4,405.3M49.3,445.4L40.5,451.5M55.9,423.4L45.6,416.4M229.7,424.6L214.6,425.9M214.6,425.9L210.0,435.1M231.3,446.3L218.2,445.5M221.4,466.6L213.4,454.8M198.4,436.1L192.9,445.6M218.2,445.5L210.0,435.1M236.5,435.8L231.3,446.3M210.0,435.1L198.4,436.1M240.4,456.8L231.3,446.3M213.4,454.8L200.8,455.2M200.8,455.2L192.9,445.6M240.4,456.8L234.8,466.5M236.5,435.8L229.7,424.6M218.2,445.5L213.4,454.8M234.8,466.5L221.4,466.6M214.6,425.9L214.3,414.5M221.4,466.6L223.4,477.4M192.9,445.6L182.1,445.6M236.5,435.8L245.5,430.5M200.8,455.2L192.2,461.4M282.8,416.6L273.1,407.0M292.5,395.5L280.9,394.8M259.1,383.9L253.7,393.3M280.9,394.8L273.3,383.3M301.0,405.3L292.5,395.5M273.3,383.3L259.1,383.9M273.1,407.0L262.0,405.4M262.0,405.4L253.7,393.3M301.0,405.3L295.7,416.4M280.9,394.8L273.1,407.0M295.7,416.4L282.8,416.6M262.0,405.4L249.6,409.8M295.7,416.4L304.7,426.0" stroke="#9a9af4" stroke-opacity="0.38" stroke-width="2.0" fill="none" stroke-linecap="round" filter="url(#gb)"/>
<path d="M112.3,189.6L108.3,200.6M110.4,225.2L118.3,234.6M118.3,234.6L128.7,232.7M142.0,197.3L147.2,207.5M151.6,232.2L160.7,228.6M131.1,199.9L142.0,197.3M144.0,219.8L151.6,232.2M114.7,211.4L110.4,225.2M112.3,189.6L122.6,187.2M108.3,200.6L114.7,211.4M165.0,195.9L161.0,208.0M147.2,207.5L144.0,219.8M161.0,208.0L167.2,217.8M167.2,217.8L160.7,228.6M133.3,222.5L128.7,232.7M158.2,184.2L165.0,195.9M122.6,187.2L131.1,199.9M133.3,222.5L144.0,219.8M145.8,185.4L142.0,197.3M131.1,199.9L125.7,211.5M128.7,232.7L136.2,243.0M125.7,211.5L133.3,222.5M147.2,207.5L161.0,208.0M114.7,211.4L125.7,211.5M160.7,228.6L170.8,236.0M167.2,217.8L176.5,219.7M158.2,184.2L163.8,175.5M132.2,227.3L135.2,239.4M124.5,270.6L130.1,281.2M115.0,272.3L124.5,270.6M118.5,249.7L110.0,260.3M128.1,250.2L132.4,260.2M149.2,272.2L140.2,282.9M113.1,238.5L118.5,249.7M135.2,239.4L128.1,250.2M143.7,260.2L149.2,272.2M110.0,260.3L115.0,272.3M111.8,293.1L122.5,293.6M132.4,260.2L124.5,270.6M132.4,260.2L143.7,260.2M115.0,272.3L105.4,283.6M105.4,283.6L111.8,293.1M122.2,229.6L113.1,238.5M118.5,249.7L128.1,250.2M122.2,229.6L132.2,227.3M130.1,281.2L140.2,282.9M122.5,293.6L120.7,305.1M111.8,293.1L105.5,305.1M105.4,283.6L98.6,292.3M214.9,405.1L199.9,407.5M199.9,407.5L194.8,397.8M194.8,397.8L180.7,397.9M180.7,397.9L179.2,387.9M179.2,387.9L168.5,383.0M168.5,383.0L171.1,370.1M171.1,370.1L162.8,360.9M274.6,468.4L262.4,459.4M280.7,445.3L265.6,447.4M289.1,454.3L280.7,445.3M265.6,447.4L262.4,459.4M287.1,466.0L274.6,468.4M265.6,447.4L257.3,438.8M287.1,466.0L295.9,473.6M78.6,407.1L89.7,398.1M89.7,398.1L85.3,385.4M63.8,388.4L74.9,381.4M74.9,381.4L85.3,385.4M51.8,384.6L63.8,388.4M67.4,400.8L63.8,388.4M51.8,384.6L48.9,371.9M67.4,400.8L78.6,407.1M74.9,381.4L71.5,367.7M48.9,371.9L57.6,365.5M89.7,398.1L99.3,403.4M67.4,400.8L64.7,413.4M111.0,186.3L106.8,174.6M106.8,174.6L112.9,164.2M112.9,164.2L104.5,156.2M241.6,370.9L252.7,363.6M252.7,363.6L262.2,371.2M262.2,371.2L274.4,366.5M274.4,366.5L283.0,379.2M283.0,379.2L298.6,375.9M108.7,375.4L117.9,380.1M66.4,366.5L68.3,376.7M116.7,356.3L107.7,363.8M68.3,376.7L79.3,382.1M88.5,362.5L88.4,375.5M108.7,375.4L99.3,380.7M88.4,375.5L79.3,382.1M95.6,356.6L88.5,362.5M76.1,359.5L88.5,362.5M116.7,356.3L127.9,360.3M127.9,360.3L127.8,372.3M76.1,359.5L66.4,366.5M127.8,372.3L117.9,380.1M88.4,375.5L99.3,380.7M95.6,356.6L107.7,363.8M107.7,363.8L108.7,375.4M117.9,380.1L128.1,384.6M68.3,376.7L57.9,379.9M116.7,356.3L125.6,350.0M79.3,382.1L69.8,388.5M99.3,380.7L99.3,391.9M114.2,285.9L116.8,298.9M150.8,199.0L143.8,210.7M102.7,260.2L95.6,270.7M132.4,185.0L126.6,196.6M98.0,248.2L102.7,260.2M133.2,277.0L137.2,290.6M108.8,217.3L102.0,225.6M102.0,225.6L105.4,237.6M117.8,240.7L105.4,237.6M126.6,196.6L131.0,209.2M123.4,251.6L116.2,263.8M114.2,285.9L100.2,283.3M146.7,221.1L141.0,231.6M143.8,210.7L146.7,221.1M137.2,290.6L129.8,299.8M129.8,299.8L116.8,298.9M121.7,219.7L108.8,217.3M126.3,230.9L117.8,240.7M122.1,275.7L114.2,285.9M121.7,219.7L126.3,230.9M105.4,237.6L98.0,248.2M116.2,263.8L102.7,260.2M143.8,210.7L131.0,209.2M116.2,263.8L122.1,275.7M133.2,277.0L122.1,275.7M141.0,231.6L126.3,230.9M117.8,240.7L123.4,251.6M95.6,270.7L100.2,283.3M131.0,209.2L121.7,219.7M133.2,277.0L136.9,288.4M137.2,290.6L141.8,300.4M108.8,217.3L104.5,206.1M255.4,302.5L256.9,314.9M252.2,334.1L262.4,337.7M249.2,323.7L252.2,334.1M262.4,337.7L264.6,349.2M256.9,314.9L249.2,323.7M268.8,315.9L272.4,329.8M272.4,329.8L262.4,337.7M237.2,319.2L229.0,327.7M274.6,295.6L276.5,307.5M245.2,356.4L255.3,359.5M229.3,342.3L243.1,343.1M263.0,291.8L274.6,295.6M243.1,343.1L245.2,356.4M264.6,349.2L255.3,359.5M256.9,314.9L268.8,315.9M229.0,327.7L229.3,342.3M252.2,334.1L243.1,343.1M255.4,302.5L255.2,290.2M272.4,329.8L281.7,330.3M237.2,319.2L227.3,316.1M245.2,356.4L240.3,367.2M255.3,359.5L255.8,370.6M263.0,291.8L267.1,281.2M114.0,398.2L101.5,394.0M140.0,405.6L135.7,391.7M140.7,371.9L130.4,367.9M144.6,384.6L140.7,371.9M110.0,419.5L96.1,417.1M143.9,428.8L153.3,419.5M100.2,384.5L108.1,375.1M133.1,426.2L130.4,414.5M114.0,398.2L122.5,389.7M135.7,391.7L144.6,384.6M122.5,389.7L119.1,376.5M119.1,376.5L130.4,367.9M96.1,417.1L92.5,404.1M92.5,404.1L101.5,394.0M118.9,411.6L114.0,398.2M153.3,419.5L149.8,408.0M155.2,386.6L144.6,384.6M130.4,414.5L140.0,405.6M130.4,414.5L118.9,411.6M149.8,408.0L160.3,398.2M160.3,398.2L155.2,386.6M110.0,419.5L118.9,411.6M119.1,376.5L108.1,375.1M143.9,428.8L133.1,426.2M101.5,394.0L100.2,384.5M135.7,391.7L122.5,389.7M130.4,367.9L129.8,358.1M96.1,417.1L86.7,421.3M143.9,428.8L150.7,437.8M108.1,375.1L101.1,366.0M155.2,386.6L167.1,383.1M160.3,398.2L171.1,399.2M237.0,241.7L246.5,230.4M246.5,230.4L256.7,231.0M256.7,231.0L263.0,225.3M202.0,262.3L209.2,255.6M185.5,228.6L194.1,220.1M185.6,281.0L199.3,283.7M183.0,247.9L192.1,240.6M219.4,258.1L224.7,270.6M205.3,224.9L210.0,234.5M202.0,262.3L206.9,275.7M206.9,275.7L218.6,280.0M192.1,240.6L203.2,244.6M203.2,244.6L209.2,255.6M189.4,259.0L202.0,262.3M203.2,244.6L210.0,234.5M185.5,228.6L192.1,240.6M182.6,267.7L185.6,281.0M182.6,267.7L189.4,259.0M218.6,280.0L224.7,270.6M209.2,255.6L219.4,258.1M194.1,220.1L205.3,224.9M199.3,283.7L206.9,275.7M194.1,220.1L191.5,209.6M183.0,247.9L173.7,243.8M205.3,224.9L207.3,214.0M214.4,244.8L224.7,238.2M193.5,258.8L205.4,264.7M182.3,264.2L193.5,258.8M204.1,226.9L212.4,219.7M169.1,247.6L170.0,259.3M182.3,239.5L192.1,246.7M205.4,264.7L204.0,276.8M212.4,219.7L226.1,224.3M190.7,221.3L204.1,226.9M179.9,226.8L182.3,239.5M170.0,259.3L182.3,264.2M194.0,283.6L204.0,276.8M192.1,246.7L193.5,258.8M192.1,246.7L203.0,237.8M179.9,226.8L190.7,221.3M182.0,277.7L194.0,283.6M204.1,226.9L203.0,237.8M169.1,247.6L182.3,239.5M205.4,264.7L214.9,257.3M224.7,238.2L236.1,234.4M170.0,259.3L160.2,263.3M226.1,224.3L233.8,218.2M190.7,221.3L189.3,208.8M179.9,226.8L173.8,217.6M251.2,418.7L258.9,426.4M235.5,416.3L224.2,420.4M225.1,454.0L230.2,462.8M255.5,440.4L246.1,446.2M224.2,420.4L222.3,433.5M243.1,423.0L237.1,437.1M240.7,456.2L230.2,462.8M227.8,442.1L225.1,454.0M235.5,416.3L243.1,423.0M237.1,437.1L227.8,442.1M222.3,433.5L227.8,442.1M237.1,437.1L246.1,446.2M258.9,426.4L255.5,440.4M251.2,418.7L243.1,423.0M246.1,446.2L240.7,456.2M251.2,418.7L259.0,410.4M240.7,456.2L242.8,468.3M229.8,422.8L218.2,424.7M218.2,424.7L206.5,418.0M206.5,418.0L197.1,424.4M197.1,424.4L184.1,419.0M184.1,419.0L172.3,419.6M172.3,419.6L169.4,410.2M169.4,410.2L156.6,409.2M275.9,317.7L282.5,329.2M282.5,329.2L274.6,338.9M274.6,338.9L285.1,349.0M285.1,349.0L280.8,360.7M280.8,360.7L293.6,364.8M293.6,364.8L296.5,375.0M229.8,261.6L226.8,270.5M226.8,270.5L232.7,282.1M248.0,269.7L241.2,282.3M257.6,289.1L247.4,289.9M241.2,282.3L232.7,282.1M257.5,268.3L248.0,269.7M243.1,259.8L248.0,269.7M257.5,268.3L262.7,279.5M243.1,259.8L229.8,261.6M241.2,282.3L247.4,289.9M262.7,279.5L257.6,289.1M226.8,270.5L216.2,269.4M232.7,282.1L222.2,285.6M243.1,259.8L239.8,249.6M262.6,271.1L269.9,282.6M228.9,243.4L222.3,254.4M278.9,258.5L266.5,258.6M222.3,254.4L231.2,263.8M247.1,250.7L241.7,261.9M262.6,271.1L249.2,273.4M241.7,261.9L231.2,263.8M260.5,248.6L247.1,250.7M240.4,241.4L247.1,250.7M278.9,258.5L287.7,267.4M287.7,267.4L281.1,280.0M281.1,280.0L269.9,282.6M241.7,261.9L249.2,273.4M260.5,248.6L266.5,258.6M266.5,258.6L262.6,271.1M269.9,282.6L277.1,290.3M240.4,241.4L233.0,231.9M236.1,406.3L226.9,400.7M230.9,365.0L219.9,371.0M249.8,351.2L241.5,345.5M259.8,344.2L249.8,351.2M237.4,381.9L227.7,388.2M243.2,397.2L246.5,387.4M265.1,361.2L268.5,350.3M213.3,366.3L213.7,354.8M255.9,368.4L249.1,363.1M230.9,365.0L231.2,354.2M231.2,354.2L223.0,347.6M218.4,382.8L219.9,371.0M246.5,387.4L237.4,381.9M255.5,380.0L255.9,368.4M238.5,370.8L230.9,365.0M268.5,350.3L259.8,344.2M226.9,400.7L227.7,388.2M249.1,363.1L249.8,351.2M249.1,363.1L238.5,370.8M255.5,380.0L246.5,387.4M243.2,397.2L236.1,406.3M223.0,347.6L213.7,354.8M265.1,361.2L255.9,368.4M219.9,371.0L213.3,366.3M241.5,345.5L231.2,354.2M236.1,406.3L233.7,415.6M241.5,345.5L242.1,336.1M268.5,350.3L276.1,344.5M213.3,366.3L203.2,364.9M213.7,354.8L205.9,349.8M157.7,434.2L167.8,428.2M167.8,428.2L164.6,414.7M145.3,431.0L141.6,418.0M126.7,399.9L135.9,392.9M151.6,409.6L149.4,397.5M157.7,434.2L145.3,431.0M141.6,418.0L151.6,409.6M164.6,414.7L151.6,409.6M141.6,418.0L129.6,414.3M149.4,397.5L135.9,392.9M129.6,414.3L126.7,399.9M124.5,167.7L137.4,170.2M100.7,165.5L103.0,175.6M163.4,152.5L157.2,162.7M137.8,148.2L143.9,161.2M143.9,161.2L137.4,170.2M120.3,156.2L124.5,167.7M143.9,161.2L157.2,162.7M107.5,154.9L120.3,156.2M103.0,175.6L115.7,177.0M100.7,165.5L89.0,168.3M115.7,177.0L111.0,186.4M146.4,255.3L153.7,264.1M184.5,254.4L192.0,264.3M134.9,235.8L127.6,246.8M167.3,244.7L171.5,255.6M183.8,272.6L172.5,273.3M153.8,226.6L147.2,236.0M146.4,255.3L134.2,255.8M171.5,255.6L166.0,265.4M166.0,265.4L153.7,264.1M172.0,235.9L167.3,244.7M165.7,224.3L153.8,226.6M153.4,244.7L146.4,255.3M166.0,265.4L172.5,273.3M184.5,254.4L171.5,255.6M147.2,236.0L134.9,235.8M147.2,236.0L153.4,244.7M165.7,224.3L172.0,235.9M167.3,244.7L153.4,244.7M192.0,264.3L183.8,272.6M127.6,246.8L134.2,255.8M153.7,264.1L147.3,275.0M172.0,235.9L180.3,226.0M165.7,224.3L169.7,214.8M76.0,161.8L68.0,163.1M66.3,181.6L61.9,173.1M68.0,163.1L64.3,153.1M80.6,169.5L76.0,161.8M82.5,150.8L76.0,161.8M80.6,169.5L75.3,182.4M68.0,163.1L61.9,173.1M75.3,182.4L66.3,181.6M55.7,473.0L52.3,487.1M62.3,451.8L51.3,454.9M66.3,440.3L62.3,451.8M74.7,477.3L72.2,490.2M42.1,489.2L31.7,481.8M55.7,473.0L48.6,467.0M51.3,454.9L42.1,446.4M48.6,467.0L34.3,470.4M72.2,490.2L59.8,493.1M59.8,493.1L52.3,487.1M68.8,470.4L55.7,473.0M45.1,437.0L42.1,446.4M70.9,460.6L62.3,451.8M70.9,460.6L68.8,470.4M66.3,440.3L56.3,432.0M56.3,432.0L45.1,437.0M34.3,470.4L31.7,481.8M74.7,477.3L68.8,470.4M52.3,487.1L42.1,489.2M51.3,454.9L48.6,467.0M66.3,440.3L69.7,430.1M45.1,437.0L42.4,425.9M80.7,452.5L77.9,463.9M77.9,463.9L68.6,467.5M68.6,467.5L65.0,476.0M221.9,455.1L220.1,467.5M200.0,469.0L208.9,474.8M201.8,456.4L200.0,469.0M208.9,474.8L220.1,467.5M213.0,449.2L221.9,455.1M220.1,467.5L229.8,473.1M208.9,474.8L209.6,486.3M113.5,165.6L106.3,176.3M85.4,165.5L90.6,178.2M106.3,176.3L111.6,187.1M133.1,175.4L125.8,186.3M146.6,197.3L134.4,197.9M125.8,186.3L111.6,187.1M145.9,173.8L133.1,175.4M125.6,164.4L133.1,175.4M145.9,173.8L153.2,187.0M106.3,176.3L90.6,178.2M125.8,186.3L134.4,197.9M105.9,154.6L113.5,165.6M153.2,187.0L146.6,197.3M85.4,165.5L72.7,162.4M146.6,197.3L156.6,205.4M145.9,173.8L159.4,174.5M151.4,464.0L142.9,466.7M174.2,457.4L168.0,447.8M164.1,425.4L153.6,430.6M184.8,452.1L174.2,457.4M172.3,434.3L164.1,425.4M135.3,457.3L138.8,444.2M151.4,464.0L157.4,450.2M168.0,447.8L172.3,434.3M157.4,450.2L149.9,442.5M149.9,442.5L153.6,430.6M158.4,470.1L151.4,464.0M181.1,433.2L172.3,434.3M168.7,467.8L174.2,457.4M184.8,452.1L189.5,441.7M189.5,441.7L181.1,433.2M149.9,442.5L138.8,444.2M142.9,466.7L135.3,457.3M168.0,447.8L157.4,450.2M253.9,446.4L244.1,451.8M244.1,451.8L233.6,447.9M233.6,447.9L226.3,452.5M226.3,452.5L216.2,451.0M216.2,451.0L205.7,457.0M205.7,457.0L195.8,451.4M195.8,451.4L185.4,458.1M210.4,385.2L204.1,376.5M226.4,424.5L213.7,427.7M189.7,406.8L178.3,409.3M195.7,398.5L189.7,406.8M172.2,400.3L161.6,399.3M210.4,385.2L205.0,397.6M211.5,407.1L205.0,397.6M204.1,376.5L193.2,377.3M206.3,417.5L197.2,416.2M178.3,409.3L172.2,400.3M178.4,389.9L171.3,378.4M223.2,405.7L211.5,407.1M213.7,427.7L206.3,417.5M190.9,428.5L181.0,428.8M205.0,397.6L195.7,398.5M178.4,389.9L172.2,400.3M197.2,416.2L189.7,406.8M159.1,379.5L155.9,389.5M197.2,416.2L190.9,428.5M195.7,398.5L189.9,387.0M171.3,378.4L159.1,379.5M189.9,387.0L178.4,389.9M229.6,413.8L223.2,405.7M211.5,407.1L206.3,417.5M229.6,413.8L226.4,424.5M178.3,409.3L173.9,418.8M193.2,377.3L189.9,387.0M161.6,399.3L155.9,389.5M204.1,376.5L208.7,367.6M226.4,424.5L233.4,431.4M161.6,399.3L151.6,399.2M171.3,378.4L164.2,371.8M155.9,389.5L145.7,387.3M259.6,407.3L247.5,410.8M243.1,386.0L241.1,399.9M255.8,385.7L243.1,386.0M255.8,385.7L264.1,394.6M241.1,399.9L247.5,410.8M264.1,394.6L259.6,407.3M259.6,407.3L268.2,417.7M243.1,386.0L236.2,377.4M241.1,399.9L228.9,401.9M85.3,199.7L80.3,188.2M80.3,188.2L83.3,181.6M83.3,181.6L74.0,175.1M74.0,175.1L77.4,166.9M77.4,166.9L70.6,159.2M211.9,336.8L217.0,326.2M217.0,326.2L210.2,317.8M194.0,327.4L201.0,315.4M185.2,305.9L195.3,306.0M201.0,315.4L210.2,317.8M184.9,327.5L194.0,327.4M200.1,337.6L194.0,327.4M184.9,327.5L177.8,316.4M200.1,337.6L211.9,336.8M201.0,315.4L195.3,306.0M177.8,316.4L185.2,305.9M211.9,336.8L217.2,344.3M210.2,317.8L219.4,312.8M185.2,305.9L177.5,299.6M195.3,306.0L192.8,296.4M184.9,327.5L175.4,331.1M137.2,287.4L131.9,298.0M112.6,289.0L118.9,299.3M121.7,318.8L134.4,316.7M117.6,281.1L112.6,289.0M116.7,308.2L121.7,318.8M131.9,298.0L140.0,306.6M140.0,306.6L134.4,316.7M117.6,281.1L128.3,277.4M118.9,299.3L131.9,298.0M128.3,277.4L137.2,287.4M128.3,277.4L130.7,268.7M142.3,393.7L157.1,396.8M159.9,409.4L173.6,410.1M119.0,392.4L123.0,403.9M119.6,426.2L131.9,428.8M114.6,416.0L119.6,426.2M147.5,371.1L160.2,374.2M142.3,393.7L136.4,406.9M123.0,403.9L114.6,416.0M136.4,406.9L141.6,417.9M141.6,417.9L131.9,428.8M160.2,374.2L163.2,385.9M163.2,385.9L157.1,396.8M138.5,381.4L142.3,393.7M182.4,399.5L173.6,410.1M163.2,385.9L177.5,387.1M126.7,380.9L119.0,392.4M126.7,380.9L138.5,381.4M177.5,387.1L182.4,399.5M157.1,396.8L159.9,409.4M123.0,403.9L136.4,406.9M159.9,409.4L170.9,414.7M182.4,399.5L193.1,399.7M126.7,380.9L117.4,373.1M179.4,179.9L173.1,190.4M143.9,158.1L139.8,169.4M162.9,190.1L156.6,180.5M173.7,169.8L161.4,169.3M143.8,179.8L139.8,169.4M156.7,158.8L143.9,158.1M181.1,159.3L173.7,169.8M161.4,169.3L156.7,158.8M161.5,149.6L156.7,158.8M161.4,169.3L156.6,180.5M173.1,190.4L162.9,190.1M179.4,179.9L173.7,169.8M156.6,180.5L143.8,179.8M181.1,159.3L189.1,154.7M143.8,179.8L135.9,184.8M182.4,445.6L177.2,455.6M193.4,445.5L182.4,445.6M195.8,467.7L181.8,467.0M218.7,495.6L214.0,482.9M232.4,474.3L219.6,473.4M199.4,459.8L195.8,467.7M219.6,473.4L212.4,459.5M181.8,467.0L177.2,455.6M212.4,459.5L199.4,459.8M238.1,487.0L232.4,474.3M214.0,482.9L201.6,479.4M238.1,487.0L233.0,497.3M219.6,473.4L214.0,482.9M233.0,497.3L218.7,495.6M199.4,459.8L193.4,445.5M193.4,445.5L188.5,435.5M181.8,467.0L171.1,464.7M218.7,495.6L225.1,505.5M212.4,459.5L218.2,451.4M109.1,232.8L108.9,220.8M108.9,220.8L96.9,213.2M86.3,231.7L87.1,218.7M62.9,217.5L74.8,210.3M100.1,198.8L87.4,191.7M87.1,218.7L96.9,213.2M96.9,239.6L86.3,231.7M96.9,213.2L100.1,198.8M73.2,237.4L86.3,231.7M74.8,210.3L76.6,197.9M76.6,197.9L87.4,191.7M73.2,237.4L61.6,231.1M96.9,239.6L109.1,232.8M87.1,218.7L74.8,210.3M61.6,231.1L62.9,217.5M109.1,232.8L118.2,241.0M100.1,198.8L105.5,189.7M76.6,197.9L70.5,187.3M61.6,231.1L51.5,236.4M148.1,415.8L161.1,416.1M163.9,434.3L170.0,424.2M150.7,436.5L163.9,434.3M150.7,436.5L140.0,427.7M170.0,424.2L161.1,416.1M140.0,427.7L148.1,415.8M170.0,424.2L181.2,423.7M116.4,381.2L124.2,374.3M103.4,367.4L105.2,380.0M116.4,381.2L118.0,395.7M96.3,401.1L107.5,403.5M93.8,387.8L96.3,401.1M110.7,356.9L121.6,360.4M93.8,387.8L105.2,380.0M121.6,360.4L124.2,374.3M107.5,403.5L118.0,395.7M105.2,380.0L116.4,381.2M93.8,387.8L84.7,393.7M249.4,385.4L237.4,395.7M237.4,395.7L237.8,409.0M276.1,423.9L263.5,432.8M240.2,433.4L241.9,447.9M273.3,412.0L276.1,423.9M252.3,427.5L240.2,433.4M259.9,392.2L249.4,385.4M298.5,408.6L285.7,404.1M299.2,422.6L287.0,432.0M276.2,452.0L265.1,447.4M263.5,432.8L252.3,427.5M265.1,447.4L253.6,452.7M253.6,452.7L241.9,447.9M250.7,414.7L237.8,409.0M288.5,443.1L276.2,452.0M285.7,404.1L273.3,412.0M250.7,414.7L252.3,427.5M287.0,432.0L276.1,423.9M226.6,415.7L229.6,429.8M287.0,432.0L288.5,443.1M273.3,412.0L261.6,407.2M261.6,407.2L250.7,414.7M298.5,408.6L299.2,422.6M263.5,432.8L265.1,447.4M259.9,392.2L261.6,407.2M240.2,433.4L229.6,429.8M259.9,392.2L260.7,380.3M298.5,408.6L309.0,405.7M285.7,404.1L294.9,396.5M253.6,452.7L251.4,465.6M288.5,443.1L297.9,451.9M164.5,434.7L157.3,444.1M126.7,459.1L121.6,468.8M102.8,482.1L112.5,492.0M119.5,450.1L126.7,459.1M110.6,472.2L102.8,482.1M138.9,436.6L125.2,439.4M142.5,478.8L129.2,479.7M121.6,468.8L110.6,472.2M129.2,479.7L124.6,491.0M124.6,491.0L112.5,492.0M142.0,426.5L138.9,436.6M157.3,444.1L144.1,445.5M147.6,468.1L142.5,478.8M125.2,439.4L119.5,450.1M103.1,461.8L110.6,472.2M138.7,458.7L126.7,459.1M138.7,458.7L147.6,468.1M119.5,450.1L105.8,450.5M105.8,450.5L103.1,461.8M155.4,424.4L142.0,426.5M138.9,436.6L144.1,445.5M155.4,424.4L164.5,434.7M121.6,468.8L129.2,479.7M164.5,434.7L172.2,427.4M142.5,478.8L147.4,488.2M142.0,426.5L147.0,415.3M147.6,468.1L157.2,473.0M154.9,329.6L150.9,319.2M127.0,325.7L136.2,316.4M119.9,298.1L132.2,301.8M136.2,316.4L150.9,319.2M115.5,320.1L127.0,325.7M133.5,335.9L127.0,325.7M115.5,320.1L111.6,308.6M133.5,335.9L146.5,339.3M136.2,316.4L132.2,301.8M111.6,308.6L119.9,298.1M146.5,339.3L152.4,350.3M115.5,320.1L102.1,322.2M133.5,335.9L132.0,348.5M69.2,426.8L56.6,428.3M87.2,409.4L92.5,399.5M61.7,383.5L48.4,384.0M92.5,399.5L82.3,389.9M74.3,413.3L66.4,404.3M45.6,396.3L48.4,384.0M70.2,392.2L61.7,383.5M87.2,409.4L74.3,413.3M66.4,404.3L70.2,392.2M82.3,389.9L70.2,392.2M66.4,404.3L53.8,407.6M56.6,428.3L48.9,420.0M92.5,399.5L103.0,395.9M61.7,383.5L59.6,371.0M45.6,396.3L33.2,393.6M304.9,363.7L306.2,350.9M259.1,423.3L248.1,415.0M248.3,376.6L238.6,383.4M271.4,366.7L261.4,358.2M282.8,361.9L271.4,366.7M260.0,396.8L247.8,404.3M304.9,363.7L294.9,368.7M269.9,419.6L270.3,406.8M293.8,380.5L294.9,368.7M282.3,387.8L272.8,379.7M248.3,376.6L250.2,365.8M247.8,404.3L238.8,395.3M238.8,395.3L238.6,383.4M270.3,406.8L260.0,396.8M281.4,400.4L282.3,387.8M260.9,384.7L248.3,376.6M294.9,368.7L282.8,361.9M248.1,415.0L247.8,404.3M272.8,379.7L271.4,366.7M272.8,379.7L260.9,384.7M282.8,361.9L283.2,348.9M281.4,400.4L270.3,406.8M269.9,419.6L259.1,423.3M260.0,396.8L260.9,384.7M293.8,380.5L282.3,387.8M261.4,358.2L250.2,365.8M293.7,342.0L283.2,348.9M248.1,415.0L242.3,425.9M238.6,383.4L226.7,383.4M250.2,365.8L240.6,357.0M238.8,395.3L227.5,400.4M189.6,384.9L178.1,380.5M141.4,423.1L139.1,410.4M200.1,379.1L198.1,365.7M118.7,425.8L116.5,414.2M198.1,365.7L186.6,361.5M157.2,383.2L156.6,369.7M168.1,389.1L157.2,383.2M166.3,363.6L164.9,349.7M189.6,384.9L200.1,379.1M116.5,414.2L126.8,407.2M130.4,429.5L118.7,425.8M149.1,404.4L146.6,389.6M135.4,374.1L143.5,365.9M156.6,369.7L166.3,363.6M178.9,368.1L186.6,361.5M126.8,407.2L125.2,394.5M139.1,410.4L149.1,404.4M136.7,385.8L135.4,374.1M178.9,368.1L166.3,363.6M146.6,389.6L157.2,383.2M187.2,348.4L174.3,342.8M146.6,389.6L136.7,385.8M168.1,389.1L178.1,380.5M139.1,410.4L126.8,407.2M178.1,380.5L178.9,368.1M125.2,394.5L136.7,385.8M130.4,429.5L141.4,423.1M156.6,369.7L143.5,365.9M186.6,361.5L187.2,348.4M164.9,349.7L174.3,342.8M200.1,379.1L212.1,377.0M118.7,425.8L110.7,434.2M116.5,414.2L107.7,420.0M164.9,349.7L166.9,340.0M84.0,249.3L73.6,243.5M78.1,223.7L69.5,231.9M91.3,227.9L78.1,223.7M91.3,227.9L92.0,240.1M69.5,231.9L73.6,243.5M92.0,240.1L84.0,249.3M84.0,249.3L88.2,259.9M73.6,243.5L66.9,251.2M78.1,223.7L75.8,212.7M69.5,231.9L60.7,227.6M258.7,451.7L263.3,464.0M223.6,446.4L229.2,457.3M217.7,488.3L221.9,498.3M241.9,471.2L255.3,473.8M247.5,451.0L240.7,460.7M221.1,468.2L223.6,477.7M240.3,492.8L232.6,500.7M205.6,453.9L209.0,466.2M229.2,457.3L221.1,468.2M235.2,479.6L240.3,492.8M263.3,464.0L255.3,473.8M223.6,477.7L217.7,488.3M223.6,477.7L235.2,479.6M247.5,451.0L258.7,451.7M241.9,471.2L235.2,479.6M209.0,466.2L221.1,468.2M214.1,444.2L223.6,446.4M221.9,498.3L232.6,500.7M223.6,446.4L221.1,436.5M169.2,272.8L178.1,282.8M137.7,265.6L150.3,262.7M158.6,272.2L169.2,272.8M140.5,287.0L151.9,284.3M137.7,265.6L131.9,276.0M158.3,296.1L172.9,293.0M150.3,262.7L158.6,272.2M114.4,265.7L121.7,276.7M118.8,254.9L114.4,265.7M131.9,276.0L140.5,287.0M118.8,254.9L130.2,254.7M178.1,282.8L172.9,293.0M121.7,276.7L131.9,276.0M151.9,284.3L158.3,296.1M130.2,254.7L137.7,265.6M178.1,282.8L187.9,284.9M172.9,293.0L180.9,300.2M114.4,265.7L103.1,264.4M121.7,276.7L109.9,278.3M77.4,181.5L75.0,171.8M75.0,171.8L85.3,167.3M85.3,167.3L82.5,161.2M82.5,161.2L94.0,155.0M40.5,253.1L51.0,259.8M82.7,259.2L70.0,264.0M40.5,253.1L31.6,254.7M63.5,242.6L61.7,256.0M50.8,271.4L59.4,279.6M61.7,256.0L51.0,259.8M72.7,239.8L63.5,242.6M51.0,259.8L50.8,271.4M70.0,264.0L68.1,275.3M68.1,275.3L59.4,279.6M30.2,268.5L38.4,277.2M72.7,239.8L82.0,247.0M61.7,256.0L70.0,264.0M31.6,254.7L30.2,268.5M82.0,247.0L82.7,259.2M50.8,271.4L38.4,277.2M82.7,259.2L92.2,259.2M63.5,242.6L66.6,233.0M38.4,277.2L30.6,283.2M167.4,415.3L173.6,424.8M168.4,435.5L157.0,437.2M152.8,428.6L157.0,437.2M167.4,415.3L157.5,415.2M158.1,395.4L152.4,406.3M173.6,424.8L168.4,435.5M168.6,394.1L158.1,395.4M157.5,415.2L152.8,428.6M168.6,394.1L174.6,401.5M152.4,406.3L157.5,415.2M174.6,401.5L167.4,415.3M157.0,437.2L153.5,448.1M152.8,428.6L144.1,436.0M152.4,406.3L145.1,400.4M174.6,401.5L180.7,394.1M265.0,451.2L267.9,461.2M302.7,417.8L292.0,425.4M260.3,429.2L249.8,436.7M256.6,416.8L260.3,429.2M277.3,412.0L266.7,410.2M281.3,424.3L271.5,432.5M265.0,451.2L252.1,446.7M306.7,399.2L297.7,405.2M306.5,388.4L306.7,399.2M287.0,456.8L279.9,464.5M287.7,405.0L277.3,412.0M279.9,464.5L267.9,461.2M292.0,425.4L281.3,424.3M272.9,441.4L265.0,451.2M286.1,391.8L287.7,405.0M293.7,437.3L286.0,445.6M266.7,410.2L256.6,416.8M271.5,432.5L260.3,429.2M306.5,388.4L293.6,384.3M271.5,432.5L272.9,441.4M292.0,425.4L293.7,437.3M286.0,445.6L272.9,441.4M297.7,405.2L287.7,405.0M277.3,412.0L281.3,424.3M297.7,405.2L302.7,417.8M249.8,436.7L252.1,446.7M293.6,384.3L286.1,391.8M249.8,436.7L240.5,441.2M293.7,437.3L302.7,443.1M93.9,267.2L84.5,275.5M70.3,257.4L72.8,268.8M64.1,286.9L73.9,291.5M72.8,268.8L61.4,276.0M81.5,249.7L70.3,257.4M84.5,275.5L86.6,285.4M86.6,285.4L73.9,291.5M81.5,249.7L93.3,254.4M72.8,268.8L84.5,275.5M93.3,254.4L93.9,267.2M93.9,267.2L105.2,264.6M109.3,457.9L99.7,453.8M105.0,433.5L97.8,441.6M116.3,438.1L105.0,433.5M116.3,438.1L118.8,447.9M97.8,441.6L99.7,453.8M118.8,447.9L109.3,457.9M109.3,457.9L112.9,467.8M105.0,433.5L103.4,422.9M116.3,438.1L125.2,430.0M166.2,309.8L176.5,303.7M166.2,309.8L163.4,320.2M144.4,318.9L154.1,325.3M144.2,308.7L144.4,318.9M156.9,290.9L168.9,285.4M168.9,285.4L178.0,291.6M144.2,308.7L156.5,303.4M178.0,291.6L176.5,303.7M154.1,325.3L163.4,320.2M156.5,303.4L166.2,309.8M144.4,318.9L134.9,327.0M168.9,285.4L172.8,275.8M274.7,434.9L263.2,445.5M292.0,413.7L279.2,411.4M290.5,450.9L280.5,461.8M241.2,452.8L226.6,448.5M309.3,429.8L296.9,428.3M270.6,422.4L255.1,418.7M280.5,461.8L267.4,458.7M267.4,458.7L263.2,445.5M305.0,455.1L290.5,450.9M315.7,444.8L309.3,429.8M288.6,437.2L274.7,434.9M233.5,426.2L224.0,435.4M296.9,428.3L292.0,413.7M296.9,428.3L288.6,437.2M315.7,444.8L305.0,455.1M290.5,450.9L288.6,437.2M255.1,418.7L246.1,429.0M263.2,445.5L251.6,440.6M226.6,448.5L224.0,435.4M279.2,411.4L270.6,422.4M246.1,429.0L233.5,426.2M279.2,411.4L283.0,399.2M280.5,461.8L286.9,473.0M226.6,448.5L215.1,452.1M255.1,418.7L248.2,408.3M267.4,458.7L266.6,470.9M305.0,455.1L316.1,460.2M177.3,259.0L165.9,267.0M165.9,267.0L156.0,259.7M156.0,259.7L143.8,260.3M143.8,260.3L138.8,249.8M138.8,249.8L128.3,251.6M59.0,281.9L58.6,270.4M58.1,304.2L70.5,297.7M98.4,242.3L96.0,230.7M109.8,245.7L98.4,242.3M58.6,270.4L66.9,262.0M68.2,286.0L59.0,281.9M48.8,286.8L59.0,281.9M98.2,264.8L108.0,257.1M58.1,304.2L49.5,299.7M87.9,259.2L87.0,247.8M77.7,234.6L87.5,227.6M48.8,286.8L36.5,284.4M66.9,262.0L68.3,251.1M78.2,267.9L87.9,259.2M77.6,244.8L77.7,234.6M108.0,257.1L109.8,245.7M87.0,247.8L98.4,242.3M87.0,247.8L77.6,244.8M70.5,297.7L68.2,286.0M49.5,299.7L48.8,286.8M78.2,267.9L66.9,262.0M58.6,270.4L46.7,266.2M68.3,251.1L77.6,244.8M98.2,264.8L87.9,259.2M36.5,284.4L36.2,271.8M68.2,286.0L78.0,277.9M36.2,271.8L46.7,266.2M96.0,230.7L87.5,227.6M70.5,297.7L68.4,306.9M96.0,230.7L103.5,222.2M108.0,257.1L120.1,256.1M87.5,227.6L90.0,216.5M36.2,271.8L25.8,273.7M141.2,184.8L150.3,181.4M100.3,183.6L109.6,193.2M131.5,221.9L141.6,219.9M112.8,215.2L124.0,210.4M91.1,186.2L100.3,183.6M104.6,204.2L112.8,215.2M145.7,204.9L141.6,219.9M150.3,181.4L158.2,191.0M141.2,184.8L137.6,195.7M85.3,163.5L81.7,175.9M165.4,165.0L173.6,176.1M124.0,210.4L131.5,221.9M120.8,175.9L117.9,189.4M94.7,160.2L104.7,169.3M109.6,193.2L104.6,204.2M117.9,189.4L126.5,198.1M126.5,198.1L124.0,210.4M114.4,167.4L120.8,175.9M158.2,191.0L171.1,187.7M154.7,170.2L150.3,181.4M81.7,175.9L91.1,186.2M145.7,204.9L157.5,204.6M104.7,169.3L100.3,183.6M104.7,169.3L114.4,167.4M154.7,170.2L165.4,165.0M173.6,176.1L171.1,187.7M126.5,198.1L137.6,195.7M85.3,163.5L94.7,160.2M158.2,191.0L157.5,204.6M109.6,193.2L117.9,189.4M137.6,195.7L145.7,204.9M141.2,184.8L150.1,181.0M141.6,219.9L147.6,229.2M94.7,160.2L87.6,152.9M162.2,366.2L160.4,376.4M140.8,377.2L150.1,382.0M140.9,366.3L140.8,377.2M140.9,366.3L152.0,358.4M150.1,382.0L160.4,376.4M152.0,358.4L162.2,366.2M162.2,366.2L171.3,360.1M150.1,382.0L150.7,393.3M152.0,358.4L152.3,348.8M118.5,366.9L110.4,377.6M118.5,366.9L132.2,365.2M132.1,389.7L140.1,400.0M110.4,377.6L117.2,389.0M132.2,365.2L139.0,377.5M140.1,400.0L152.3,401.1M151.0,376.3L157.4,389.6M177.9,376.1L171.3,387.8M158.9,364.7L151.0,376.3M139.0,377.5L151.0,376.3M158.9,364.7L171.5,363.9M139.0,377.5L132.1,389.7M157.4,389.6L171.3,387.8M117.2,389.0L132.1,389.7M171.5,363.9L177.9,376.1M163.9,204.9L169.2,194.9M150.4,205.9L163.9,204.9M150.5,184.2L163.2,185.3M124.8,165.7L132.3,174.2M114.3,186.5L128.2,185.6M145.6,194.9L150.5,184.2M163.2,185.3L169.2,194.9M133.4,195.8L145.6,194.9M108.9,175.7L114.3,186.5M132.3,174.2L145.0,173.4M145.0,173.4L150.5,184.2M108.9,175.7L114.6,164.4M128.2,185.6L132.3,174.2M114.6,164.4L124.8,165.7M145.6,194.9L150.4,205.9M150.4,205.9L157.4,215.2M114.3,186.5L104.1,187.0M227.1,308.5L224.6,320.9M204.6,314.6L214.1,322.0M218.7,342.6L230.4,338.2M214.1,322.0L211.1,332.3M207.8,303.1L204.6,314.6M211.1,332.3L218.7,342.6M224.6,320.9L232.2,326.8M232.2,326.8L230.4,338.2M207.8,303.1L220.4,300.7M214.1,322.0L224.6,320.9M220.4,300.7L227.1,308.5M230.4,338.2L235.0,348.0M220.4,300.7L219.9,289.9M221.6,212.3L220.4,223.3M220.4,223.3L209.0,227.4M209.0,227.4L210.0,234.8M210.0,234.8L201.6,241.4M201.6,241.4L204.8,253.9M197.8,273.5L185.7,268.2M185.3,306.5L174.8,312.8M153.4,311.9L152.4,323.6M186.5,293.3L185.3,306.5M164.4,307.0L153.4,311.9M197.8,273.5L197.9,288.1M206.8,294.2L197.9,288.1M185.7,268.2L176.3,272.9M205.9,307.6L197.2,315.0M184.0,332.2L174.7,326.9M174.8,312.8L164.4,307.0M174.7,326.9L162.7,332.9M162.7,332.9L152.4,323.6M194.3,327.5L184.0,332.2M197.9,288.1L186.5,293.3M163.9,293.3L164.4,307.0M197.2,315.0L194.3,327.5M186.5,293.3L174.9,287.1M174.9,287.1L163.9,293.3M206.8,294.2L205.9,307.6M174.8,312.8L174.7,326.9M176.3,272.9L174.9,287.1M184.0,332.2L185.4,345.2M194.3,327.5L201.5,337.6M163.9,293.3L154.4,286.0M263.1,418.8L251.9,421.1M273.3,424.9L269.2,438.5M263.1,418.8L273.3,424.9M228.7,446.0L239.0,452.3M210.0,439.1L216.2,446.9M245.8,430.0L234.6,432.9M228.7,446.0L216.2,446.9M227.2,425.7L213.0,428.7M254.0,439.6L249.7,450.4M245.8,430.0L254.0,439.6M251.9,421.1L245.8,430.0M234.6,432.9L228.7,446.0M249.7,450.4L239.0,452.3M263.1,418.8L273.5,411.2M269.2,438.5L279.1,437.9M239.0,452.3L236.0,463.1M50.8,322.1L61.9,315.9M72.2,333.7L72.5,321.6M82.4,304.3L70.4,297.7M72.5,321.6L83.0,316.3M83.0,316.3L82.4,304.3M61.9,315.9L61.7,304.8M61.7,304.8L70.4,297.7M61.8,339.8L50.9,335.3M72.5,321.6L61.9,315.9M50.9,335.3L50.8,322.1M72.2,333.7L76.0,344.0M61.7,304.8L56.6,294.3M50.9,335.3L43.9,342.2M117.8,447.8L126.0,438.7M136.7,483.7L142.8,473.4M118.2,473.1L124.0,459.5M177.4,462.3L186.1,452.3M144.0,448.5L139.6,437.1M124.0,459.5L138.4,462.4M123.0,483.4L118.2,473.1M103.9,470.5L118.2,473.1M164.8,440.1L178.2,438.3M103.9,470.5L95.9,459.6M155.9,497.0L162.5,484.6M138.4,462.4L144.0,448.5M142.8,473.4L157.9,473.1M157.7,449.4L164.8,440.1M126.0,438.7L139.6,437.1M165.3,463.6L177.4,462.3M165.3,463.6L157.7,449.4M142.8,473.4L138.4,462.4M124.0,459.5L117.8,447.8M144.0,448.5L157.7,449.4M141.6,495.5L155.9,497.0M162.5,484.6L157.9,473.1M95.9,459.6L103.2,449.5M141.6,495.5L136.7,483.7M123.0,483.4L136.7,483.7M103.2,449.5L117.8,447.8M186.1,452.3L178.2,438.3M126.0,438.7L118.5,427.2M177.4,462.3L190.3,463.0M186.1,452.3L197.2,448.5M139.6,437.1L137.1,425.9M155.9,497.0L161.2,508.3M141.6,495.5L143.3,508.7M250.7,451.7L247.0,463.8M231.6,481.9L241.5,491.0M240.9,440.8L250.7,451.7M234.2,468.6L231.6,481.9M258.0,424.8L246.3,427.6M266.5,433.2L263.4,448.1M268.9,470.1L257.1,474.0M241.5,491.0L237.0,502.8M247.0,463.8L234.2,468.6M257.1,474.0L253.4,487.5M253.4,487.5L241.5,491.0M225.6,457.8L212.2,463.2M274.2,457.7L268.9,470.1M216.1,497.4L225.9,508.2M246.3,427.6L240.9,440.8M225.6,457.8L234.2,468.6M263.4,448.1L250.7,451.7M210.7,476.0L219.9,483.9M263.4,448.1L274.2,457.7M219.9,483.9L216.1,497.4M258.0,424.8L266.5,433.2M237.0,502.8L225.9,508.2M247.0,463.8L257.1,474.0M212.2,463.2L210.7,476.0M231.6,481.9L219.9,483.9M258.0,424.8L262.3,413.5M266.5,433.2L274.8,424.9M268.9,470.1L281.8,471.4M237.0,502.8L236.5,515.6M225.6,457.8L215.4,452.7M274.2,457.7L284.7,453.4M210.7,476.0L198.4,477.9M72.3,293.3L62.1,303.7M47.9,289.0L50.7,300.2M44.2,322.7L57.6,326.6M50.7,300.2L40.3,311.5M56.6,277.5L47.9,289.0M40.3,311.5L44.2,322.7M62.1,303.7L66.8,315.2M66.8,315.2L57.6,326.6M56.6,277.5L71.7,282.8M50.7,300.2L62.1,303.7M71.7,282.8L72.3,293.3M47.9,289.0L41.9,279.0M40.3,311.5L29.7,315.7M56.6,277.5L58.5,267.1M120.7,433.7L110.1,432.4M113.0,411.1L104.0,420.4M83.5,432.0L89.9,442.9M104.0,420.4L93.1,420.0M125.7,410.6L113.0,411.1M93.1,420.0L83.5,432.0M110.1,432.4L101.1,443.2M101.1,443.2L89.9,442.9M125.7,410.6L129.0,424.7M104.0,420.4L110.1,432.4M113.0,411.1L115.7,398.5M83.5,432.0L72.8,432.9M89.9,442.9L79.9,451.2M125.7,410.6L133.5,403.4M94.0,190.4L80.9,186.4M87.9,247.6L90.0,261.2M57.3,175.2L60.3,187.5M80.9,172.0L67.5,169.1M85.2,223.8L76.0,231.0M65.7,156.2L67.5,169.1M84.2,209.5L85.2,223.8M109.9,245.4L112.0,258.8M70.3,194.5L60.3,187.5M67.5,169.1L57.3,175.2M94.0,190.4L92.8,202.4M106.3,208.1L92.8,202.4M80.9,186.4L70.3,194.5M108.1,219.7L95.8,228.0M87.9,247.6L75.8,242.7M112.0,258.8L100.6,265.5M56.3,151.6L44.1,158.4M100.6,265.5L90.0,261.2M97.9,241.9L87.9,247.6M65.7,156.2L56.3,151.6M80.9,172.0L80.9,186.4M95.8,228.0L85.2,223.8M95.8,228.0L97.9,241.9M84.2,209.5L73.6,205.3M57.3,175.2L45.8,171.1M109.9,245.4L97.9,241.9M106.3,208.1L108.1,219.7M44.1,158.4L45.8,171.1M76.0,231.0L75.8,242.7M70.3,194.5L73.6,205.3M112.0,258.8L117.2,268.4M108.1,219.7L117.3,226.1" stroke="#50506e" stroke-opacity="0.75" stroke-width="3.0" fill="none" stroke-linecap="round"/>
<path d="M112.3,189.6L108.3,200.6M110.4,225.2L118.3,234.6M118.3,234.6L128.7,232.7M142.0,197.3L147.2,207.5M151.6,232.2L160.7,228.6M131.1,199.9L142.0,197.3M144.0,219.8L151.6,232.2M114.7,211.4L110.4,225.2M112.3,189.6L122.6,187.2M108.3,200.6L114.7,211.4M165.0,195.9L161.0,208.0M147.2,207.5L144.0,219.8M161.0,208.0L167.2,217.8M167.2,217.8L160.7,228.6M133.3,222.5L128.7,232.7M158.2,184.2L165.0,195.9M122.6,187.2L131.1,199.9M133.3,222.5L144.0,219.8M145.8,185.4L142.0,197.3M131.1,199.9L125.7,211.5M128.7,232.7L136.2,243.0M125.7,211.5L133.3,222.5M147.2,207.5L161.0,208.0M114.7,211.4L125.7,211.5M160.7,228.6L170.8,236.0M167.2,217.8L176.5,219.7M158.2,184.2L163.8,175.5M132.2,227.3L135.2,239.4M124.5,270.6L130.1,281.2M115.0,272.3L124.5,270.6M118.5,249.7L110.0,260.3M128.1,250.2L132.4,260.2M149.2,272.2L140.2,282.9M113.1,238.5L118.5,249.7M135.2,239.4L128.1,250.2M143.7,260.2L149.2,272.2M110.0,260.3L115.0,272.3M111.8,293.1L122.5,293.6M132.4,260.2L124.5,270.6M132.4,260.2L143.7,260.2M115.0,272.3L105.4,283.6M105.4,283.6L111.8,293.1M122.2,229.6L113.1,238.5M118.5,249.7L128.1,250.2M122.2,229.6L132.2,227.3M130.1,281.2L140.2,282.9M122.5,293.6L120.7,305.1M111.8,293.1L105.5,305.1M105.4,283.6L98.6,292.3M214.9,405.1L199.9,407.5M199.9,407.5L194.8,397.8M194.8,397.8L180.7,397.9M180.7,397.9L179.2,387.9M179.2,387.9L168.5,383.0M168.5,383.0L171.1,370.1M171.1,370.1L162.8,360.9M274.6,468.4L262.4,459.4M280.7,445.3L265.6,447.4M289.1,454.3L280.7,445.3M265.6,447.4L262.4,459.4M287.1,466.0L274.6,468.4M265.6,447.4L257.3,438.8M287.1,466.0L295.9,473.6M78.6,407.1L89.7,398.1M89.7,398.1L85.3,385.4M63.8,388.4L74.9,381.4M74.9,381.4L85.3,385.4M51.8,384.6L63.8,388.4M67.4,400.8L63.8,388.4M51.8,384.6L48.9,371.9M67.4,400.8L78.6,407.1M74.9,381.4L71.5,367.7M48.9,371.9L57.6,365.5M89.7,398.1L99.3,403.4M67.4,400.8L64.7,413.4M111.0,186.3L106.8,174.6M106.8,174.6L112.9,164.2M112.9,164.2L104.5,156.2M241.6,370.9L252.7,363.6M252.7,363.6L262.2,371.2M262.2,371.2L274.4,366.5M274.4,366.5L283.0,379.2M283.0,379.2L298.6,375.9M108.7,375.4L117.9,380.1M66.4,366.5L68.3,376.7M116.7,356.3L107.7,363.8M68.3,376.7L79.3,382.1M88.5,362.5L88.4,375.5M108.7,375.4L99.3,380.7M88.4,375.5L79.3,382.1M95.6,356.6L88.5,362.5M76.1,359.5L88.5,362.5M116.7,356.3L127.9,360.3M127.9,360.3L127.8,372.3M76.1,359.5L66.4,366.5M127.8,372.3L117.9,380.1M88.4,375.5L99.3,380.7M95.6,356.6L107.7,363.8M107.7,363.8L108.7,375.4M117.9,380.1L128.1,384.6M68.3,376.7L57.9,379.9M116.7,356.3L125.6,350.0M79.3,382.1L69.8,388.5M99.3,380.7L99.3,391.9M114.2,285.9L116.8,298.9M150.8,199.0L143.8,210.7M102.7,260.2L95.6,270.7M132.4,185.0L126.6,196.6M98.0,248.2L102.7,260.2M133.2,277.0L137.2,290.6M108.8,217.3L102.0,225.6M102.0,225.6L105.4,237.6M117.8,240.7L105.4,237.6M126.6,196.6L131.0,209.2M123.4,251.6L116.2,263.8M114.2,285.9L100.2,283.3M146.7,221.1L141.0,231.6M143.8,210.7L146.7,221.1M137.2,290.6L129.8,299.8M129.8,299.8L116.8,298.9M121.7,219.7L108.8,217.3M126.3,230.9L117.8,240.7M122.1,275.7L114.2,285.9M121.7,219.7L126.3,230.9M105.4,237.6L98.0,248.2M116.2,263.8L102.7,260.2M143.8,210.7L131.0,209.2M116.2,263.8L122.1,275.7M133.2,277.0L122.1,275.7M141.0,231.6L126.3,230.9M117.8,240.7L123.4,251.6M95.6,270.7L100.2,283.3M131.0,209.2L121.7,219.7M133.2,277.0L136.9,288.4M137.2,290.6L141.8,300.4M108.8,217.3L104.5,206.1M255.4,302.5L256.9,314.9M252.2,334.1L262.4,337.7M249.2,323.7L252.2,334.1M262.4,337.7L264.6,349.2M256.9,314.9L249.2,323.7M268.8,315.9L272.4,329.8M272.4,329.8L262.4,337.7M237.2,319.2L229.0,327.7M274.6,295.6L276.5,307.5M245.2,356.4L255.3,359.5M229.3,342.3L243.1,343.1M263.0,291.8L274.6,295.6M243.1,343.1L245.2,356.4M264.6,349.2L255.3,359.5M256.9,314.9L268.8,315.9M229.0,327.7L229.3,342.3M252.2,334.1L243.1,343.1M255.4,302.5L255.2,290.2M272.4,329.8L281.7,330.3M237.2,319.2L227.3,316.1M245.2,356.4L240.3,367.2M255.3,359.5L255.8,370.6M263.0,291.8L267.1,281.2M114.0,398.2L101.5,394.0M140.0,405.6L135.7,391.7M140.7,371.9L130.4,367.9M144.6,384.6L140.7,371.9M110.0,419.5L96.1,417.1M143.9,428.8L153.3,419.5M100.2,384.5L108.1,375.1M133.1,426.2L130.4,414.5M114.0,398.2L122.5,389.7M135.7,391.7L144.6,384.6M122.5,389.7L119.1,376.5M119.1,376.5L130.4,367.9M96.1,417.1L92.5,404.1M92.5,404.1L101.5,394.0M118.9,411.6L114.0,398.2M153.3,419.5L149.8,408.0M155.2,386.6L144.6,384.6M130.4,414.5L140.0,405.6M130.4,414.5L118.9,411.6M149.8,408.0L160.3,398.2M160.3,398.2L155.2,386.6M110.0,419.5L118.9,411.6M119.1,376.5L108.1,375.1M143.9,428.8L133.1,426.2M101.5,394.0L100.2,384.5M135.7,391.7L122.5,389.7M130.4,367.9L129.8,358.1M96.1,417.1L86.7,421.3M143.9,428.8L150.7,437.8M108.1,375.1L101.1,366.0M155.2,386.6L167.1,383.1M160.3,398.2L171.1,399.2M237.0,241.7L246.5,230.4M246.5,230.4L256.7,231.0M256.7,231.0L263.0,225.3M202.0,262.3L209.2,255.6M185.5,228.6L194.1,220.1M185.6,281.0L199.3,283.7M183.0,247.9L192.1,240.6M219.4,258.1L224.7,270.6M205.3,224.9L210.0,234.5M202.0,262.3L206.9,275.7M206.9,275.7L218.6,280.0M192.1,240.6L203.2,244.6M203.2,244.6L209.2,255.6M189.4,259.0L202.0,262.3M203.2,244.6L210.0,234.5M185.5,228.6L192.1,240.6M182.6,267.7L185.6,281.0M182.6,267.7L189.4,259.0M218.6,280.0L224.7,270.6M209.2,255.6L219.4,258.1M194.1,220.1L205.3,224.9M199.3,283.7L206.9,275.7M194.1,220.1L191.5,209.6M183.0,247.9L173.7,243.8M205.3,224.9L207.3,214.0M214.4,244.8L224.7,238.2M193.5,258.8L205.4,264.7M182.3,264.2L193.5,258.8M204.1,226.9L212.4,219.7M169.1,247.6L170.0,259.3M182.3,239.5L192.1,246.7M205.4,264.7L204.0,276.8M212.4,219.7L226.1,224.3M190.7,221.3L204.1,226.9M179.9,226.8L182.3,239.5M170.0,259.3L182.3,264.2M194.0,283.6L204.0,276.8M192.1,246.7L193.5,258.8M192.1,246.7L203.0,237.8M179.9,226.8L190.7,221.3M182.0,277.7L194.0,283.6M204.1,226.9L203.0,237.8M169.1,247.6L182.3,239.5M205.4,264.7L214.9,257.3M224.7,238.2L236.1,234.4M170.0,259.3L160.2,263.3M226.1,224.3L233.8,218.2M190.7,221.3L189.3,208.8M179.9,226.8L173.8,217.6M251.2,418.7L258.9,426.4M235.5,416.3L224.2,420.4M225.1,454.0L230.2,462.8M255.5,440.4L246.1,446.2M224.2,420.4L222.3,433.5M243.1,423.0L237.1,437.1M240.7,456.2L230.2,462.8M227.8,442.1L225.1,454.0M235.5,416.3L243.1,423.0M237.1,437.1L227.8,442.1M222.3,433.5L227.8,442.1M237.1,437.1L246.1,446.2M258.9,426.4L255.5,440.4M251.2,418.7L243.1,423.0M246.1,446.2L240.7,456.2M251.2,418.7L259.0,410.4M240.7,456.2L242.8,468.3M229.8,422.8L218.2,424.7M218.2,424.7L206.5,418.0M206.5,418.0L197.1,424.4M197.1,424.4L184.1,419.0M184.1,419.0L172.3,419.6M172.3,419.6L169.4,410.2M169.4,410.2L156.6,409.2M275.9,317.7L282.5,329.2M282.5,329.2L274.6,338.9M274.6,338.9L285.1,349.0M285.1,349.0L280.8,360.7M280.8,360.7L293.6,364.8M293.6,364.8L296.5,375.0M229.8,261.6L226.8,270.5M226.8,270.5L232.7,282.1M248.0,269.7L241.2,282.3M257.6,289.1L247.4,289.9M241.2,282.3L232.7,282.1M257.5,268.3L248.0,269.7M243.1,259.8L248.0,269.7M257.5,268.3L262.7,279.5M243.1,259.8L229.8,261.6M241.2,282.3L247.4,289.9M262.7,279.5L257.6,289.1M226.8,270.5L216.2,269.4M232.7,282.1L222.2,285.6M243.1,259.8L239.8,249.6M262.6,271.1L269.9,282.6M228.9,243.4L222.3,254.4M278.9,258.5L266.5,258.6M222.3,254.4L231.2,263.8M247.1,250.7L241.7,261.9M262.6,271.1L249.2,273.4M241.7,261.9L231.2,263.8M260.5,248.6L247.1,250.7M240.4,241.4L247.1,250.7M278.9,258.5L287.7,267.4M287.7,267.4L281.1,280.0M281.1,280.0L269.9,282.6M241.7,261.9L249.2,273.4M260.5,248.6L266.5,258.6M266.5,258.6L262.6,271.1M269.9,282.6L277.1,290.3M240.4,241.4L233.0,231.9M236.1,406.3L226.9,400.7M230.9,365.0L219.9,371.0M249.8,351.2L241.5,345.5M259.8,344.2L249.8,351.2M237.4,381.9L227.7,388.2M243.2,397.2L246.5,387.4M265.1,361.2L268.5,350.3M213.3,366.3L213.7,354.8M255.9,368.4L249.1,363.1M230.9,365.0L231.2,354.2M231.2,354.2L223.0,347.6M218.4,382.8L219.9,371.0M246.5,387.4L237.4,381.9M255.5,380.0L255.9,368.4M238.5,370.8L230.9,365.0M268.5,350.3L259.8,344.2M226.9,400.7L227.7,388.2M249.1,363.1L249.8,351.2M249.1,363.1L238.5,370.8M255.5,380.0L246.5,387.4M243.2,397.2L236.1,406.3M223.0,347.6L213.7,354.8M265.1,361.2L255.9,368.4M219.9,371.0L213.3,366.3M241.5,345.5L231.2,354.2M236.1,406.3L233.7,415.6M241.5,345.5L242.1,336.1M268.5,350.3L276.1,344.5M213.3,366.3L203.2,364.9M213.7,354.8L205.9,349.8M157.7,434.2L167.8,428.2M167.8,428.2L164.6,414.7M145.3,431.0L141.6,418.0M126.7,399.9L135.9,392.9M151.6,409.6L149.4,397.5M157.7,434.2L145.3,431.0M141.6,418.0L151.6,409.6M164.6,414.7L151.6,409.6M141.6,418.0L129.6,414.3M149.4,397.5L135.9,392.9M129.6,414.3L126.7,399.9M124.5,167.7L137.4,170.2M100.7,165.5L103.0,175.6M163.4,152.5L157.2,162.7M137.8,148.2L143.9,161.2M143.9,161.2L137.4,170.2M120.3,156.2L124.5,167.7M143.9,161.2L157.2,162.7M107.5,154.9L120.3,156.2M103.0,175.6L115.7,177.0M100.7,165.5L89.0,168.3M115.7,177.0L111.0,186.4M146.4,255.3L153.7,264.1M184.5,254.4L192.0,264.3M134.9,235.8L127.6,246.8M167.3,244.7L171.5,255.6M183.8,272.6L172.5,273.3M153.8,226.6L147.2,236.0M146.4,255.3L134.2,255.8M171.5,255.6L166.0,265.4M166.0,265.4L153.7,264.1M172.0,235.9L167.3,244.7M165.7,224.3L153.8,226.6M153.4,244.7L146.4,255.3M166.0,265.4L172.5,273.3M184.5,254.4L171.5,255.6M147.2,236.0L134.9,235.8M147.2,236.0L153.4,244.7M165.7,224.3L172.0,235.9M167.3,244.7L153.4,244.7M192.0,264.3L183.8,272.6M127.6,246.8L134.2,255.8M153.7,264.1L147.3,275.0M172.0,235.9L180.3,226.0M165.7,224.3L169.7,214.8M76.0,161.8L68.0,163.1M66.3,181.6L61.9,173.1M68.0,163.1L64.3,153.1M80.6,169.5L76.0,161.8M82.5,150.8L76.0,161.8M80.6,169.5L75.3,182.4M68.0,163.1L61.9,173.1M75.3,182.4L66.3,181.6M55.7,473.0L52.3,487.1M62.3,451.8L51.3,454.9M66.3,440.3L62.3,451.8M74.7,477.3L72.2,490.2M42.1,489.2L31.7,481.8M55.7,473.0L48.6,467.0M51.3,454.9L42.1,446.4M48.6,467.0L34.3,470.4M72.2,490.2L59.8,493.1M59.8,493.1L52.3,487.1M68.8,470.4L55.7,473.0M45.1,437.0L42.1,446.4M70.9,460.6L62.3,451.8M70.9,460.6L68.8,470.4M66.3,440.3L56.3,432.0M56.3,432.0L45.1,437.0M34.3,470.4L31.7,481.8M74.7,477.3L68.8,470.4M52.3,487.1L42.1,489.2M51.3,454.9L48.6,467.0M66.3,440.3L69.7,430.1M45.1,437.0L42.4,425.9M80.7,452.5L77.9,463.9M77.9,463.9L68.6,467.5M68.6,467.5L65.0,476.0M221.9,455.1L220.1,467.5M200.0,469.0L208.9,474.8M201.8,456.4L200.0,469.0M208.9,474.8L220.1,467.5M213.0,449.2L221.9,455.1M220.1,467.5L229.8,473.1M208.9,474.8L209.6,486.3M113.5,165.6L106.3,176.3M85.4,165.5L90.6,178.2M106.3,176.3L111.6,187.1M133.1,175.4L125.8,186.3M146.6,197.3L134.4,197.9M125.8,186.3L111.6,187.1M145.9,173.8L133.1,175.4M125.6,164.4L133.1,175.4M145.9,173.8L153.2,187.0M106.3,176.3L90.6,178.2M125.8,186.3L134.4,197.9M105.9,154.6L113.5,165.6M153.2,187.0L146.6,197.3M85.4,165.5L72.7,162.4M146.6,197.3L156.6,205.4M145.9,173.8L159.4,174.5M151.4,464.0L142.9,466.7M174.2,457.4L168.0,447.8M164.1,425.4L153.6,430.6M184.8,452.1L174.2,457.4M172.3,434.3L164.1,425.4M135.3,457.3L138.8,444.2M151.4,464.0L157.4,450.2M168.0,447.8L172.3,434.3M157.4,450.2L149.9,442.5M149.9,442.5L153.6,430.6M158.4,470.1L151.4,464.0M181.1,433.2L172.3,434.3M168.7,467.8L174.2,457.4M184.8,452.1L189.5,441.7M189.5,441.7L181.1,433.2M149.9,442.5L138.8,444.2M142.9,466.7L135.3,457.3M168.0,447.8L157.4,450.2M253.9,446.4L244.1,451.8M244.1,451.8L233.6,447.9M233.6,447.9L226.3,452.5M226.3,452.5L216.2,451.0M216.2,451.0L205.7,457.0M205.7,457.0L195.8,451.4M195.8,451.4L185.4,458.1M210.4,385.2L204.1,376.5M226.4,424.5L213.7,427.7M189.7,406.8L178.3,409.3M195.7,398.5L189.7,406.8M172.2,400.3L161.6,399.3M210.4,385.2L205.0,397.6M211.5,407.1L205.0,397.6M204.1,376.5L193.2,377.3M206.3,417.5L197.2,416.2M178.3,409.3L172.2,400.3M178.4,389.9L171.3,378.4M223.2,405.7L211.5,407.1M213.7,427.7L206.3,417.5M190.9,428.5L181.0,428.8M205.0,397.6L195.7,398.5M178.4,389.9L172.2,400.3M197.2,416.2L189.7,406.8M159.1,379.5L155.9,389.5M197.2,416.2L190.9,428.5M195.7,398.5L189.9,387.0M171.3,378.4L159.1,379.5M189.9,387.0L178.4,389.9M229.6,413.8L223.2,405.7M211.5,407.1L206.3,417.5M229.6,413.8L226.4,424.5M178.3,409.3L173.9,418.8M193.2,377.3L189.9,387.0M161.6,399.3L155.9,389.5M204.1,376.5L208.7,367.6M226.4,424.5L233.4,431.4M161.6,399.3L151.6,399.2M171.3,378.4L164.2,371.8M155.9,389.5L145.7,387.3M259.6,407.3L247.5,410.8M243.1,386.0L241.1,399.9M255.8,385.7L243.1,386.0M255.8,385.7L264.1,394.6M241.1,399.9L247.5,410.8M264.1,394.6L259.6,407.3M259.6,407.3L268.2,417.7M243.1,386.0L236.2,377.4M241.1,399.9L228.9,401.9M85.3,199.7L80.3,188.2M80.3,188.2L83.3,181.6M83.3,181.6L74.0,175.1M74.0,175.1L77.4,166.9M77.4,166.9L70.6,159.2M211.9,336.8L217.0,326.2M217.0,326.2L210.2,317.8M194.0,327.4L201.0,315.4M185.2,305.9L195.3,306.0M201.0,315.4L210.2,317.8M184.9,327.5L194.0,327.4M200.1,337.6L194.0,327.4M184.9,327.5L177.8,316.4M200.1,337.6L211.9,336.8M201.0,315.4L195.3,306.0M177.8,316.4L185.2,305.9M211.9,336.8L217.2,344.3M210.2,317.8L219.4,312.8M185.2,305.9L177.5,299.6M195.3,306.0L192.8,296.4M184.9,327.5L175.4,331.1M137.2,287.4L131.9,298.0M112.6,289.0L118.9,299.3M121.7,318.8L134.4,316.7M117.6,281.1L112.6,289.0M116.7,308.2L121.7,318.8M131.9,298.0L140.0,306.6M140.0,306.6L134.4,316.7M117.6,281.1L128.3,277.4M118.9,299.3L131.9,298.0M128.3,277.4L137.2,287.4M128.3,277.4L130.7,268.7M142.3,393.7L157.1,396.8M159.9,409.4L173.6,410.1M119.0,392.4L123.0,403.9M119.6,426.2L131.9,428.8M114.6,416.0L119.6,426.2M147.5,371.1L160.2,374.2M142.3,393.7L136.4,406.9M123.0,403.9L114.6,416.0M136.4,406.9L141.6,417.9M141.6,417.9L131.9,428.8M160.2,374.2L163.2,385.9M163.2,385.9L157.1,396.8M138.5,381.4L142.3,393.7M182.4,399.5L173.6,410.1M163.2,385.9L177.5,387.1M126.7,380.9L119.0,392.4M126.7,380.9L138.5,381.4M177.5,387.1L182.4,399.5M157.1,396.8L159.9,409.4M123.0,403.9L136.4,406.9M159.9,409.4L170.9,414.7M182.4,399.5L193.1,399.7M126.7,380.9L117.4,373.1M179.4,179.9L173.1,190.4M143.9,158.1L139.8,169.4M162.9,190.1L156.6,180.5M173.7,169.8L161.4,169.3M143.8,179.8L139.8,169.4M156.7,158.8L143.9,158.1M181.1,159.3L173.7,169.8M161.4,169.3L156.7,158.8M161.5,149.6L156.7,158.8M161.4,169.3L156.6,180.5M173.1,190.4L162.9,190.1M179.4,179.9L173.7,169.8M156.6,180.5L143.8,179.8M181.1,159.3L189.1,154.7M143.8,179.8L135.9,184.8M182.4,445.6L177.2,455.6M193.4,445.5L182.4,445.6M195.8,467.7L181.8,467.0M218.7,495.6L214.0,482.9M232.4,474.3L219.6,473.4M199.4,459.8L195.8,467.7M219.6,473.4L212.4,459.5M181.8,467.0L177.2,455.6M212.4,459.5L199.4,459.8M238.1,487.0L232.4,474.3M214.0,482.9L201.6,479.4M238.1,487.0L233.0,497.3M219.6,473.4L214.0,482.9M233.0,497.3L218.7,495.6M199.4,459.8L193.4,445.5M193.4,445.5L188.5,435.5M181.8,467.0L171.1,464.7M218.7,495.6L225.1,505.5M212.4,459.5L218.2,451.4M109.1,232.8L108.9,220.8M108.9,220.8L96.9,213.2M86.3,231.7L87.1,218.7M62.9,217.5L74.8,210.3M100.1,198.8L87.4,191.7M87.1,218.7L96.9,213.2M96.9,239.6L86.3,231.7M96.9,213.2L100.1,198.8M73.2,237.4L86.3,231.7M74.8,210.3L76.6,197.9M76.6,197.9L87.4,191.7M73.2,237.4L61.6,231.1M96.9,239.6L109.1,232.8M87.1,218.7L74.8,210.3M61.6,231.1L62.9,217.5M109.1,232.8L118.2,241.0M100.1,198.8L105.5,189.7M76.6,197.9L70.5,187.3M61.6,231.1L51.5,236.4M148.1,415.8L161.1,416.1M163.9,434.3L170.0,424.2M150.7,436.5L163.9,434.3M150.7,436.5L140.0,427.7M170.0,424.2L161.1,416.1M140.0,427.7L148.1,415.8M170.0,424.2L181.2,423.7M116.4,381.2L124.2,374.3M103.4,367.4L105.2,380.0M116.4,381.2L118.0,395.7M96.3,401.1L107.5,403.5M93.8,387.8L96.3,401.1M110.7,356.9L121.6,360.4M93.8,387.8L105.2,380.0M121.6,360.4L124.2,374.3M107.5,403.5L118.0,395.7M105.2,380.0L116.4,381.2M93.8,387.8L84.7,393.7M249.4,385.4L237.4,395.7M237.4,395.7L237.8,409.0M276.1,423.9L263.5,432.8M240.2,433.4L241.9,447.9M273.3,412.0L276.1,423.9M252.3,427.5L240.2,433.4M259.9,392.2L249.4,385.4M298.5,408.6L285.7,404.1M299.2,422.6L287.0,432.0M276.2,452.0L265.1,447.4M263.5,432.8L252.3,427.5M265.1,447.4L253.6,452.7M253.6,452.7L241.9,447.9M250.7,414.7L237.8,409.0M288.5,443.1L276.2,452.0M285.7,404.1L273.3,412.0M250.7,414.7L252.3,427.5M287.0,432.0L276.1,423.9M226.6,415.7L229.6,429.8M287.0,432.0L288.5,443.1M273.3,412.0L261.6,407.2M261.6,407.2L250.7,414.7M298.5,408.6L299.2,422.6M263.5,432.8L265.1,447.4M259.9,392.2L261.6,407.2M240.2,433.4L229.6,429.8M259.9,392.2L260.7,380.3M298.5,408.6L309.0,405.7M285.7,404.1L294.9,396.5M253.6,452.7L251.4,465.6M288.5,443.1L297.9,451.9M164.5,434.7L157.3,444.1M126.7,459.1L121.6,468.8M102.8,482.1L112.5,492.0M119.5,450.1L126.7,459.1M110.6,472.2L102.8,482.1M138.9,436.6L125.2,439.4M142.5,478.8L129.2,479.7M121.6,468.8L110.6,472.2M129.2,479.7L124.6,491.0M124.6,491.0L112.5,492.0M142.0,426.5L138.9,436.6M157.3,444.1L144.1,445.5M147.6,468.1L142.5,478.8M125.2,439.4L119.5,450.1M103.1,461.8L110.6,472.2M138.7,458.7L126.7,459.1M138.7,458.7L147.6,468.1M119.5,450.1L105.8,450.5M105.8,450.5L103.1,461.8M155.4,424.4L142.0,426.5M138.9,436.6L144.1,445.5M155.4,424.4L164.5,434.7M121.6,468.8L129.2,479.7M164.5,434.7L172.2,427.4M142.5,478.8L147.4,488.2M142.0,426.5L147.0,415.3M147.6,468.1L157.2,473.0M154.9,329.6L150.9,319.2M127.0,325.7L136.2,316.4M119.9,298.1L132.2,301.8M136.2,316.4L150.9,319.2M115.5,320.1L127.0,325.7M133.5,335.9L127.0,325.7M115.5,320.1L111.6,308.6M133.5,335.9L146.5,339.3M136.2,316.4L132.2,301.8M111.6,308.6L119.9,298.1M146.5,339.3L152.4,350.3M115.5,320.1L102.1,322.2M133.5,335.9L132.0,348.5M69.2,426.8L56.6,428.3M87.2,409.4L92.5,399.5M61.7,383.5L48.4,384.0M92.5,399.5L82.3,389.9M74.3,413.3L66.4,404.3M45.6,396.3L48.4,384.0M70.2,392.2L61.7,383.5M87.2,409.4L74.3,413.3M66.4,404.3L70.2,392.2M82.3,389.9L70.2,392.2M66.4,404.3L53.8,407.6M56.6,428.3L48.9,420.0M92.5,399.5L103.0,395.9M61.7,383.5L59.6,371.0M45.6,396.3L33.2,393.6M304.9,363.7L306.2,350.9M259.1,423.3L248.1,415.0M248.3,376.6L238.6,383.4M271.4,366.7L261.4,358.2M282.8,361.9L271.4,366.7M260.0,396.8L247.8,404.3M304.9,363.7L294.9,368.7M269.9,419.6L270.3,406.8M293.8,380.5L294.9,368.7M282.3,387.8L272.8,379.7M248.3,376.6L250.2,365.8M247.8,404.3L238.8,395.3M238.8,395.3L238.6,383.4M270.3,406.8L260.0,396.8M281.4,400.4L282.3,387.8M260.9,384.7L248.3,376.6M294.9,368.7L282.8,361.9M248.1,415.0L247.8,404.3M272.8,379.7L271.4,366.7M272.8,379.7L260.9,384.7M282.8,361.9L283.2,348.9M281.4,400.4L270.3,406.8M269.9,419.6L259.1,423.3M260.0,396.8L260.9,384.7M293.8,380.5L282.3,387.8M261.4,358.2L250.2,365.8M293.7,342.0L283.2,348.9M248.1,415.0L242.3,425.9M238.6,383.4L226.7,383.4M250.2,365.8L240.6,357.0M238.8,395.3L227.5,400.4M189.6,384.9L178.1,380.5M141.4,423.1L139.1,410.4M200.1,379.1L198.1,365.7M118.7,425.8L116.5,414.2M198.1,365.7L186.6,361.5M157.2,383.2L156.6,369.7M168.1,389.1L157.2,383.2M166.3,363.6L164.9,349.7M189.6,384.9L200.1,379.1M116.5,414.2L126.8,407.2M130.4,429.5L118.7,425.8M149.1,404.4L146.6,389.6M135.4,374.1L143.5,365.9M156.6,369.7L166.3,363.6M178.9,368.1L186.6,361.5M126.8,407.2L125.2,394.5M139.1,410.4L149.1,404.4M136.7,385.8L135.4,374.1M178.9,368.1L166.3,363.6M146.6,389.6L157.2,383.2M187.2,348.4L174.3,342.8M146.6,389.6L136.7,385.8M168.1,389.1L178.1,380.5M139.1,410.4L126.8,407.2M178.1,380.5L178.9,368.1M125.2,394.5L136.7,385.8M130.4,429.5L141.4,423.1M156.6,369.7L143.5,365.9M186.6,361.5L187.2,348.4M164.9,349.7L174.3,342.8M200.1,379.1L212.1,377.0M118.7,425.8L110.7,434.2M116.5,414.2L107.7,420.0M164.9,349.7L166.9,340.0M84.0,249.3L73.6,243.5M78.1,223.7L69.5,231.9M91.3,227.9L78.1,223.7M91.3,227.9L92.0,240.1M69.5,231.9L73.6,243.5M92.0,240.1L84.0,249.3M84.0,249.3L88.2,259.9M73.6,243.5L66.9,251.2M78.1,223.7L75.8,212.7M69.5,231.9L60.7,227.6M258.7,451.7L263.3,464.0M223.6,446.4L229.2,457.3M217.7,488.3L221.9,498.3M241.9,471.2L255.3,473.8M247.5,451.0L240.7,460.7M221.1,468.2L223.6,477.7M240.3,492.8L232.6,500.7M205.6,453.9L209.0,466.2M229.2,457.3L221.1,468.2M235.2,479.6L240.3,492.8M263.3,464.0L255.3,473.8M223.6,477.7L217.7,488.3M223.6,477.7L235.2,479.6M247.5,451.0L258.7,451.7M241.9,471.2L235.2,479.6M209.0,466.2L221.1,468.2M214.1,444.2L223.6,446.4M221.9,498.3L232.6,500.7M223.6,446.4L221.1,436.5M169.2,272.8L178.1,282.8M137.7,265.6L150.3,262.7M158.6,272.2L169.2,272.8M140.5,287.0L151.9,284.3M137.7,265.6L131.9,276.0M158.3,296.1L172.9,293.0M150.3,262.7L158.6,272.2M114.4,265.7L121.7,276.7M118.8,254.9L114.4,265.7M131.9,276.0L140.5,287.0M118.8,254.9L130.2,254.7M178.1,282.8L172.9,293.0M121.7,276.7L131.9,276.0M151.9,284.3L158.3,296.1M130.2,254.7L137.7,265.6M178.1,282.8L187.9,284.9M172.9,293.0L180.9,300.2M114.4,265.7L103.1,264.4M121.7,276.7L109.9,278.3M77.4,181.5L75.0,171.8M75.0,171.8L85.3,167.3M85.3,167.3L82.5,161.2M82.5,161.2L94.0,155.0M40.5,253.1L51.0,259.8M82.7,259.2L70.0,264.0M40.5,253.1L31.6,254.7M63.5,242.6L61.7,256.0M50.8,271.4L59.4,279.6M61.7,256.0L51.0,259.8M72.7,239.8L63.5,242.6M51.0,259.8L50.8,271.4M70.0,264.0L68.1,275.3M68.1,275.3L59.4,279.6M30.2,268.5L38.4,277.2M72.7,239.8L82.0,247.0M61.7,256.0L70.0,264.0M31.6,254.7L30.2,268.5M82.0,247.0L82.7,259.2M50.8,271.4L38.4,277.2M82.7,259.2L92.2,259.2M63.5,242.6L66.6,233.0M38.4,277.2L30.6,283.2M167.4,415.3L173.6,424.8M168.4,435.5L157.0,437.2M152.8,428.6L157.0,437.2M167.4,415.3L157.5,415.2M158.1,395.4L152.4,406.3M173.6,424.8L168.4,435.5M168.6,394.1L158.1,395.4M157.5,415.2L152.8,428.6M168.6,394.1L174.6,401.5M152.4,406.3L157.5,415.2M174.6,401.5L167.4,415.3M157.0,437.2L153.5,448.1M152.8,428.6L144.1,436.0M152.4,406.3L145.1,400.4M174.6,401.5L180.7,394.1M265.0,451.2L267.9,461.2M302.7,417.8L292.0,425.4M260.3,429.2L249.8,436.7M256.6,416.8L260.3,429.2M277.3,412.0L266.7,410.2M281.3,424.3L271.5,432.5M265.0,451.2L252.1,446.7M306.7,399.2L297.7,405.2M306.5,388.4L306.7,399.2M287.0,456.8L279.9,464.5M287.7,405.0L277.3,412.0M279.9,464.5L267.9,461.2M292.0,425.4L281.3,424.3M272.9,441.4L265.0,451.2M286.1,391.8L287.7,405.0M293.7,437.3L286.0,445.6M266.7,410.2L256.6,416.8M271.5,432.5L260.3,429.2M306.5,388.4L293.6,384.3M271.5,432.5L272.9,441.4M292.0,425.4L293.7,437.3M286.0,445.6L272.9,441.4M297.7,405.2L287.7,405.0M277.3,412.0L281.3,424.3M297.7,405.2L302.7,417.8M249.8,436.7L252.1,446.7M293.6,384.3L286.1,391.8M249.8,436.7L240.5,441.2M293.7,437.3L302.7,443.1M93.9,267.2L84.5,275.5M70.3,257.4L72.8,268.8M64.1,286.9L73.9,291.5M72.8,268.8L61.4,276.0M81.5,249.7L70.3,257.4M84.5,275.5L86.6,285.4M86.6,285.4L73.9,291.5M81.5,249.7L93.3,254.4M72.8,268.8L84.5,275.5M93.3,254.4L93.9,267.2M93.9,267.2L105.2,264.6M109.3,457.9L99.7,453.8M105.0,433.5L97.8,441.6M116.3,438.1L105.0,433.5M116.3,438.1L118.8,447.9M97.8,441.6L99.7,453.8M118.8,447.9L109.3,457.9M109.3,457.9L112.9,467.8M105.0,433.5L103.4,422.9M116.3,438.1L125.2,430.0M166.2,309.8L176.5,303.7M166.2,309.8L163.4,320.2M144.4,318.9L154.1,325.3M144.2,308.7L144.4,318.9M156.9,290.9L168.9,285.4M168.9,285.4L178.0,291.6M144.2,308.7L156.5,303.4M178.0,291.6L176.5,303.7M154.1,325.3L163.4,320.2M156.5,303.4L166.2,309.8M144.4,318.9L134.9,327.0M168.9,285.4L172.8,275.8M274.7,434.9L263.2,445.5M292.0,413.7L279.2,411.4M290.5,450.9L280.5,461.8M241.2,452.8L226.6,448.5M309.3,429.8L296.9,428.3M270.6,422.4L255.1,418.7M280.5,461.8L267.4,458.7M267.4,458.7L263.2,445.5M305.0,455.1L290.5,450.9M315.7,444.8L309.3,429.8M288.6,437.2L274.7,434.9M233.5,426.2L224.0,435.4M296.9,428.3L292.0,413.7M296.9,428.3L288.6,437.2M315.7,444.8L305.0,455.1M290.5,450.9L288.6,437.2M255.1,418.7L246.1,429.0M263.2,445.5L251.6,440.6M226.6,448.5L224.0,435.4M279.2,411.4L270.6,422.4M246.1,429.0L233.5,426.2M279.2,411.4L283.0,399.2M280.5,461.8L286.9,473.0M226.6,448.5L215.1,452.1M255.1,418.7L248.2,408.3M267.4,458.7L266.6,470.9M305.0,455.1L316.1,460.2M177.3,259.0L165.9,267.0M165.9,267.0L156.0,259.7M156.0,259.7L143.8,260.3M143.8,260.3L138.8,249.8M138.8,249.8L128.3,251.6M59.0,281.9L58.6,270.4M58.1,304.2L70.5,297.7M98.4,242.3L96.0,230.7M109.8,245.7L98.4,242.3M58.6,270.4L66.9,262.0M68.2,286.0L59.0,281.9M48.8,286.8L59.0,281.9M98.2,264.8L108.0,257.1M58.1,304.2L49.5,299.7M87.9,259.2L87.0,247.8M77.7,234.6L87.5,227.6M48.8,286.8L36.5,284.4M66.9,262.0L68.3,251.1M78.2,267.9L87.9,259.2M77.6,244.8L77.7,234.6M108.0,257.1L109.8,245.7M87.0,247.8L98.4,242.3M87.0,247.8L77.6,244.8M70.5,297.7L68.2,286.0M49.5,299.7L48.8,286.8M78.2,267.9L66.9,262.0M58.6,270.4L46.7,266.2M68.3,251.1L77.6,244.8M98.2,264.8L87.9,259.2M36.5,284.4L36.2,271.8M68.2,286.0L78.0,277.9M36.2,271.8L46.7,266.2M96.0,230.7L87.5,227.6M70.5,297.7L68.4,306.9M96.0,230.7L103.5,222.2M108.0,257.1L120.1,256.1M87.5,227.6L90.0,216.5M36.2,271.8L25.8,273.7M141.2,184.8L150.3,181.4M100.3,183.6L109.6,193.2M131.5,221.9L141.6,219.9M112.8,215.2L124.0,210.4M91.1,186.2L100.3,183.6M104.6,204.2L112.8,215.2M145.7,204.9L141.6,219.9M150.3,181.4L158.2,191.0M141.2,184.8L137.6,195.7M85.3,163.5L81.7,175.9M165.4,165.0L173.6,176.1M124.0,210.4L131.5,221.9M120.8,175.9L117.9,189.4M94.7,160.2L104.7,169.3M109.6,193.2L104.6,204.2M117.9,189.4L126.5,198.1M126.5,198.1L124.0,210.4M114.4,167.4L120.8,175.9M158.2,191.0L171.1,187.7M154.7,170.2L150.3,181.4M81.7,175.9L91.1,186.2M145.7,204.9L157.5,204.6M104.7,169.3L100.3,183.6M104.7,169.3L114.4,167.4M154.7,170.2L165.4,165.0M173.6,176.1L171.1,187.7M126.5,198.1L137.6,195.7M85.3,163.5L94.7,160.2M158.2,191.0L157.5,204.6M109.6,193.2L117.9,189.4M137.6,195.7L145.7,204.9M141.2,184.8L150.1,181.0M141.6,219.9L147.6,229.2M94.7,160.2L87.6,152.9M162.2,366.2L160.4,376.4M140.8,377.2L150.1,382.0M140.9,366.3L140.8,377.2M140.9,366.3L152.0,358.4M150.1,382.0L160.4,376.4M152.0,358.4L162.2,366.2M162.2,366.2L171.3,360.1M150.1,382.0L150.7,393.3M152.0,358.4L152.3,348.8M118.5,366.9L110.4,377.6M118.5,366.9L132.2,365.2M132.1,389.7L140.1,400.0M110.4,377.6L117.2,389.0M132.2,365.2L139.0,377.5M140.1,400.0L152.3,401.1M151.0,376.3L157.4,389.6M177.9,376.1L171.3,387.8M158.9,364.7L151.0,376.3M139.0,377.5L151.0,376.3M158.9,364.7L171.5,363.9M139.0,377.5L132.1,389.7M157.4,389.6L171.3,387.8M117.2,389.0L132.1,389.7M171.5,363.9L177.9,376.1M163.9,204.9L169.2,194.9M150.4,205.9L163.9,204.9M150.5,184.2L163.2,185.3M124.8,165.7L132.3,174.2M114.3,186.5L128.2,185.6M145.6,194.9L150.5,184.2M163.2,185.3L169.2,194.9M133.4,195.8L145.6,194.9M108.9,175.7L114.3,186.5M132.3,174.2L145.0,173.4M145.0,173.4L150.5,184.2M108.9,175.7L114.6,164.4M128.2,185.6L132.3,174.2M114.6,164.4L124.8,165.7M145.6,194.9L150.4,205.9M150.4,205.9L157.4,215.2M114.3,186.5L104.1,187.0M227.1,308.5L224.6,320.9M204.6,314.6L214.1,322.0M218.7,342.6L230.4,338.2M214.1,322.0L211.1,332.3M207.8,303.1L204.6,314.6M211.1,332.3L218.7,342.6M224.6,320.9L232.2,326.8M232.2,326.8L230.4,338.2M207.8,303.1L220.4,300.7M214.1,322.0L224.6,320.9M220.4,300.7L227.1,308.5M230.4,338.2L235.0,348.0M220.4,300.7L219.9,289.9M221.6,212.3L220.4,223.3M220.4,223.3L209.0,227.4M209.0,227.4L210.0,234.8M210.0,234.8L201.6,241.4M201.6,241.4L204.8,253.9M197.8,273.5L185.7,268.2M185.3,306.5L174.8,312.8M153.4,311.9L152.4,323.6M186.5,293.3L185.3,306.5M164.4,307.0L153.4,311.9M197.8,273.5L197.9,288.1M206.8,294.2L197.9,288.1M185.7,268.2L176.3,272.9M205.9,307.6L197.2,315.0M184.0,332.2L174.7,326.9M174.8,312.8L164.4,307.0M174.7,326.9L162.7,332.9M162.7,332.9L152.4,323.6M194.3,327.5L184.0,332.2M197.9,288.1L186.5,293.3M163.9,293.3L164.4,307.0M197.2,315.0L194.3,327.5M186.5,293.3L174.9,287.1M174.9,287.1L163.9,293.3M206.8,294.2L205.9,307.6M174.8,312.8L174.7,326.9M176.3,272.9L174.9,287.1M184.0,332.2L185.4,345.2M194.3,327.5L201.5,337.6M163.9,293.3L154.4,286.0M263.1,418.8L251.9,421.1M273.3,424.9L269.2,438.5M263.1,418.8L273.3,424.9M228.7,446.0L239.0,452.3M210.0,439.1L216.2,446.9M245.8,430.0L234.6,432.9M228.7,446.0L216.2,446.9M227.2,425.7L213.0,428.7M254.0,439.6L249.7,450.4M245.8,430.0L254.0,439.6M251.9,421.1L245.8,430.0M234.6,432.9L228.7,446.0M249.7,450.4L239.0,452.3M263.1,418.8L273.5,411.2M269.2,438.5L279.1,437.9M239.0,452.3L236.0,463.1M50.8,322.1L61.9,315.9M72.2,333.7L72.5,321.6M82.4,304.3L70.4,297.7M72.5,321.6L83.0,316.3M83.0,316.3L82.4,304.3M61.9,315.9L61.7,304.8M61.7,304.8L70.4,297.7M61.8,339.8L50.9,335.3M72.5,321.6L61.9,315.9M50.9,335.3L50.8,322.1M72.2,333.7L76.0,344.0M61.7,304.8L56.6,294.3M50.9,335.3L43.9,342.2M117.8,447.8L126.0,438.7M136.7,483.7L142.8,473.4M118.2,473.1L124.0,459.5M177.4,462.3L186.1,452.3M144.0,448.5L139.6,437.1M124.0,459.5L138.4,462.4M123.0,483.4L118.2,473.1M103.9,470.5L118.2,473.1M164.8,440.1L178.2,438.3M103.9,470.5L95.9,459.6M155.9,497.0L162.5,484.6M138.4,462.4L144.0,448.5M142.8,473.4L157.9,473.1M157.7,449.4L164.8,440.1M126.0,438.7L139.6,437.1M165.3,463.6L177.4,462.3M165.3,463.6L157.7,449.4M142.8,473.4L138.4,462.4M124.0,459.5L117.8,447.8M144.0,448.5L157.7,449.4M141.6,495.5L155.9,497.0M162.5,484.6L157.9,473.1M95.9,459.6L103.2,449.5M141.6,495.5L136.7,483.7M123.0,483.4L136.7,483.7M103.2,449.5L117.8,447.8M186.1,452.3L178.2,438.3M126.0,438.7L118.5,427.2M177.4,462.3L190.3,463.0M186.1,452.3L197.2,448.5M139.6,437.1L137.1,425.9M155.9,497.0L161.2,508.3M141.6,495.5L143.3,508.7M250.7,451.7L247.0,463.8M231.6,481.9L241.5,491.0M240.9,440.8L250.7,451.7M234.2,468.6L231.6,481.9M258.0,424.8L246.3,427.6M266.5,433.2L263.4,448.1M268.9,470.1L257.1,474.0M241.5,491.0L237.0,502.8M247.0,463.8L234.2,468.6M257.1,474.0L253.4,487.5M253.4,487.5L241.5,491.0M225.6,457.8L212.2,463.2M274.2,457.7L268.9,470.1M216.1,497.4L225.9,508.2M246.3,427.6L240.9,440.8M225.6,457.8L234.2,468.6M263.4,448.1L250.7,451.7M210.7,476.0L219.9,483.9M263.4,448.1L274.2,457.7M219.9,483.9L216.1,497.4M258.0,424.8L266.5,433.2M237.0,502.8L225.9,508.2M247.0,463.8L257.1,474.0M212.2,463.2L210.7,476.0M231.6,481.9L219.9,483.9M258.0,424.8L262.3,413.5M266.5,433.2L274.8,424.9M268.9,470.1L281.8,471.4M237.0,502.8L236.5,515.6M225.6,457.8L215.4,452.7M274.2,457.7L284.7,453.4M210.7,476.0L198.4,477.9M72.3,293.3L62.1,303.7M47.9,289.0L50.7,300.2M44.2,322.7L57.6,326.6M50.7,300.2L40.3,311.5M56.6,277.5L47.9,289.0M40.3,311.5L44.2,322.7M62.1,303.7L66.8,315.2M66.8,315.2L57.6,326.6M56.6,277.5L71.7,282.8M50.7,300.2L62.1,303.7M71.7,282.8L72.3,293.3M47.9,289.0L41.9,279.0M40.3,311.5L29.7,315.7M56.6,277.5L58.5,267.1M120.7,433.7L110.1,432.4M113.0,411.1L104.0,420.4M83.5,432.0L89.9,442.9M104.0,420.4L93.1,420.0M125.7,410.6L113.0,411.1M93.1,420.0L83.5,432.0M110.1,432.4L101.1,443.2M101.1,443.2L89.9,442.9M125.7,410.6L129.0,424.7M104.0,420.4L110.1,432.4M113.0,411.1L115.7,398.5M83.5,432.0L72.8,432.9M89.9,442.9L79.9,451.2M125.7,410.6L133.5,403.4M94.0,190.4L80.9,186.4M87.9,247.6L90.0,261.2M57.3,175.2L60.3,187.5M80.9,172.0L67.5,169.1M85.2,223.8L76.0,231.0M65.7,156.2L67.5,169.1M84.2,209.5L85.2,223.8M109.9,245.4L112.0,258.8M70.3,194.5L60.3,187.5M67.5,169.1L57.3,175.2M94.0,190.4L92.8,202.4M106.3,208.1L92.8,202.4M80.9,186.4L70.3,194.5M108.1,219.7L95.8,228.0M87.9,247.6L75.8,242.7M112.0,258.8L100.6,265.5M56.3,151.6L44.1,158.4M100.6,265.5L90.0,261.2M97.9,241.9L87.9,247.6M65.7,156.2L56.3,151.6M80.9,172.0L80.9,186.4M95.8,228.0L85.2,223.8M95.8,228.0L97.9,241.9M84.2,209.5L73.6,205.3M57.3,175.2L45.8,171.1M109.9,245.4L97.9,241.9M106.3,208.1L108.1,219.7M44.1,158.4L45.8,171.1M76.0,231.0L75.8,242.7M70.3,194.5L73.6,205.3M112.0,258.8L117.2,268.4M108.1,219.7L117.3,226.1" stroke="#d4d4de" stroke-width="1.8" fill="none" stroke-linecap="round"/>
<g fill="#ececf2" stroke="#7c7c98" stroke-width="0.5"><circle cx="170.8" cy="236.0" r="1.9"/><circle cx="176.5" cy="219.7" r="1.8"/><circle cx="163.8" cy="175.5" r="2.1"/><circle cx="112.3" cy="189.6" r="1.9"/><circle cx="118.3" cy="234.6" r="1.9"/><circle cx="112.3" cy="189.6" r="1.8"/><circle cx="167.2" cy="217.8" r="1.9"/><circle cx="133.3" cy="222.5" r="2.1"/><circle cx="158.2" cy="184.2" r="2.0"/><circle cx="133.3" cy="222.5" r="1.8"/><circle cx="145.8" cy="185.4" r="2.1"/><circle cx="120.7" cy="305.1" r="1.7"/><circle cx="105.5" cy="305.1" r="1.7"/><circle cx="98.6" cy="292.3" r="2.1"/><circle cx="132.2" cy="227.3" r="2.0"/><circle cx="115.0" cy="272.3" r="2.0"/><circle cx="118.5" cy="249.7" r="2.0"/><circle cx="128.1" cy="250.2" r="1.8"/><circle cx="113.1" cy="238.5" r="1.8"/><circle cx="132.4" cy="260.2" r="1.9"/><circle cx="132.4" cy="260.2" r="2.0"/><circle cx="105.4" cy="283.6" r="1.8"/><circle cx="118.5" cy="249.7" r="1.8"/><circle cx="194.8" cy="397.8" r="1.9"/><circle cx="179.2" cy="387.9" r="1.8"/><circle cx="168.5" cy="383.0" r="1.8"/><circle cx="257.3" cy="438.8" r="1.8"/><circle cx="295.9" cy="473.6" r="1.7"/><circle cx="289.1" cy="454.3" r="1.9"/><circle cx="99.3" cy="403.4" r="2.0"/><circle cx="64.7" cy="413.4" r="2.0"/><circle cx="74.9" cy="381.4" r="2.0"/><circle cx="51.8" cy="384.6" r="1.9"/><circle cx="67.4" cy="400.8" r="2.1"/><circle cx="48.9" cy="371.9" r="1.7"/><circle cx="241.6" cy="370.9" r="1.9"/><circle cx="128.1" cy="384.6" r="1.7"/><circle cx="57.9" cy="379.9" r="2.0"/><circle cx="125.6" cy="350.0" r="1.7"/><circle cx="69.8" cy="388.5" r="2.0"/><circle cx="99.3" cy="391.9" r="1.8"/><circle cx="108.7" cy="375.4" r="2.0"/><circle cx="88.5" cy="362.5" r="1.7"/><circle cx="108.7" cy="375.4" r="2.1"/><circle cx="76.1" cy="359.5" r="2.0"/><circle cx="116.7" cy="356.3" r="1.8"/><circle cx="88.4" cy="375.5" r="2.0"/><circle cx="136.9" cy="288.4" r="1.7"/><circle cx="141.8" cy="300.4" r="1.7"/><circle cx="104.5" cy="206.1" r="1.8"/><circle cx="114.2" cy="285.9" r="1.7"/><circle cx="102.7" cy="260.2" r="2.0"/><circle cx="98.0" cy="248.2" r="1.9"/><circle cx="133.2" cy="277.0" r="1.8"/><circle cx="126.6" cy="196.6" r="1.9"/><circle cx="114.2" cy="285.9" r="1.8"/><circle cx="121.7" cy="219.7" r="1.8"/><circle cx="133.2" cy="277.0" r="1.8"/><circle cx="141.0" cy="231.6" r="1.8"/><circle cx="131.0" cy="209.2" r="2.0"/><circle cx="255.2" cy="290.2" r="1.8"/><circle cx="281.7" cy="330.3" r="1.9"/><circle cx="227.3" cy="316.1" r="1.9"/><circle cx="240.3" cy="367.2" r="1.7"/><circle cx="255.8" cy="370.6" r="1.9"/><circle cx="267.1" cy="281.2" r="1.8"/><circle cx="255.4" cy="302.5" r="1.8"/><circle cx="249.2" cy="323.7" r="1.7"/><circle cx="256.9" cy="314.9" r="1.8"/><circle cx="268.8" cy="315.9" r="1.9"/><circle cx="237.2" cy="319.2" r="1.8"/><circle cx="274.6" cy="295.6" r="2.0"/><circle cx="263.0" cy="291.8" r="1.7"/><circle cx="264.6" cy="349.2" r="2.0"/><circle cx="252.2" cy="334.1" r="1.9"/><circle cx="129.8" cy="358.1" r="2.1"/><circle cx="86.7" cy="421.3" r="2.0"/><circle cx="150.7" cy="437.8" r="2.0"/><circle cx="101.1" cy="366.0" r="1.7"/><circle cx="167.1" cy="383.1" r="1.7"/><circle cx="171.1" cy="399.2" r="1.8"/><circle cx="140.0" cy="405.6" r="1.8"/><circle cx="110.0" cy="419.5" r="2.0"/><circle cx="143.9" cy="428.8" r="1.8"/><circle cx="135.7" cy="391.7" r="2.1"/><circle cx="119.1" cy="376.5" r="1.9"/><circle cx="92.5" cy="404.1" r="2.0"/><circle cx="118.9" cy="411.6" r="2.0"/><circle cx="155.2" cy="386.6" r="2.0"/><circle cx="110.0" cy="419.5" r="2.1"/><circle cx="119.1" cy="376.5" r="1.8"/><circle cx="246.5" cy="230.4" r="2.0"/><circle cx="256.7" cy="231.0" r="1.9"/><circle cx="191.5" cy="209.6" r="1.7"/><circle cx="173.7" cy="243.8" r="1.8"/><circle cx="207.3" cy="214.0" r="1.7"/><circle cx="202.0" cy="262.3" r="1.9"/><circle cx="185.5" cy="228.6" r="1.8"/><circle cx="185.6" cy="281.0" r="2.0"/><circle cx="183.0" cy="247.9" r="2.0"/><circle cx="202.0" cy="262.3" r="1.8"/><circle cx="206.9" cy="275.7" r="1.8"/><circle cx="189.4" cy="259.0" r="1.9"/><circle cx="203.2" cy="244.6" r="2.1"/><circle cx="218.6" cy="280.0" r="1.8"/><circle cx="236.1" cy="234.4" r="1.9"/><circle cx="160.2" cy="263.3" r="2.0"/><circle cx="233.8" cy="218.2" r="1.9"/><circle cx="189.3" cy="208.8" r="2.0"/><circle cx="173.8" cy="217.6" r="1.9"/><circle cx="193.5" cy="258.8" r="2.0"/><circle cx="182.3" cy="264.2" r="1.8"/><circle cx="190.7" cy="221.3" r="1.7"/><circle cx="194.0" cy="283.6" r="1.9"/><circle cx="169.1" cy="247.6" r="2.1"/><circle cx="259.0" cy="410.4" r="1.8"/><circle cx="242.8" cy="468.3" r="1.9"/><circle cx="225.1" cy="454.0" r="1.7"/><circle cx="255.5" cy="440.4" r="2.1"/><circle cx="243.1" cy="423.0" r="2.0"/><circle cx="227.8" cy="442.1" r="2.0"/><circle cx="235.5" cy="416.3" r="1.7"/><circle cx="222.3" cy="433.5" r="2.0"/><circle cx="258.9" cy="426.4" r="1.8"/><circle cx="251.2" cy="418.7" r="2.0"/><circle cx="206.5" cy="418.0" r="1.8"/><circle cx="169.4" cy="410.2" r="1.9"/><circle cx="275.9" cy="317.7" r="1.9"/><circle cx="282.5" cy="329.2" r="1.7"/><circle cx="293.6" cy="364.8" r="2.0"/><circle cx="216.2" cy="269.4" r="2.0"/><circle cx="222.2" cy="285.6" r="1.6"/><circle cx="239.8" cy="249.6" r="1.6"/><circle cx="226.8" cy="270.5" r="2.1"/><circle cx="248.0" cy="269.7" r="2.1"/><circle cx="257.6" cy="289.1" r="1.8"/><circle cx="241.2" cy="282.3" r="1.9"/><circle cx="277.1" cy="290.3" r="2.0"/><circle cx="233.0" cy="231.9" r="2.0"/><circle cx="262.6" cy="271.1" r="1.8"/><circle cx="278.9" cy="258.5" r="1.8"/><circle cx="222.3" cy="254.4" r="1.9"/><circle cx="260.5" cy="248.6" r="1.8"/><circle cx="287.7" cy="267.4" r="1.8"/><circle cx="266.5" cy="258.6" r="2.0"/><circle cx="233.7" cy="415.6" r="1.9"/><circle cx="242.1" cy="336.1" r="1.8"/><circle cx="276.1" cy="344.5" r="2.0"/><circle cx="203.2" cy="364.9" r="2.1"/><circle cx="205.9" cy="349.8" r="2.1"/><circle cx="230.9" cy="365.0" r="2.0"/><circle cx="255.9" cy="368.4" r="1.7"/><circle cx="230.9" cy="365.0" r="1.7"/><circle cx="231.2" cy="354.2" r="2.0"/><circle cx="238.5" cy="370.8" r="1.8"/><circle cx="249.1" cy="363.1" r="1.8"/><circle cx="255.5" cy="380.0" r="1.9"/><circle cx="223.0" cy="347.6" r="1.9"/><circle cx="219.9" cy="371.0" r="1.9"/><circle cx="241.5" cy="345.5" r="2.0"/><circle cx="157.7" cy="434.2" r="2.1"/><circle cx="167.8" cy="428.2" r="1.8"/><circle cx="145.3" cy="431.0" r="2.1"/><circle cx="151.6" cy="409.6" r="1.9"/><circle cx="141.6" cy="418.0" r="2.0"/><circle cx="141.6" cy="418.0" r="2.0"/><circle cx="149.4" cy="397.5" r="1.8"/><circle cx="89.0" cy="168.3" r="1.6"/><circle cx="111.0" cy="186.4" r="2.0"/><circle cx="124.5" cy="167.7" r="1.8"/><circle cx="143.9" cy="161.2" r="2.1"/><circle cx="147.3" cy="275.0" r="2.0"/><circle cx="180.3" cy="226.0" r="1.6"/><circle cx="169.7" cy="214.8" r="2.0"/><circle cx="184.5" cy="254.4" r="1.7"/><circle cx="134.9" cy="235.8" r="1.9"/><circle cx="171.5" cy="255.6" r="1.8"/><circle cx="166.0" cy="265.4" r="2.0"/><circle cx="172.0" cy="235.9" r="2.0"/><circle cx="184.5" cy="254.4" r="1.9"/><circle cx="192.0" cy="264.3" r="1.8"/><circle cx="76.0" cy="161.8" r="2.1"/><circle cx="80.6" cy="169.5" r="1.8"/><circle cx="82.5" cy="150.8" r="2.1"/><circle cx="69.7" cy="430.1" r="2.1"/><circle cx="42.4" cy="425.9" r="2.1"/><circle cx="55.7" cy="473.0" r="2.1"/><circle cx="62.3" cy="451.8" r="2.0"/><circle cx="66.3" cy="440.3" r="2.0"/><circle cx="74.7" cy="477.3" r="1.8"/><circle cx="55.7" cy="473.0" r="2.1"/><circle cx="45.1" cy="437.0" r="2.0"/><circle cx="70.9" cy="460.6" r="1.9"/><circle cx="74.7" cy="477.3" r="2.0"/><circle cx="52.3" cy="487.1" r="1.8"/><circle cx="51.3" cy="454.9" r="1.9"/><circle cx="80.7" cy="452.5" r="1.9"/><circle cx="68.6" cy="467.5" r="1.7"/><circle cx="229.8" cy="473.1" r="1.8"/><circle cx="209.6" cy="486.3" r="1.8"/><circle cx="72.7" cy="162.4" r="1.9"/><circle cx="156.6" cy="205.4" r="1.8"/><circle cx="159.4" cy="174.5" r="2.1"/><circle cx="113.5" cy="165.6" r="1.9"/><circle cx="85.4" cy="165.5" r="1.8"/><circle cx="125.8" cy="186.3" r="2.0"/><circle cx="125.6" cy="164.4" r="1.8"/><circle cx="145.9" cy="173.8" r="1.8"/><circle cx="125.8" cy="186.3" r="1.9"/><circle cx="105.9" cy="154.6" r="2.0"/><circle cx="151.4" cy="464.0" r="1.7"/><circle cx="172.3" cy="434.3" r="1.8"/><circle cx="157.4" cy="450.2" r="1.8"/><circle cx="158.4" cy="470.1" r="1.7"/><circle cx="184.8" cy="452.1" r="2.0"/><circle cx="142.9" cy="466.7" r="1.8"/><circle cx="168.0" cy="447.8" r="2.0"/><circle cx="253.9" cy="446.4" r="1.8"/><circle cx="233.6" cy="447.9" r="2.0"/><circle cx="226.3" cy="452.5" r="2.0"/><circle cx="216.2" cy="451.0" r="1.9"/><circle cx="208.7" cy="367.6" r="1.7"/><circle cx="233.4" cy="431.4" r="2.0"/><circle cx="151.6" cy="399.2" r="1.8"/><circle cx="164.2" cy="371.8" r="1.8"/><circle cx="145.7" cy="387.3" r="1.8"/><circle cx="210.4" cy="385.2" r="2.0"/><circle cx="210.4" cy="385.2" r="2.0"/><circle cx="211.5" cy="407.1" r="2.0"/><circle cx="204.1" cy="376.5" r="1.7"/><circle cx="206.3" cy="417.5" r="2.1"/><circle cx="178.3" cy="409.3" r="1.9"/><circle cx="213.7" cy="427.7" r="2.0"/><circle cx="205.0" cy="397.6" r="1.9"/><circle cx="178.4" cy="389.9" r="1.7"/><circle cx="197.2" cy="416.2" r="1.8"/><circle cx="197.2" cy="416.2" r="1.9"/><circle cx="195.7" cy="398.5" r="2.1"/><circle cx="211.5" cy="407.1" r="2.0"/><circle cx="229.6" cy="413.8" r="1.8"/><circle cx="178.3" cy="409.3" r="2.0"/><circle cx="268.2" cy="417.7" r="1.9"/><circle cx="236.2" cy="377.4" r="1.7"/><circle cx="228.9" cy="401.9" r="1.7"/><circle cx="259.6" cy="407.3" r="1.9"/><circle cx="243.1" cy="386.0" r="1.9"/><circle cx="255.8" cy="385.7" r="1.8"/><circle cx="264.1" cy="394.6" r="1.7"/><circle cx="85.3" cy="199.7" r="1.8"/><circle cx="80.3" cy="188.2" r="1.8"/><circle cx="83.3" cy="181.6" r="1.9"/><circle cx="217.2" cy="344.3" r="1.9"/><circle cx="219.4" cy="312.8" r="1.9"/><circle cx="177.5" cy="299.6" r="2.1"/><circle cx="192.8" cy="296.4" r="1.9"/><circle cx="175.4" cy="331.1" r="1.7"/><circle cx="185.2" cy="305.9" r="1.9"/><circle cx="184.9" cy="327.5" r="1.7"/><circle cx="177.8" cy="316.4" r="2.1"/><circle cx="130.7" cy="268.7" r="2.1"/><circle cx="112.6" cy="289.0" r="1.9"/><circle cx="116.7" cy="308.2" r="2.1"/><circle cx="117.6" cy="281.1" r="1.8"/><circle cx="170.9" cy="414.7" r="2.1"/><circle cx="193.1" cy="399.7" r="2.0"/><circle cx="117.4" cy="373.1" r="1.7"/><circle cx="159.9" cy="409.4" r="2.1"/><circle cx="119.0" cy="392.4" r="2.0"/><circle cx="114.6" cy="416.0" r="1.8"/><circle cx="147.5" cy="371.1" r="2.1"/><circle cx="123.0" cy="403.9" r="1.8"/><circle cx="163.2" cy="385.9" r="2.1"/><circle cx="126.7" cy="380.9" r="1.8"/><circle cx="177.5" cy="387.1" r="2.0"/><circle cx="189.1" cy="154.7" r="2.0"/><circle cx="135.9" cy="184.8" r="1.9"/><circle cx="179.4" cy="179.9" r="2.0"/><circle cx="143.9" cy="158.1" r="2.1"/><circle cx="162.9" cy="190.1" r="2.1"/><circle cx="161.5" cy="149.6" r="2.1"/><circle cx="173.1" cy="190.4" r="2.1"/><circle cx="156.6" cy="180.5" r="2.0"/><circle cx="188.5" cy="435.5" r="1.7"/><circle cx="171.1" cy="464.7" r="2.0"/><circle cx="225.1" cy="505.5" r="1.7"/><circle cx="218.2" cy="451.4" r="2.0"/><circle cx="182.4" cy="445.6" r="1.9"/><circle cx="232.4" cy="474.3" r="1.9"/><circle cx="181.8" cy="467.0" r="1.7"/><circle cx="212.4" cy="459.5" r="2.0"/><circle cx="214.0" cy="482.9" r="1.9"/><circle cx="219.6" cy="473.4" r="2.1"/><circle cx="233.0" cy="497.3" r="1.8"/><circle cx="199.4" cy="459.8" r="2.1"/><circle cx="118.2" cy="241.0" r="1.9"/><circle cx="105.5" cy="189.7" r="1.9"/><circle cx="70.5" cy="187.3" r="2.1"/><circle cx="51.5" cy="236.4" r="1.7"/><circle cx="108.9" cy="220.8" r="2.0"/><circle cx="62.9" cy="217.5" r="1.7"/><circle cx="96.9" cy="213.2" r="2.0"/><circle cx="73.2" cy="237.4" r="1.8"/><circle cx="76.6" cy="197.9" r="1.7"/><circle cx="96.9" cy="239.6" r="1.9"/><circle cx="87.1" cy="218.7" r="1.9"/><circle cx="181.2" cy="423.7" r="2.1"/><circle cx="163.9" cy="434.3" r="1.8"/><circle cx="150.7" cy="436.5" r="2.1"/><circle cx="170.0" cy="424.2" r="2.1"/><circle cx="84.7" cy="393.7" r="1.6"/><circle cx="93.8" cy="387.8" r="1.8"/><circle cx="260.7" cy="380.3" r="2.0"/><circle cx="309.0" cy="405.7" r="1.7"/><circle cx="294.9" cy="396.5" r="1.8"/><circle cx="251.4" cy="465.6" r="2.1"/><circle cx="297.9" cy="451.9" r="1.7"/><circle cx="240.2" cy="433.4" r="2.1"/><circle cx="298.5" cy="408.6" r="2.0"/><circle cx="253.6" cy="452.7" r="2.1"/><circle cx="285.7" cy="404.1" r="1.9"/><circle cx="250.7" cy="414.7" r="2.0"/><circle cx="287.0" cy="432.0" r="2.0"/><circle cx="273.3" cy="412.0" r="1.7"/><circle cx="263.5" cy="432.8" r="1.9"/><circle cx="172.2" cy="427.4" r="1.6"/><circle cx="147.4" cy="488.2" r="1.9"/><circle cx="147.0" cy="415.3" r="1.9"/><circle cx="157.2" cy="473.0" r="1.8"/><circle cx="164.5" cy="434.7" r="1.9"/><circle cx="102.8" cy="482.1" r="1.8"/><circle cx="110.6" cy="472.2" r="1.7"/><circle cx="138.9" cy="436.6" r="1.7"/><circle cx="121.6" cy="468.8" r="1.8"/><circle cx="138.7" cy="458.7" r="2.1"/><circle cx="138.7" cy="458.7" r="2.0"/><circle cx="119.5" cy="450.1" r="2.1"/><circle cx="152.4" cy="350.3" r="1.7"/><circle cx="102.1" cy="322.2" r="1.7"/><circle cx="132.0" cy="348.5" r="1.9"/><circle cx="154.9" cy="329.6" r="1.8"/><circle cx="127.0" cy="325.7" r="2.1"/><circle cx="119.9" cy="298.1" r="2.1"/><circle cx="136.2" cy="316.4" r="2.1"/><circle cx="115.5" cy="320.1" r="1.7"/><circle cx="133.5" cy="335.9" r="2.0"/><circle cx="103.0" cy="395.9" r="1.9"/><circle cx="59.6" cy="371.0" r="1.6"/><circle cx="33.2" cy="393.6" r="1.7"/><circle cx="61.7" cy="383.5" r="2.1"/><circle cx="92.5" cy="399.5" r="2.0"/><circle cx="66.4" cy="404.3" r="1.8"/><circle cx="66.4" cy="404.3" r="1.8"/><circle cx="56.6" cy="428.3" r="2.0"/><circle cx="242.3" cy="425.9" r="1.8"/><circle cx="226.7" cy="383.4" r="1.9"/><circle cx="240.6" cy="357.0" r="1.6"/><circle cx="227.5" cy="400.4" r="1.7"/><circle cx="259.1" cy="423.3" r="1.7"/><circle cx="271.4" cy="366.7" r="2.1"/><circle cx="282.8" cy="361.9" r="1.8"/><circle cx="293.8" cy="380.5" r="2.1"/><circle cx="260.9" cy="384.7" r="1.9"/><circle cx="248.1" cy="415.0" r="2.1"/><circle cx="272.8" cy="379.7" r="2.0"/><circle cx="269.9" cy="419.6" r="1.8"/><circle cx="260.0" cy="396.8" r="2.0"/><circle cx="212.1" cy="377.0" r="2.0"/><circle cx="110.7" cy="434.2" r="2.1"/><circle cx="107.7" cy="420.0" r="1.9"/><circle cx="166.9" cy="340.0" r="2.1"/><circle cx="189.6" cy="384.9" r="1.9"/><circle cx="141.4" cy="423.1" r="2.1"/><circle cx="189.6" cy="384.9" r="2.0"/><circle cx="116.5" cy="414.2" r="1.7"/><circle cx="130.4" cy="429.5" r="2.1"/><circle cx="149.1" cy="404.4" r="2.0"/><circle cx="178.9" cy="368.1" r="1.8"/><circle cx="136.7" cy="385.8" r="1.8"/><circle cx="178.9" cy="368.1" r="2.0"/><circle cx="146.6" cy="389.6" r="1.8"/><circle cx="146.6" cy="389.6" r="2.1"/><circle cx="125.2" cy="394.5" r="1.8"/><circle cx="130.4" cy="429.5" r="1.7"/><circle cx="156.6" cy="369.7" r="1.9"/><circle cx="88.2" cy="259.9" r="1.9"/><circle cx="66.9" cy="251.2" r="1.6"/><circle cx="75.8" cy="212.7" r="1.8"/><circle cx="60.7" cy="227.6" r="1.9"/><circle cx="78.1" cy="223.7" r="2.0"/><circle cx="69.5" cy="231.9" r="1.9"/><circle cx="221.1" cy="436.5" r="1.9"/><circle cx="223.6" cy="446.4" r="1.8"/><circle cx="241.9" cy="471.2" r="1.8"/><circle cx="247.5" cy="451.0" r="1.7"/><circle cx="229.2" cy="457.3" r="1.7"/><circle cx="223.6" cy="477.7" r="2.0"/><circle cx="187.9" cy="284.9" r="1.7"/><circle cx="180.9" cy="300.2" r="2.0"/><circle cx="103.1" cy="264.4" r="1.7"/><circle cx="109.9" cy="278.3" r="1.9"/><circle cx="169.2" cy="272.8" r="1.8"/><circle cx="137.7" cy="265.6" r="1.8"/><circle cx="137.7" cy="265.6" r="2.1"/><circle cx="114.4" cy="265.7" r="2.0"/><circle cx="118.8" cy="254.9" r="2.0"/><circle cx="82.5" cy="161.2" r="1.9"/><circle cx="92.2" cy="259.2" r="1.7"/><circle cx="66.6" cy="233.0" r="2.0"/><circle cx="30.6" cy="283.2" r="1.9"/><circle cx="82.7" cy="259.2" r="2.0"/><circle cx="51.0" cy="259.8" r="2.0"/><circle cx="70.0" cy="264.0" r="2.1"/><circle cx="50.8" cy="271.4" r="2.0"/><circle cx="153.5" cy="448.1" r="1.8"/><circle cx="144.1" cy="436.0" r="2.1"/><circle cx="145.1" cy="400.4" r="2.1"/><circle cx="180.7" cy="394.1" r="1.8"/><circle cx="167.4" cy="415.3" r="1.8"/><circle cx="168.6" cy="394.1" r="1.8"/><circle cx="152.4" cy="406.3" r="1.9"/><circle cx="174.6" cy="401.5" r="2.1"/><circle cx="240.5" cy="441.2" r="1.8"/><circle cx="302.7" cy="443.1" r="1.7"/><circle cx="256.6" cy="416.8" r="1.9"/><circle cx="277.3" cy="412.0" r="1.7"/><circle cx="265.0" cy="451.2" r="1.8"/><circle cx="306.5" cy="388.4" r="1.9"/><circle cx="292.0" cy="425.4" r="1.9"/><circle cx="292.0" cy="425.4" r="1.8"/><circle cx="105.2" cy="264.6" r="1.9"/><circle cx="93.9" cy="267.2" r="1.8"/><circle cx="64.1" cy="286.9" r="1.9"/><circle cx="81.5" cy="249.7" r="1.8"/><circle cx="84.5" cy="275.5" r="1.8"/><circle cx="81.5" cy="249.7" r="2.0"/><circle cx="72.8" cy="268.8" r="1.8"/><circle cx="112.9" cy="467.8" r="2.1"/><circle cx="103.4" cy="422.9" r="1.7"/><circle cx="125.2" cy="430.0" r="2.0"/><circle cx="109.3" cy="457.9" r="1.8"/><circle cx="105.0" cy="433.5" r="1.7"/><circle cx="134.9" cy="327.0" r="2.0"/><circle cx="172.8" cy="275.8" r="1.6"/><circle cx="166.2" cy="309.8" r="1.9"/><circle cx="166.2" cy="309.8" r="1.7"/><circle cx="144.4" cy="318.9" r="2.1"/><circle cx="144.2" cy="308.7" r="2.0"/><circle cx="156.9" cy="290.9" r="1.8"/><circle cx="144.2" cy="308.7" r="2.1"/><circle cx="283.0" cy="399.2" r="1.7"/><circle cx="286.9" cy="473.0" r="2.1"/><circle cx="215.1" cy="452.1" r="2.0"/><circle cx="248.2" cy="408.3" r="2.0"/><circle cx="266.6" cy="470.9" r="2.0"/><circle cx="316.1" cy="460.2" r="1.9"/><circle cx="290.5" cy="450.9" r="1.9"/><circle cx="241.2" cy="452.8" r="2.1"/><circle cx="270.6" cy="422.4" r="1.9"/><circle cx="255.1" cy="418.7" r="1.7"/><circle cx="226.6" cy="448.5" r="1.9"/><circle cx="279.2" cy="411.4" r="1.7"/><circle cx="177.3" cy="259.0" r="2.1"/><circle cx="138.8" cy="249.8" r="2.1"/><circle cx="68.4" cy="306.9" r="1.9"/><circle cx="103.5" cy="222.2" r="2.0"/><circle cx="120.1" cy="256.1" r="2.1"/><circle cx="90.0" cy="216.5" r="2.0"/><circle cx="25.8" cy="273.7" r="1.8"/><circle cx="58.6" cy="270.4" r="1.8"/><circle cx="87.9" cy="259.2" r="2.1"/><circle cx="77.7" cy="234.6" r="1.9"/><circle cx="78.2" cy="267.9" r="1.9"/><circle cx="108.0" cy="257.1" r="1.8"/><circle cx="87.0" cy="247.8" r="1.8"/><circle cx="87.0" cy="247.8" r="1.8"/><circle cx="68.3" cy="251.1" r="1.8"/><circle cx="36.5" cy="284.4" r="1.8"/><circle cx="68.2" cy="286.0" r="2.0"/><circle cx="96.0" cy="230.7" r="1.8"/><circle cx="150.1" cy="181.0" r="2.1"/><circle cx="147.6" cy="229.2" r="1.9"/><circle cx="87.6" cy="152.9" r="1.8"/><circle cx="100.3" cy="183.6" r="1.8"/><circle cx="131.5" cy="221.9" r="2.0"/><circle cx="150.3" cy="181.4" r="2.1"/><circle cx="165.4" cy="165.0" r="1.9"/><circle cx="120.8" cy="175.9" r="1.7"/><circle cx="109.6" cy="193.2" r="2.0"/><circle cx="117.9" cy="189.4" r="2.0"/><circle cx="126.5" cy="198.1" r="2.0"/><circle cx="145.7" cy="204.9" r="1.8"/><circle cx="126.5" cy="198.1" r="2.0"/><circle cx="109.6" cy="193.2" r="1.8"/><circle cx="171.3" cy="360.1" r="1.6"/><circle cx="150.7" cy="393.3" r="1.8"/><circle cx="152.3" cy="348.8" r="1.6"/><circle cx="140.8" cy="377.2" r="1.8"/><circle cx="150.1" cy="382.0" r="2.0"/><circle cx="118.5" cy="366.9" r="2.0"/><circle cx="132.1" cy="389.7" r="2.0"/><circle cx="110.4" cy="377.6" r="2.0"/><circle cx="151.0" cy="376.3" r="2.0"/><circle cx="177.9" cy="376.1" r="1.8"/><circle cx="158.9" cy="364.7" r="1.8"/><circle cx="117.2" cy="389.0" r="1.9"/><circle cx="171.5" cy="363.9" r="1.8"/><circle cx="157.4" cy="215.2" r="1.7"/><circle cx="104.1" cy="187.0" r="1.7"/><circle cx="114.3" cy="186.5" r="1.9"/><circle cx="145.6" cy="194.9" r="1.9"/><circle cx="133.4" cy="195.8" r="1.8"/><circle cx="145.0" cy="173.4" r="2.0"/><circle cx="108.9" cy="175.7" r="1.9"/><circle cx="114.6" cy="164.4" r="2.0"/><circle cx="235.0" cy="348.0" r="1.8"/><circle cx="219.9" cy="289.9" r="2.0"/><circle cx="218.7" cy="342.6" r="2.0"/><circle cx="207.8" cy="303.1" r="2.1"/><circle cx="211.1" cy="332.3" r="1.8"/><circle cx="185.4" cy="345.2" r="1.8"/><circle cx="201.5" cy="337.6" r="1.6"/><circle cx="154.4" cy="286.0" r="1.7"/><circle cx="206.8" cy="294.2" r="1.9"/><circle cx="205.9" cy="307.6" r="1.9"/><circle cx="197.2" cy="315.0" r="2.0"/><circle cx="174.9" cy="287.1" r="1.8"/><circle cx="206.8" cy="294.2" r="1.9"/><circle cx="176.3" cy="272.9" r="1.9"/><circle cx="273.5" cy="411.2" r="1.9"/><circle cx="279.1" cy="437.9" r="1.8"/><circle cx="236.0" cy="463.1" r="2.0"/><circle cx="263.1" cy="418.8" r="2.1"/><circle cx="210.0" cy="439.1" r="1.9"/><circle cx="228.7" cy="446.0" r="2.0"/><circle cx="234.6" cy="432.9" r="2.0"/><circle cx="76.0" cy="344.0" r="1.6"/><circle cx="56.6" cy="294.3" r="2.0"/><circle cx="43.9" cy="342.2" r="2.1"/><circle cx="72.5" cy="321.6" r="1.8"/><circle cx="61.9" cy="315.9" r="1.8"/><circle cx="61.8" cy="339.8" r="1.9"/><circle cx="50.9" cy="335.3" r="2.1"/><circle cx="118.5" cy="427.2" r="1.6"/><circle cx="190.3" cy="463.0" r="2.1"/><circle cx="197.2" cy="448.5" r="2.0"/><circle cx="137.1" cy="425.9" r="1.8"/><circle cx="161.2" cy="508.3" r="1.9"/><circle cx="143.3" cy="508.7" r="1.6"/><circle cx="136.7" cy="483.7" r="1.8"/><circle cx="177.4" cy="462.3" r="1.8"/><circle cx="144.0" cy="448.5" r="1.9"/><circle cx="124.0" cy="459.5" r="1.8"/><circle cx="103.9" cy="470.5" r="2.1"/><circle cx="155.9" cy="497.0" r="1.7"/><circle cx="138.4" cy="462.4" r="1.8"/><circle cx="157.7" cy="449.4" r="1.8"/><circle cx="142.8" cy="473.4" r="1.9"/><circle cx="144.0" cy="448.5" r="2.0"/><circle cx="141.6" cy="495.5" r="2.0"/><circle cx="162.5" cy="484.6" r="1.9"/><circle cx="141.6" cy="495.5" r="1.8"/><circle cx="123.0" cy="483.4" r="1.9"/><circle cx="262.3" cy="413.5" r="1.7"/><circle cx="274.8" cy="424.9" r="1.9"/><circle cx="281.8" cy="471.4" r="1.8"/><circle cx="236.5" cy="515.6" r="1.6"/><circle cx="215.4" cy="452.7" r="1.7"/><circle cx="284.7" cy="453.4" r="1.9"/><circle cx="198.4" cy="477.9" r="1.6"/><circle cx="231.6" cy="481.9" r="1.8"/><circle cx="247.0" cy="463.8" r="1.8"/><circle cx="257.1" cy="474.0" r="1.9"/><circle cx="274.2" cy="457.7" r="1.9"/><circle cx="216.1" cy="497.4" r="1.9"/><circle cx="246.3" cy="427.6" r="2.1"/><circle cx="263.4" cy="448.1" r="1.7"/><circle cx="263.4" cy="448.1" r="1.9"/><circle cx="219.9" cy="483.9" r="1.9"/><circle cx="258.0" cy="424.8" r="1.9"/><circle cx="237.0" cy="502.8" r="2.1"/><circle cx="247.0" cy="463.8" r="1.9"/><circle cx="41.9" cy="279.0" r="1.9"/><circle cx="29.7" cy="315.7" r="1.6"/><circle cx="58.5" cy="267.1" r="1.9"/><circle cx="50.7" cy="300.2" r="1.8"/><circle cx="56.6" cy="277.5" r="2.0"/><circle cx="115.7" cy="398.5" r="1.9"/><circle cx="72.8" cy="432.9" r="2.1"/><circle cx="79.9" cy="451.2" r="1.7"/><circle cx="133.5" cy="403.4" r="1.9"/><circle cx="113.0" cy="411.1" r="1.8"/><circle cx="104.0" cy="420.4" r="1.8"/><circle cx="125.7" cy="410.6" r="2.0"/><circle cx="117.2" cy="268.4" r="1.6"/><circle cx="117.3" cy="226.1" r="1.9"/><circle cx="94.0" cy="190.4" r="1.9"/><circle cx="65.7" cy="156.2" r="1.9"/><circle cx="84.2" cy="209.5" r="2.0"/><circle cx="70.3" cy="194.5" r="1.8"/><circle cx="106.3" cy="208.1" r="1.8"/><circle cx="87.9" cy="247.6" r="2.0"/><circle cx="56.3" cy="151.6" r="2.0"/><circle cx="97.9" cy="241.9" r="1.9"/><circle cx="80.9" cy="172.0" r="2.1"/><circle cx="95.8" cy="228.0" r="1.9"/><circle cx="84.2" cy="209.5" r="1.7"/></g>
<g filter="url(#bl2)">
<ellipse cx="242" cy="382" rx="24" ry="22" fill="#e8e8f8" fill-opacity="0.45"/>
<ellipse cx="160" cy="246" rx="14" ry="9" fill="#e0e0f4" fill-opacity="0.35"/>
<ellipse cx="150" cy="446" rx="90" ry="8" fill="#e8e8f0" fill-opacity="0.35"/>
</g>
<circle cx="78.6" cy="450.7" r="3.8" fill="#505058" stroke="#303036" stroke-width="0.6"/>
<circle cx="89" cy="449" r="3.8" fill="#505058" stroke="#303036" stroke-width="0.6"/>
<circle cx="156.3" cy="449.7" r="3.8" fill="#505058" stroke="#303036" stroke-width="0.6"/>
<circle cx="192.5" cy="451" r="3.8" fill="#505058" stroke="#303036" stroke-width="0.6"/>
<circle cx="206" cy="448.7" r="3.8" fill="#505058" stroke="#303036" stroke-width="0.6"/>
<circle cx="216.3" cy="449.7" r="3.8" fill="#505058" stroke="#303036" stroke-width="0.6"/>
<circle cx="228.7" cy="448.7" r="3.8" fill="#505058" stroke="#303036" stroke-width="0.6"/>
<circle cx="246.3" cy="440.4" r="3.8" fill="#505058" stroke="#303036" stroke-width="0.6"/>
<circle cx="249.4" cy="448.7" r="3.8" fill="#505058" stroke="#303036" stroke-width="0.6"/>
<circle cx="266" cy="445.5" r="3.8" fill="#505058" stroke="#303036" stroke-width="0.6"/>
</g>
<rect x="61" y="57" width="210" height="397.5" fill="none" stroke="#000" stroke-width="2"/>
<line x1="62" y1="77.9" x2="270" y2="77.9" stroke="#4040c0" stroke-width="0.8"/>
<path d="M61,374h12M271,374h-13M61,293h12M271,293h-13M61,212h12M271,212h-13M61,131h12M271,131h-13M101,454.5v-11M141,454.5v-11M181,454.5v-11M221,454.5v-11M261.5,454.5v-11" stroke="#000" stroke-width="2"/>
<text x="44" y="462.7" text-anchor="middle" font-size="20" font-weight="bold">0</text>
<text x="44" y="380.5" text-anchor="middle" font-size="20" font-weight="bold">1</text>
<text x="44" y="299.5" text-anchor="middle" font-size="20" font-weight="bold">2</text>
<text x="44" y="219.4" text-anchor="middle" font-size="20" font-weight="bold">3</text>
<text x="44" y="139.7" text-anchor="middle" font-size="20" font-weight="bold">4</text>
<text x="44" y="68.8" text-anchor="middle" font-size="20" font-weight="bold">5</text>
<text x="60.5" y="478" text-anchor="middle" font-size="20" font-weight="bold">0</text>
<text x="141" y="478" text-anchor="middle" font-size="20" font-weight="bold">1</text>
<text x="221" y="478" text-anchor="middle" font-size="20" font-weight="bold">2</text>
<text x="181.6" y="503.1" text-anchor="middle" font-size="20" font-weight="bold"><tspan font-style="italic">x</tspan> (nm)</text>
<text transform="translate(18.8,252) rotate(-90)" text-anchor="middle" font-size="20" font-weight="bold"><tspan font-style="italic">z</tspan> (nm)</text>
</svg></body></html>
